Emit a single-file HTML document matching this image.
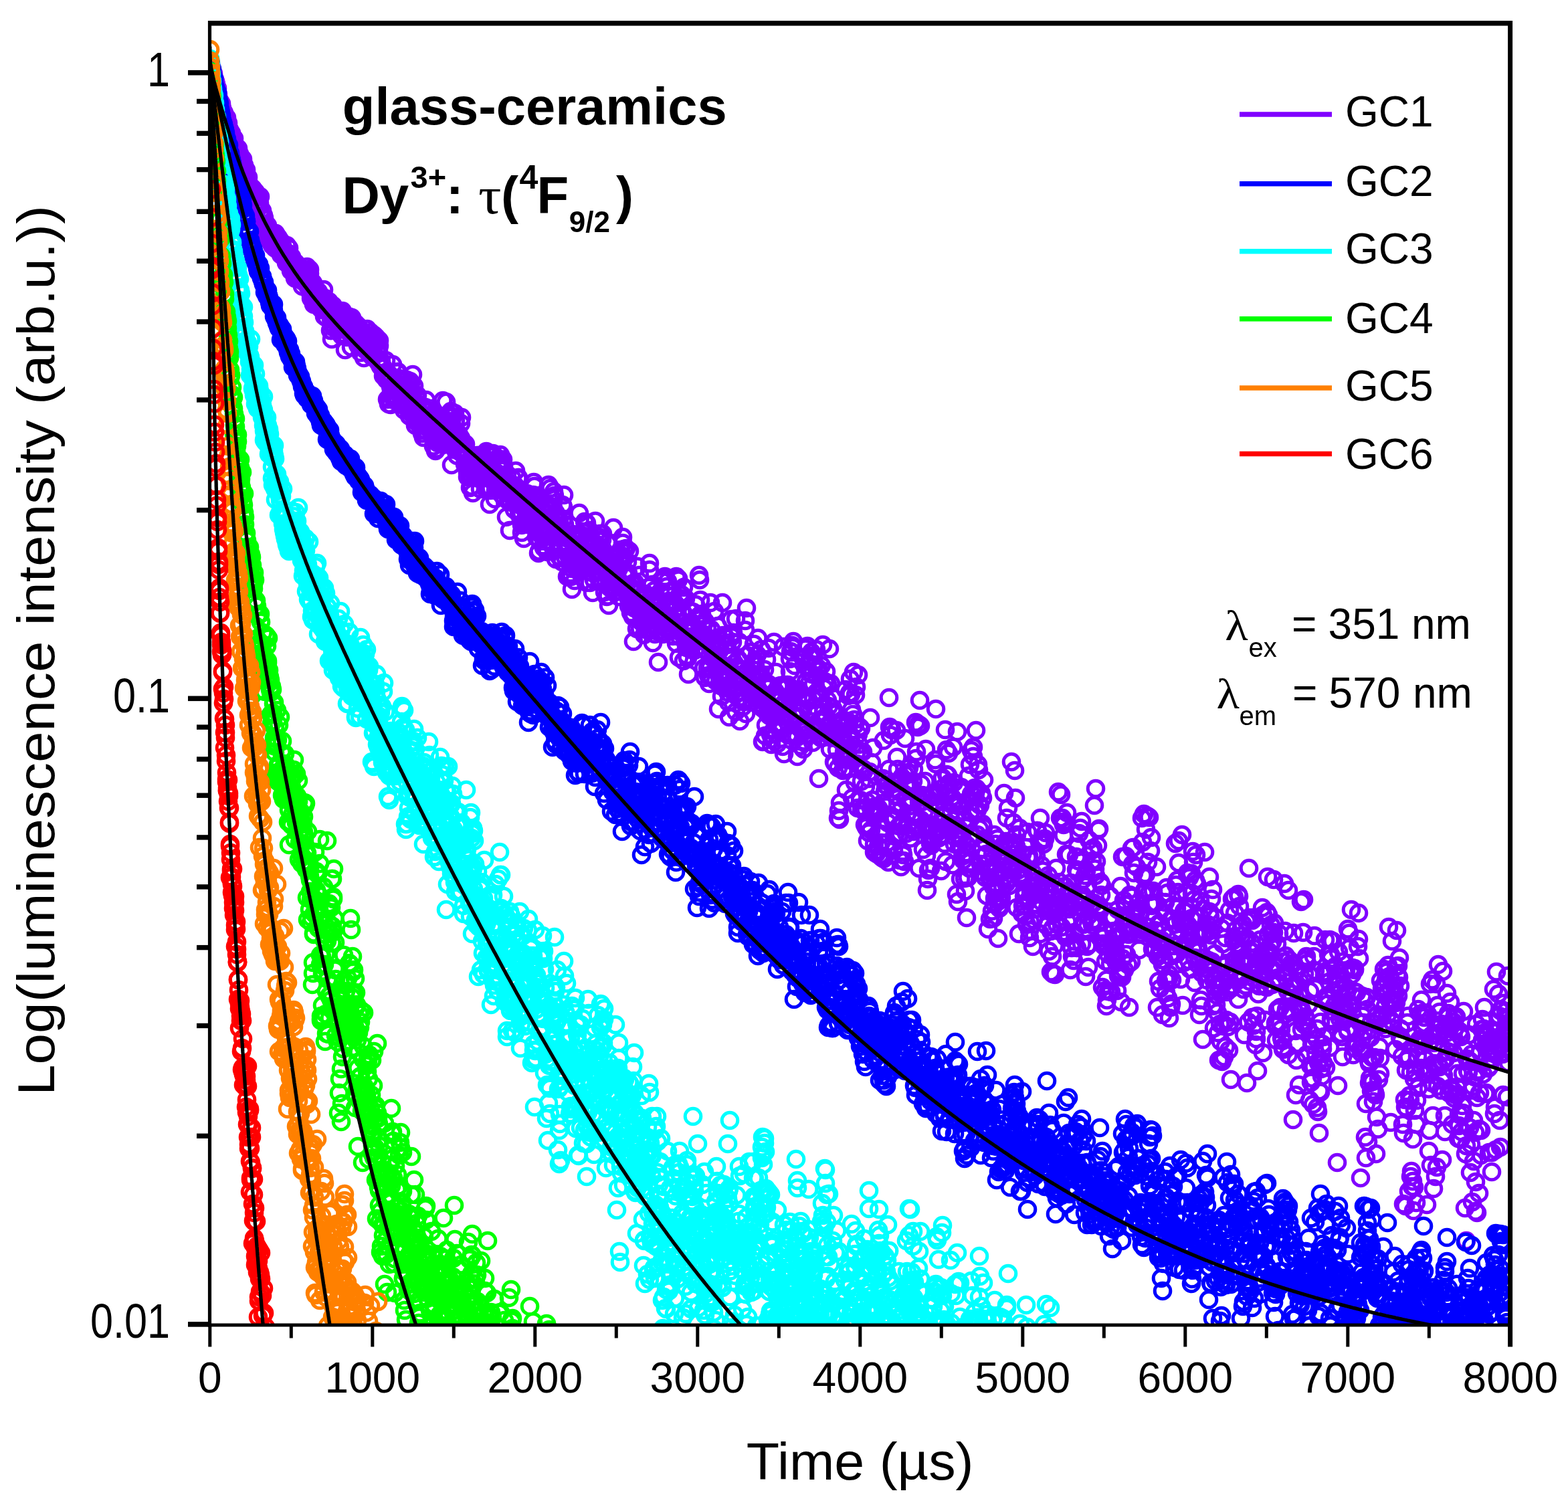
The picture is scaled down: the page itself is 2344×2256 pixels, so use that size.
<!DOCTYPE html>
<html><head><meta charset="utf-8"><title>Luminescence decay</title>
<style>html,body{margin:0;padding:0;background:#fff;width:2344px;height:2256px;overflow:hidden}svg{display:block}</style>
</head><body>
<svg xmlns="http://www.w3.org/2000/svg" width="2344" height="2256" viewBox="0 0 2344 2256">
<defs>
<marker id="mGC1" markerUnits="userSpaceOnUse" markerWidth="40" markerHeight="40" refX="20" refY="20" orient="0" overflow="visible"><circle cx="20" cy="20" r="11.8" fill="none" stroke="#8000ff" stroke-width="5.0"/></marker>
<marker id="mGC2" markerUnits="userSpaceOnUse" markerWidth="40" markerHeight="40" refX="20" refY="20" orient="0" overflow="visible"><circle cx="20" cy="20" r="11.8" fill="none" stroke="#0000ff" stroke-width="5.0"/></marker>
<marker id="mGC3" markerUnits="userSpaceOnUse" markerWidth="40" markerHeight="40" refX="20" refY="20" orient="0" overflow="visible"><circle cx="20" cy="20" r="11.8" fill="none" stroke="#00ffff" stroke-width="5.0"/></marker>
<marker id="mGC4" markerUnits="userSpaceOnUse" markerWidth="40" markerHeight="40" refX="20" refY="20" orient="0" overflow="visible"><circle cx="20" cy="20" r="11.8" fill="none" stroke="#00ff00" stroke-width="5.0"/></marker>
<marker id="mGC5" markerUnits="userSpaceOnUse" markerWidth="40" markerHeight="40" refX="20" refY="20" orient="0" overflow="visible"><circle cx="20" cy="20" r="11.8" fill="none" stroke="#ff8000" stroke-width="5.0"/></marker>
<marker id="mGC6" markerUnits="userSpaceOnUse" markerWidth="40" markerHeight="40" refX="20" refY="20" orient="0" overflow="visible"><circle cx="20" cy="20" r="11.8" fill="none" stroke="#ff0000" stroke-width="5.0"/></marker>
<clipPath id="pa"><rect x="313" y="35" width="1942" height="1945"/></clipPath>
</defs>
<rect width="2344" height="2256" fill="#fff"/>
<g clip-path="url(#pa)">
<path fill="none" stroke="none" marker-start="url(#mGC1)" marker-mid="url(#mGC1)" marker-end="url(#mGC1)" d="M314 95l1 2 0 4 1 4 1 2 0 4 1 0 1-1 1 7 0 3 1-1 1 3 1 4 0 5 1 1 1 0 0 9 1 0 1 8 1 1 0 4 1-2 1 6 1-3 0 3 1 4 1 9 0-4 1 0 1 2 1 8 0-2 1 4 1 2 1-5 0 9 1 0 1-1 1 8 0 1 1 1 1 3 0 8 1-3 1-3 1 14 0-8 1 6 1 5 1-9 0 6 1 10 1-3 0-1 1 5 1-2 1 4 0-2 1-2 1 11 1-3 0 5 1-1 1 7 0-1 1 0 1-3 1 1 0 13 1 0 1-4 1 15 0-5 1 1 1-4 0 5 1 8 1 3 1 2 0-7 1 13 1 1 1-1 0 4 1 2 1 7 0-5 1 4 1-8 1 4 0 4 1-3 1 6 1-6 0 6 1-2 1 11 1-8 0 14 1 3 1-8 0 6 1-5 1-10 1 21 0 2 1-3 1 1 1 7 0 4 1-4 1 4 0 13 1-4 1 2 1 9 0-7 1 10 1-12 1 7 0 2 1 6 1-2 0 10 1 0 1-10 1 14 0-16 1 19 1-17 1 13 0-12 1 6 1 14 0-22 1 0 1 12 1 3 0 0 1 7 1-16 1 15 0-3 1 7 1 0 1 7 0-20 1 14 1-8 0 9 1 7 1-2 1 3 0-4 1 3 1 0 1 10 0-5 1-21 1 20 0 4 1-12 1-8 1 26 0-10 1 6 1 12 1-21 0 9 1 1 1 10 0-10 1 11 1-2 1 11 0 2 1-23 1 18 1-7 0 4 1 5 1 1 0-10 1 10 1-1 1-1 0-11 1 6 1 3 1 10 0 8 1-23 1 0 0 10 1-7 1-2 1-1 0-1 1 14 1-19 1 29 0-20 1 5 1-2 1-8 0 6 1 29 1 8 0-26 1 21 1-10 1-8 0 27 1 5 1-26 1 2 0 4 1-3 1 10 0 9 1-14 1 11 1 10 0-22 1 8 1-3 1 17 0-2 1 6 1 0 0-11 1 12 1-13 1 1 0-18 1 40 1-27 1 12 0-1 1 18 1-11 0-13 1 10 1 0 1 5 0-15 1 15 1 28 1-17 0 17 1 13 1-29 1-21 0 16 1 17 1-3 0-24 1 12 1 1 1 2 0-1 1-9 1 4 1 4 0 17 1-19 1 15 0-21 1 31 1-14 1-1 0 18 1-37 1 3 1 24 0-14 1 5 1 40 0-38 1 5 1-1 1 15 0-10 1 0 1-17 1 11 0 5 1-19 1 26 0-1 1 20 1-44 1 8 0 1 1 4 1 8 1 0 0 7 1 0 1-2 0-17 1 13 1 9 1 8 0 2 1-28 1 15 1 6 0 6 1 12 1-14 1-12 0 17 1-2 1 0 0-5 1 24 1-20 1 8 0-23 1 22 1-18 1-12 0 25 1 5 1-10 0 3 1 14 1-18 1-14 0 24 1-1 1 12 1-19 0 21 1-2 1-31 0 27 1-25 1 0 1 10 0-4 1-4 1 16 1 7 0 13 1-17 1-15 0 8 1 29 1 2 1-1 0-7 1 10 1-2 1 2 0 12 1-2 1-1 1 6 0-8 1-18 1 19 0 10 1 29 1-33 1 40 0-8 1-36 1 3 1 15 0 27 1-21 1 6 0-22 1-23 1 30 1 17 0 6 1-20 1 1 1 16 0-23 1 21 1-37 0 1 1-1 1 25 1-15 0 11 1 6 1 0 1 18 0 4 1-36 1 16 0-6 1-11 1 45 1-16 0-16 1-4 1 13 1-22 0 13 1 25 1-4 1-28 0 7 1 41 1-52 0 13 1-10 1 29 1 0 0 17 1-59 1 44 1-27 0 38 1-14 1 35 0-23 1-22 1 40 1-40 0 13 1 27 1-8 1 1 0-6 1 11 1 7 0-8 1 15 1 5 1-22 0-17 1 45 1-29 1 12 0 6 1-34 1 25 0-36 1 40 1-22 1 11 0 10 1-25 1 14 1-13 0 11 1 21 1-18 0-2 1-14 1 36 1-15 0 35 1-44 1 35 1 16 0-33 1-20 1 50 1-9 0-7 1 6 1-30 0 21 1-3 1-25 1 23 0-23 1 25 1 4 1 12 0-66 1 37 1-9 0 5 1-3 1 3 1-31 0 51 1 11 1-10 1 7 0-37 1-1 1 32 0 9 1-19 1-29 1 80 0-64 1 29 1-37 1 38 0-15 1 24 1-11 0-41 1 10 1 22 1 9 0 22 1-28 1-5 1 2 0 2 1 21 1-19 1 1 0-22 1-9 1 36 0 15 1-12 1 13 1 5 0-11 1 24 1-30 1 17 0-3 1 13 1 15 0 7 1-12 1 9 1-16 0 6 1 29 1-31 1 29 0-17 1-9 1 36 0-49 1-4 1 5 1 4 0-3 1 12 1-15 1 6 0-12 1 29 1-29 0 3 1 8 1 8 1-18 0 49 1-45 1 5 1 0 0-1 1 23 1-9 0-19 1 4 1 4 1 38 0-45 1-11 1 2 1 15 0 39 1-52 1 21 1 54 0-62 1 41 1-3 0-13 1-36 1 35 1-13 0-25 1 4 1 35 1 5 0 24 1-13 1-26 0 0 1 5 1-19 1 34 0-18 1-18 1 1 1-12 0 11 1 12 1-13 0 25 1 16 1-44 1 14 0-4 1 46 1-27 1 9 0 11 1 37 1-42 0-22 1 13 1 27 1-11 0-15 1 70 1-44 1-14 0-1 1-20 1 12 1 18 0 0 1-12 1 30 0-13 1-23 1-22 1 43 0-4 1-6 1-22 1 28 0-29 1 55 1-17 0 3 1-19 1-3 1 63 0-11 1-29 1 27 1 22 0-62 1 13 1 0 0 22 1-36 1 28 1-32 0 46 1-3 1-27 1 22 0-32 1 8 1 30 0-24 1 12 1-28 1 37 0-3 1-36 1-19 1 6 0 43 1-2 1-27 1 39 0 23 1-26 1-7 0 35 1 22 1-3 1-53 0 38 1-15 1-8 1-9 0 24 1-21 1 36 0-14 1 17 1-54 1 27 0 17 1-11 1-5 1-24 0 56 1-16 1-20 0-64 1 31 1 21 1-18 0-29 1 47 1 3 1-34 0 16 1-3 1 26 0-50 1 6 1 26 1 0 0 69 1-65 1 20 1-13 0-5 1 23 1 36 0-53 1 25 1-12 1 5 0-7 1 50 1-85 1 21 0-18 1-18 1 44 1 49 0-20 1 12 1-14 0-10 1 61 1-57 1 55 0-43 1 16 1 10 1-3 0 17 1 5 1 19 0-31 1-48 1-3 1 16 0 16 1 37 1-60 1 38 0-3 1 3 1-14 0 10 1-13 1 25 1-22 0-65 1 53 1 4 1-20 0-4 1 47 1-25 0-27 1 16 1 3 1-34 0 54 1-19 1 15 1-48 0 89 1-34 1-2 1-28 0 3 1-17 1 78 0-60 1 28 1 10 1-31 0 38 1 30 1-49 1 30 0-26 1-28 1 0 0-34 1 43 1 34 1-22 0 4 1 7 1-42 1 27 0 37 1-69 1 22 0-11 1 9 1-11 1 19 0-28 1 25 1 4 1 3 0 55 1-33 1 5 0-11 1 46 1-80 1 41 0 38 1 14 1-39 1-5 0 18 1-22 1 21 0-33 1 35 1-19 1-28 0-44 1 97 1-16 1 9 0-47 1 52 1-22 1-15 0 23 1-4 1-16 0 42 1-21 1-31 1-18 0 8 1 44 1-37 1-34 0 9 1 21 1 26 0-38 1 40 1 22 1-4 0-59 1 42 1-22 1 53 0-36 1 49 1-9 0-73 1 53 1 39 1-10 0-9 1-24 1 49 1 37 0-41 1-9 1-2 0-36 1 29 1-15 1 55 0-57 1-36 1 40 1 16 0 4 1-47 1 80 1-22 0-15 1-7 1 35 0-21 1 17 1-12 1 7 0 27 1-33 1-28 1 53 0-22 1-27 1 50 0-36 1 36 1-64 1-36 0 10 1 71 1-27 1 19 0 2 1-43 1 87 0-69 1 35 1-44 1 39 0 26 1-27 1-13 1 21 0-14 1 29 1 46 0-91 1 5 1 15 1 0 0-34 1 44 1 5 1-18 0-47 1 79 1-82 0 59 1 13 1-76 1 46 0 38 1-27 1-42 1-8 0 56 1-26 1-8 1 46 0-30 1 15 1 18 0 2 1-14 1 4 1 19 0-1 1-48 1 32 1-22 0-10 1 20 1-60 0 100 1-54 1 35 1-78 0 2 1 116 1-31 1-57 0-7 1 1 1 27 0-19 1-7 1 26 1-38 0 110 1-91 1 61 1-63 0 48 1 25 1-34 0 46 1 4 1 24 1-42 0-14 1-18 1 37 1-41 0 32 1 1 1-26 1-22 0 46 1-5 1-5 0-10 1 31 1-68 1 52 0-32 1 44 1-43 1-2 0 29 1-92 1 60 0-53 1 30 1 61 1-10 0-30 1 15 1 2 1 14 0 50 1-50 1 64 0-84 1 42 1 2 1-17 0-17 1 60 1 11 1-19 0 31 1-30 1-91 0 97 1-57 1 70 1-52 0 25 1-6 1-21 1-43 0 64 1 5 1 35 1-46 0 29 1-34 1 32 0-63 1 124 1-50 1-38 0 40 1 13 1-17 1 33 0-47 1-93 1 49 0 77 1-8 1-15 1-52 0 66 1-3 1-54 1 3 0 47 1 24 1 15 0-25 1 47 1-96 1 47 0-38 1-59 1 26 1 81 0-73 1-14 1 70 0 5 1-29 1 47 1-114 0 139 1-39 1-26 1 1 0-13 1-1 1 24 0-50 1 118 1-62 1 26 0-23 1 0 1 38 1-8 0-48 1 16 1 32 1-107 0-14 1 139 1-61 0-97 1 71 1 22 1 16 0 11 1-12 1 11 1-53 0 48 1 2 1 25 0-41 1 31 1-25 1-52 0 30 1-5 1 7 1 14 0 8 1 8 1-46 0 73 1-98 1 57 1 31 0-9 1 8 1-32 1 37 0-75 1 83 1 55 0-50 1 49 1-65 1-42 0 23 1 76 1-16 1-98 0 66 1 14 1-37 1-60 0 54 1 47 1-7 0-9 1 44 1 15 1-42 0 34 1-35 1-8 1-102 0 131 1-30 1 0 0-27 1-29 1 65 1 11 0 31 1-27 1-59 1 22 0 40 1-24 1-17 0-22 1 46 1-14 1 59 0-26 1-123 1 160 1-74 0-28 1 24 1 16 0-36 1-5 1 1 1 74 0-75 1 32 1-15 1-37 0-19 1-11 1 66 0-65 1-10 1 3 1-9 0 75 1 4 1-43 1 102 0-64 1 40 1-2 1 60 0-29 1-31 1-39 0-1 1 52 1 6 1 26 0-55 1 27 1-44 1-60 0 79 1 58 1-32 0 20 1-15 1-123 1 49 0 79 1-103 1-29 1 79 0 17 1-14 1-27 0-15 1-24 1-1 1 2 0-8 1 33 1 102 1-65 0-22 1 33 1-62 0 62 1 29 1-114 1 40 0 24 1-32 1-4 1 37 0 128 1-75 1-10 1 24 0-58 1-50 1 80 0 28 1-139 1 101 1 37 0-73 1-10 1 57 1-72 0 67 1 25 1-49 0-24 1 75 1-42 1 26 0-112 1 150 1-98 1 75 0 6 1-39 1-5 0-16 1 50 1 46 1 2 0-42 1 3 1-35 1 54 0-24 1-16 1 67 0 75 1-11 1 13 1-132 0 107 1-92 1 27 1-58 0 31 1 44 1-1 1-18 0-9 1 24 1-28 0-89 1 150 1-96 1 51 0-58 1-38 1 41 1-45 0 113 1-134 1 85 0-62 1 23 1 132 1-79 0-46 1-63 1 71 1 8 0 86 1-131 1-12 0 98 1 17 1 66 1-110 0-89 1 104 1-26 1 39 0 70 1-107 1 121 0-42 1-19 1-25 1 26 0 4 1 54 1 25 1-57 0 34 1 27 1-3 0-35 1 58 1-24 1 12 0-81 1-10 1-81 1 168 0-33 1-68 1 56 1 11 0-89 1 102 1 42 0 12 1-66 1 6 1 62 0 0 1-64 1-2 1 55 0-57 1 2 1 69 0-31 1-32 1 44 1 22 0-35 1-46 1-37 1 120 0-177 1 173 1-97 0-16 1 7 1 32 1 54 0-85 1 55 1 59 1-246 0 107 1-63 1 132 0-120 1-9 1 1 1 81 0 53 1-46 1 92 1-21 0-79 1 52 1-34 1 2 0-99 1 40 1 73 0-55 1 100 1-15 1-51 0 102 1-40 1 50 1-64 0-70 1 111 1-45 0 50 1 9 1 1 1-130 0-54 1 93 1 49 1-72 0 43 1-62 1 21 0-5 1-23 1 57 1-10 0 58 1-59 1 45 1-59 0 39 1-51 1-18 0 93 1-28 1 6 1-87 0-54 1 44 1 64 1-101 0 152 1-156 1 116 0 99 1-251 1 38 1 141 0-54 1 27 1-10 1 81 0-30 1-48 1 20 1-44 0 63 1-111 1 159 0-40 1 92 1-17 1-120 0 107 1-69 1 24 1 42 0-37 1 3 1-8 0-67 1-2 1 54 1 10 0-64 1 15 1-66 1-76 0 82 1 49 1 9 0 37 1 7 1 9 1-22 0 8 1-53 1 65 1-3 0 54 1-137 1 65 0-67 1 55 1-41 1 84 0-52 1-118 1 197 1-130 0-37 1 64 1-26 1-33 0 105 1-60 1 70 0-7 1 1 1-21 1-11 0-11 1 101 1-176 1 53 0 31 1 61 1-10 0-28 1 10 1 103 1-118 0-125 1 254 1-143 1 35 0 23 1-81 1 132 0-65 1-72 1 91 1 12 0-24 1 30 1-105 1 132 0-88 1 107 1-95 0 38 1 97 1-108 1 48 0-36 1-116 1 138 1-9 0-146 1 70 1-91 0 65 1 64 1-53 1-81 0 14 1 52 1-5 1 8 0 27 1-121 1 87 1 69 0-37 1-68 1 8 0 51 1 37 1-35 1 99 0-11 1-106 1 83 1-37 0-39 1 44 1 42 0-113 1 92 1 54 1-52 0 17 1 62 1-48 1 10 0 88 1-90 1 5 0 8 1 62 1-62 1-13 0-3 1 66 1-85 1 96 0-47 1-78 1 104 0-9 1-81 1 72 1-6 0-28 1-46 1 149 1-56 0 8 1 3 1-13 1-2 0-59 1 58 1-53 0-17 1 54 1-47 1-93 0 76 1 48 1-31 1 42 0-63 1-35 1 93 0-30 1-78 1 92 1-38 0 62 1-11 1-17 1-157 0 150 1 6 1 2 0-20 1-47 1 30 1-108 0 112 1-71 1 72 1-17 0 109 1-63 1-2 0 9 1 95 1-158 1 72 0 4 1-8 1 1 1-30 0 89 1-12 1-56 1 12 0 30 1 14 1 15 0-36 1-66 1 115 1-138 0 38 1 64 1-67 1 112 0 11 1-24 1-45 0-6 1 9 1-32 1 111 0-137 1 97 1-41 1-16 0 33 1 8 1-22 0-57 1-38 1 0 1 89 0-9 1 10 1-73 1 137 0-173 1 105 1 20 0-54 1-37 1 45 1-40 0 55 1-63 1 0 1 78 0-87 1 77 1 7 0 55 1-26 1-49 1 113 0-92 1 23 1 10 1 90 0-61 1-35 1 73 1-43 0 69 1-104 1 62 0-84 1 127 1-133 1 39 0-65 1 84 1-23 1-175 0 173 1-12 1-26 0 35 1-131 1-35 1 146 0 52 1-163 1 6 1 20 0-16 1 123 1-31 0 68 1 8 1-124 1 101 0-163 1 140 1 44 1-67 0-54 1 81 1 91 0-78 1-52 1 97 1 13 0-94 1 41 1 59 1-42 0 13 1-60 1 3 1-69 0 19 1 117 1-113 0-38 1 21 1-41 1 92 0 17 1-117 1 117 1 56 0-183 1 110 1-23 0 65 1 2 1-2 1-35 0-36 1 151 1-158 1 113 0-1 1-90 1 45 0 77 1-190 1 155 1-59 0-1 1-79 1 106 1-91 0 96 1-115 1 107 0-25 1-146 1 95 1 10 0-130 1 109 1 72 1-96 0 115 1-138 1-2 0 115 1 8 1-43 1 19 0 63 1-77 1 152 1-74 0 9 1 3 1-21 1 88 0-89 1 45 1 28 0 39 1-9 1-81 1 68 0-55 1-55 1 0 1-32 0 101 1 42 1-111 0 39 1-41 1 61 1-60 0 21 1 10 1 15 1 8 0 12 1 2 1-39 0 81 1-121 1 99 1-60 0 55 1 4 1-133 1 127 0 46 1-37 1-28 0-152 1 112 1-47 1 104 0-76 1-22 1-72 1 147 0-74 1 18 1 71 1-56 0 11 1 109 1-167 0-1 1 55 1 45 1-170 0 73 1-49 1-25 1 119 0-81 1 67 1-9 0 4 1-3 1-68 1 64 0 19 1 8 1-38 1 71 0-23 1-29 1 27 0-31 1 26 1-167 1 36 0 50 1 27 1-119 1 90 0 24 1-25 1 1 0-67 1 90 1-110 1 166 0-97 1 104 1-171 1 129 0-18 1-61 1-20 0 146 1-44 1 65 1-87 0 20 1 22 1 28 1-11 0 28 1-69 1-54 1 210 0-98 1 22 1-49 0 86 1-42 1 53 1-97 0 37 1 17 1-29 1 36 0 75 1-124 1 17 0 25 1-70 1-16 1 135 0-18 1-139 1 8 1 130 0 27 1-29 1-6 0 65 1-92 1 76 1-5 0-127 1 91 1-41 1-50 0-20 1 60 1-32 0 43 1-164 1 62 1 103 0-68 1-42 1 18 1-77 0 33 1 123 1-23 1 74 0-89 1 6 1-133 0 130 1 125 1-88 1-53 0 77 1-26 1-34 1-45 0 30 1 43 1-102 0 81 1-3 1 53 1-36 0-88 1 137 1-94 1-49 0 67 1-37 1 83 0-146 1 16 1 56 1 124 0-37 1-116 1-38 1 93 0-50 1 120 1-18 0-6 1-20 1 120 1-147 0-23 1 148 1 9 1-106 0 57 1 99 1-195 1 37 0 36 1-158 1 119 0 54 1-52 1 70 1-16 0-67 1 58 1-4 1-125 0 52 1 7 1 21 0 7 1-54 1 94 1-108 0 174 1-39 1 72 1-61 0-50 1-54 1 130 0-39 1 25 1 26 1 30 0-73 1 114 1-109 1 9 0 46 1 26 1 27 0-196 1 199 1-176 1 59 0 61 1 49 1-136 1-42 0 163 1-40 1-85 0 43 1-103 1 155 1-73 0 108 1-209 1 167 1 86 0-136 1-5 1-129 1 129 0-26 1-41 1-65 0 94 1-70 1 26 1 45 0-25 1 0 1 55 1-129 0 157 1-154 1 15 0 65 1 44 1-28 1-37 0-12 1 32 1-37 1 97 0-46 1 114 1-143 0 36 1 33 1-96 1 26 0 216 1-182 1 91 1-156 0-74 1 169 1-34 0 21 1-32 1-13 1-33 0 145 1-149 1 161 1-70 0-45 1 33 1 111 1-9 0-11 1-23 1-74 0 156 1-115 1-12 1-1 0 1 1-69 1 54 1-30 0 9 1-81 1 217 0-206 1 82 1-8 1 33 0 50 1-99 1 12 1-74 0 112 1-165 1 57 0 29 1 26 1 4 1 21 0-34 1-31 1 13 1 76 0-64 1 42 1-56 0-79 1 65 1 63 1 91 0-5 1 26 1-144 1 98 0-47 1 49 1-41 0-74 1 132 1-22 1 33 0-107 1 120 1 4 1 13 0-4 1-127 1-117 1 196 0-125 1 37 1 80 0-54 1-2 1 29 1-151 0 246 1-142 1 11 1 67 0-38 1-34 1 53 0-8 1-10 1 198 1-234 0-45 1 78 1-2 1 166 0-96 1 44 1-23 0-111 1 109 1-57 1 119 0-134 1-21 1 45 1-4 0-160 1 191 1-11 0-15 1-119 1-49 1 111 0 76 1-12 1-85 1 142 0-147 1 10 1 96 1-34 0 0 1-45 1 188 0-163 1 111 1 25 1-72 0 16 1 50 1 39 1-56 0-165 1-31 1 79 0-27 1 124 1-22 1-15 0 118 1 6 1-73 1 42 0 63 1-110 1 49 0-105 1 70 1 11 1-48 0 7 1 21 1-39 1-92 0-5 1-48 1 191 0-104 1-2 1-35 1 39 0 7 1-74 1 41 1 98 0-161 1 22 1 96 0-90 1 94 1-120 1 75 0 30 1-30 1 21 1-58 0 2 1 11 1 40 1 240 0-268 1 153 1-151 0-49 1 56 1 44 1-12 0 0 1 34 1 5 1 30 0-142 1 73 1-58 0 73 1-22 1 12 1-40 0-25 1 32 1 56 1 4 0-154 1 113 1-2 0-105 1 22 1 32 1 55 0-144 1 97 1-10 1 42 0 88 1-10 1-117 0-2 1 35 1 57 1 21 0-77 1 78 1-147 1-11 0-39 1 68 1 96 1 38 0 194 1-187 1-21 0-64 1 30 1 10 1 42 0-30 1-45 1 204 1-50 0 81 1-240 1 18 0 33 1 165 1-121 1 33 0-29 1 22 1-61 1 80 0-103 1 53 1 49 0-13 1 30 1-108 1 94 0-52 1 56 1 88 1-207 0 152 1-153 1 8 0 163 1-74 1-49 1 17 0 23 1-139 1 52 1-40 0 43 1-46 1 57 1-45 0-38 1 28 1 27 0 34 1-74 1-11 1 34 0 30 1-74 1-57 1 109 0-35 1 0 1 218 0-201 1 49 1-119 1 93 0 29 1-33 1-22 1 41 0-29 1 83 1-70 0-54 1-54 1 67 1 31 0-45 1 17 1-29 1 42 0 77 1-13 1 15 0 3 1 23 1 102 1 119 0-106 1 107 1-157 1 11 0 148 1-203 1-15 0 72 1-128 1-10 1 262 0-201 1 58 1 7 1-42 0 156 1-8 1 23 1-8 0-63 1 107 1-35 0-162 1 47 1-57 1 195 0-117 1-36 1-66 1 47 0-117 1 54 1-8 0-1 1-38 1 81 1-102 0 39 1 19 1 10 1-25 0-24 1 7 1 34 0-25 1 54 1-69 1 91 0 195 1-285 1 84 1 121 0-93 1 62 1-219 0 86 1 185 1-194 1 71 0-154 1 203 1 109 1-218 0 31 1 5 1 164 1-221 0-67 1 274 1-242 0 121 1-182 1 107 1 46 0-82 1 31 1 86 1-99 0 84 1 119 1-282 0 135 1 21 1-69 1 153 0-24 1-85 1-2 1-37 0-59 1 87 1-52 0-5 1 119 1-96 1 89 0-129 1 35 1 26 1 122 0-124 1 73 1-102 0 46 1 68 1-120 1 14 0 101 1-117 1 105 1 11 0-31 1 97 1-19 0-17 1-124 1 6 1 155 0-153 1 142 1-39 1-48 0 59 1-152 1 154 1 140 0-237 1 156 1-12 0 142 1-272 1 18 1 2 0-18 1-38 1 139 1-99 0 166 1-42 1-135 0 54 1 167 1-173 1 51 0 61 1-126 1 83 1 118 0-44 1-236 1 282 0-172 1-38 1-3 1 184 0-96 1-54 1-61 1 117 0 37 1-188 1-15 0 31 1 51 1-68 1 10 0-42 1 129 1-92 1 17 0 74 1-85 1 16 1 32 0-38 1 164 1-129 0-22 1 10 1-41 1 182 0 29 1-170 1-13 1-90 0 76 1 110 1-124 0 114 1 64 1-266 1 110 0-20 1 8 1-65 1 81 0-48 1 156 1 40 0-204 1-2 1 51 1 14 0 2 1 61 1-137 1 43 0 5 1 3 1-39 0 26 1-15 1 117 1-107 0-74 1 130 1-19 1-50 0-1"/>
<path fill="none" stroke="none" marker-start="url(#mGC2)" marker-mid="url(#mGC2)" marker-end="url(#mGC2)" d="M314 89l1 6 0 3 1 4 1 1 0 5 1 7 1 0 1 3 0 7 1 3 1 3 1 4 0 1 1 1 1 1 0 6 1 4 1 3 1 4 0 8 1 0 1 5 1 5 0 4 1 3 1 3 0 6 1-3 1 5 1 3 0 2 1 3 1 7 1 2 0 8 1 6 1 3 1-8 0 15 1-4 1 1 0 10 1-3 1 3 1 6 0-1 1 9 1 7 1-1 0 6 1 5 1 2 0-9 1 12 1 0 1 4 0 0 1 4 1 3 1 5 0 4 1 0 1 0 0-3 1 7 1 0 1 8 0 6 1 8 1-2 1 11 0-3 1-4 1 8 0 0 1 9 1 6 1 0 0 3 1-3 1 0 1 13 0 2 1 2 1 4 0 6 1-3 1 2 1 3 0 8 1-2 1 8 1-7 0 10 1-1 1 3 1 3 0 4 1 5 1-11 0 8 1 2 1-4 1 11 0 0 1 4 1-3 1 5 0 3 1 4 1-1 0-2 1 15 1-6 1 3 0 1 1 8 1-9 1 8 0 0 1 3 1 7 0-3 1 8 1-1 1 0 0 1 1 2 1 3 1-7 0 9 1 9 1 0 0 2 1 0 1 4 1 4 0-8 1 9 1 4 1 1 0 2 1-5 1 6 1-1 0 17 1-11 1-2 0-3 1 10 1 9 1-9 0 7 1 6 1-3 1-6 0 1 1 5 1 10 0-12 1 17 1-3 1 9 0-10 1 6 1 0 1 6 0 3 1 0 1 11 0-11 1 1 1 7 1 0 0-1 1-4 1 6 1 4 0 4 1 6 1-2 0-1 1 4 1 1 1 0 0 4 1 3 1 0 1 5 0 3 1 0 1 10 0-10 1 13 1-8 1 5 0-3 1 6 1 5 1-8 0 5 1 1 1 0 1-3 0 1 1 4 1 9 0-5 1-1 1-7 1 8 0 3 1-4 1 7 1 2 0 0 1 10 1-10 0 4 1 5 1 5 1-5 0-5 1 11 1 4 1-6 0 10 1 5 1-8 0 3 1-1 1 3 1-3 0 5 1 3 1 1 1-4 0-1 1 2 1 2 0 19 1-8 1-2 1-1 0 11 1-14 1 8 1 6 0-2 1 4 1 4 1-4 0 6 1 7 1-3 0-1 1 6 1-10 1 13 0-13 1 5 1 10 1-4 0-4 1 8 1 6 0-5 1-9 1 19 1-10 0 4 1 1 1 2 1 0 0-6 1 3 1 8 0-12 1 16 1-10 1 4 0-4 1 5 1-3 1 7 0-4 1 4 1-9 0 15 1-9 1 4 1 2 0 5 1-5 1 11 1 0 0-9 1 13 1-14 0 10 1-1 1 3 1 0 0 5 1 3 1 0 1-4 0 1 1 1 1 6 1 4 0 9 1-11 1 0 0 8 1-5 1-2 1 8 0-4 1 5 1 13 1-7 0 1 1-5 1 9 0-2 1 4 1-4 1 0 0-4 1 2 1 5 1 1 0 3 1 2 1-8 0 23 1-9 1-2 1-4 0 15 1-9 1-3 1 9 0 10 1-11 1 5 0-12 1 10 1-18 1 11 0 7 1-1 1 5 1-10 0-7 1 13 1-7 1 15 0-8 1-13 1 29 0-18 1 1 1 25 1-2 0-2 1-14 1 12 1-1 0-6 1 5 1-1 0 5 1-11 1 16 1-19 0 16 1 5 1-11 1 3 0 21 1-16 1 14 0-3 1-12 1 16 1-9 0 7 1-18 1 18 1 10 0 1 1-1 1-8 0 2 1-7 1 8 1 2 0-1 1 6 1-3 1-3 0 1 1 13 1 12 1-8 0-9 1 26 1-18 0-8 1 10 1 6 1-26 0 5 1 17 1-14 1 2 0 25 1-35 1 37 0-5 1 10 1-10 1 16 0-12 1-9 1 10 1 6 0-18 1 25 1-18 0 13 1-5 1 2 1-1 0 2 1 8 1-2 1-11 0 6 1 11 1-5 0 0 1-6 1-2 1 2 0 9 1-6 1 17 1 15 0-26 1 19 1-6 0 4 1-19 1 22 1-16 0 10 1 9 1 5 1-23 0 2 1-4 1-11 1 19 0 1 1 6 1-2 0 7 1 7 1-33 1 46 0-24 1-2 1 4 1 13 0-9 1 3 1 7 0-12 1 4 1 2 1-14 0 22 1-18 1 14 1-12 0 6 1-1 1 17 0-1 1 3 1-11 1-5 0-2 1 21 1-5 1 23 0 9 1-16 1-1 0 12 1 4 1-29 1 18 0 12 1-52 1 28 1 7 0-12 1 19 1-29 1 42 0-2 1-13 1 10 0-27 1 42 1-9 1-10 0-3 1-3 1 11 1-24 0 38 1-8 1-9 0 16 1 0 1 1 1 2 0 5 1-10 1 12 1-29 0 26 1-53 1 4 0 7 1 18 1 5 1-25 0 16 1-4 1 20 1-23 0 30 1-10 1 29 0-12 1-14 1 17 1 2 0-16 1 15 1-18 1 51 0-40 1 1 1 31 0-4 1-33 1 29 1-7 0-18 1 14 1-12 1 22 0-17 1-11 1 13 1 40 0-43 1 11 1 16 0-35 1 49 1-55 1 39 0-34 1 25 1 20 1-22 0-4 1-4 1-9 0 30 1-23 1-5 1 15 0 10 1-1 1-28 1-2 0 25 1 8 1-41 0 46 1-27 1 17 1 17 0-29 1 8 1-24 1-3 0 35 1-18 1 2 0 29 1 7 1-39 1 34 0-4 1 6 1-1 1 9 0-22 1-7 1 29 1 18 0-23 1 28 1-14 0-31 1-18 1 34 1 25 0-32 1 52 1-27 1-39 0 14 1 37 1 5 0-43 1 17 1 12 1-16 0 20 1 26 1-46 1 28 0 9 1 9 1-27 0 21 1-23 1 17 1-22 0 28 1 6 1 25 1-15 0-33 1-43 1 78 0-4 1-26 1-4 1 20 0-14 1 30 1-25 1-22 0-14 1 33 1 2 1-13 0-13 1 11 1 23 0-22 1-14 1 30 1 10 0-37 1 0 1-13 1 15 0 14 1-4 1 12 0 0 1-5 1 2 1-26 0 50 1-18 1 16 1-36 0 29 1 18 1-19 0 19 1 15 1-36 1 19 0-17 1 14 1 10 1 14 0 26 1-35 1 13 0-12 1 13 1 12 1 5 0-36 1-14 1 30 1-17 0-21 1 44 1-11 0 15 1-46 1 19 1 16 0 26 1-29 1-22 1 29 0 6 1-20 1 41 1-24 0-10 1 30 1 2 0-21 1 8 1 4 1-9 0 1 1 25 1-4 1-22 0-12 1-3 1 50 0-39 1 10 1 19 1-8 0-5 1-19 1 63 1-35 0 16 1 1 1-30 0 6 1 37 1-17 1-14 0 34 1-52 1 20 1-6 0-4 1-34 1 41 0 10 1-47 1 52 1 1 0 19 1-55 1 18 1-6 0 6 1 6 1 14 1 0 0-29 1 8 1-35 0 57 1-6 1 14 1-55 0 62 1-47 1-15 1 37 0-21 1 66 1-42 0 28 1-46 1 2 1 17 0-44 1 13 1 21 1-1 0 25 1-30 1-39 0 57 1-24 1 28 1-29 0 13 1 21 1 40 1-27 0-40 1 37 1-21 0 28 1 33 1-56 1 2 0 23 1-5 1-17 1 23 0-23 1 16 1 54 0-51 1 13 1 9 1-28 0 25 1-23 1-12 1 28 0 44 1-17 1-39 1 32 0 15 1-16 1-13 0 7 1-9 1 37 1-14 0-2 1-7 1 51 1-48 0 26 1-73 1-6 0-5 1 23 1 35 1-39 0 32 1-21 1 42 1-6 0-25 1-34 1 52 0-60 1-12 1 111 1-30 0 24 1-21 1 9 1-13 0-31 1-2 1 16 0 4 1-5 1-2 1-14 0 16 1-13 1 52 1-55 0-24 1 49 1 47 1-72 0 51 1 57 1-54 0-20 1 6 1-25 1 16 0 12 1 53 1-26 1-39 0-19 1 46 1-14 0-34 1 67 1 1 1-48 0-13 1 23 1 51 1-64 0 40 1-58 1 23 0-11 1-13 1 35 1-42 0-14 1 26 1-29 1 61 0-47 1 22 1 40 0-26 1 16 1 3 1-19 0-29 1 44 1-14 1 48 0-46 1-33 1 11 0 11 1 33 1 14 1-25 0 39 1 0 1-64 1 62 0-81 1 103 1-51 1 52 0-35 1 38 1-28 0 7 1 9 1-27 1-33 0 63 1-47 1 24 1 0 0-75 1 130 1-45 0 30 1-47 1-5 1-71 0 48 1-47 1 13 1 56 0-30 1-35 1 45 0-1 1-9 1 64 1-21 0-37 1-6 1 48 1-18 0-6 1 2 1-26 0 21 1 0 1 52 1-8 0-42 1 62 1-55 1 32 0 7 1-44 1 45 1 7 0-2 1-21 1-69 0 138 1-57 1 11 1-34 0 45 1 63 1-107 1 76 0-25 1 39 1-6 0-15 1-38 1 0 1 41 0-33 1 23 1-16 1-5 0-18 1 35 1-16 0-12 1 3 1 27 1-79 0 72 1-38 1 20 1-30 0 103 1-125 1 75 0 30 1-36 1-66 1 58 0 51 1-20 1-56 1 81 0-35 1 1 1-84 1 75 0-56 1 59 1 0 0-62 1 9 1 72 1-75 0 0 1 42 1-24 1 1 0 29 1 7 1 7 0-9 1 35 1-36 1 45 0-46 1 6 1 28 1-60 0-36 1 18 1 84 0-84 1 34 1 10 1 19 0-17 1-43 1 30 1 35 0 12 1-4 1-28 0-37 1 94 1-25 1 15 0 13 1-29 1-1 1 56 0-9 1-63 1 28 0-8 1 27 1-5 1-27 0 26 1 14 1-33 1-30 0 58 1-63 1 13 1 50 0-22 1 5 1-19 0 2 1 58 1 3 1-67 0 30 1-9 1 2 1-38 0 82 1-66 1 57 0-43 1-17 1 81 1-46 0 22 1 2 1-7 1 30 0 0 1-43 1-5 0 40 1 24 1-109 1 40 0 24 1 37 1-11 1-20 0 32 1-72 1 45 0-6 1 36 1-4 1-4 0-29 1 13 1-2 1-20 0 0 1-43 1 52 1 21 0-31 1-48 1 64 0-20 1 14 1-24 1 6 0 35 1-16 1-36 1-2 0 7 1 5 1 40 0 3 1-40 1 63 1-28 0 48 1-37 1 10 1 13 0-49 1 39 1-8 0-2 1 13 1-65 1 60 0-21 1 41 1-22 1-5 0-2 1 7 1-24 0-47 1 53 1 0 1 9 0-78 1 16 1 37 1-1 0 47 1-11 1-7 0 7 1 30 1 1 1-31 0 10 1 62 1-54 1-35 0 53 1-23 1 40 1-65 0 52 1 0 1-26 0-87 1 91 1 15 1-52 0 9 1-44 1 92 1 11 0-29 1-18 1 5 0-20 1 75 1-15 1-15 0-28 1 12 1 25 1 15 0-53 1-1 1-56 0 92 1-54 1 82 1-15 0 5 1-3 1 11 1-7 0-12 1 9 1-31 0 20 1-4 1-51 1 33 0 2 1 2 1-5 1-19 0 43 1-63 1-14 1 14 0 54 1 31 1-30 0-17 1-19 1 35 1 7 0-56 1 72 1-50 1 10 0 66 1-36 1 26 0 14 1 26 1-3 1-45 0 22 1-14 1 33 1-18 0-2 1 28 1 0 0-54 1 4 1 22 1-24 0-30 1-42 1 82 1-51 0-42 1 56 1-46 0 118 1-115 1 50 1 56 0-71 1-3 1 2 1 7 0 45 1 21 1-3 1-7 0-8 1 23 1-11 0-22 1 15 1-63 1 3 0 91 1-16 1 14 1-6 0-51 1 41 1-2 0-25 1-37 1 34 1-1 0-40 1 15 1 2 1-13 0 65 1-33 1 32 0-48 1 12 1 58 1-63 0 74 1-58 1 33 1 29 0 8 1-17 1-5 0 17 1-29 1 46 1-32 0 0 1 43 1-51 1 36 0 23 1-37 1-9 0-28 1 36 1-53 1 3 0 12 1-7 1 29 1 21 0-30 1-11 1 21 1 11 0 31 1-57 1 11 0 40 1-32 1-18 1 25 0-24 1 3 1 58 1-26 0-16 1-10 1-12 0 89 1-41 1-15 1-9 0-11 1 69 1-11 1 18 0-45 1 51 1-60 0 4 1 9 1 50 1-27 0-38 1 51 1-32 1-6 0-33 1 17 1-2 0 18 1-13 1 3 1-30 0 29 1-41 1 80 1-86 0 46 1-44 1 36 1-26 0-22 1 68 1-21 0 8 1-14 1 53 1-42 0 1 1 17 1-20 1 39 0-95 1 33 1-49 0 95 1 9 1-46 1 61 0-57 1 34 1-12 1-19 0 8 1-62 1 43 0 62 1-73 1 77 1-42 0 43 1-9 1-69 1 68 0 5 1 1 1-4 0-57 1 85 1 3 1-52 0 63 1-33 1-50 1 39 0 13 1 6 1 5 0-9 1-22 1-39 1 11 0 52 1 6 1-43 1 77 0-35 1-1 1 23 1-1 0-36 1 57 1-19 0-6 1-19 1 41 1-74 0 45 1 0 1 3 1 9 0 9 1-66 1 33 0 9 1-36 1 54 1-40 0 20 1 26 1-49 1 68 0-62 1 48 1-35 0-33 1 32 1 36 1-14 0 11 1 24 1 0 1-32 0-14 1 65 1-50 0-17 1 10 1 30 1-65 0 70 1-58 1-35 1 116 0-66 1-1 1 3 1 29 0-14 1 31 1-47 0-17 1 37 1 6 1-16 0-19 1-5 1 3 1-8 0 46 1 41 1-109 0-28 1 101 1-19 1-32 0-19 1 18 1-16 1 56 0-8 1 8 1 32 0-44 1 25 1-6 1 44 0-40 1 63 1-43 1 54 0-15 1-54 1 33 0-21 1 52 1-103 1 33 0 18 1-14 1 2 1-39 0 41 1 51 1-38 0-54 1 25 1 30 1-37 0 16 1-22 1 69 1-23 0-56 1 31 1-23 1-62 0 86 1-20 1 31 0 4 1-15 1 46 1 23 0-114 1 57 1-43 1 39 0 0 1-20 1-2 0 64 1-85 1 76 1-38 0-90 1 96 1-60 1 77 0-33 1 24 1-13 0 44 1 3 1-40 1 62 0-23 1-49 1 44 1 10 0 8 1-38 1 19 0-14 1 14 1-72 1 84 0 50 1-66 1 4 1-6 0 56 1-94 1 41 1 0 0 49 1-66 1 19 0-50 1 66 1 29 1-42 0 37 1-41 1 50 1-29 0 4 1-6 1 15 0 8 1-26 1 15 1-27 0 10 1 61 1-76 1-62 0 37 1-17 1 1 0 32 1 27 1-84 1-11 0 19 1 6 1 3 1 19 0-8 1 14 1-8 0 52 1-7 1-42 1 39 0 72 1-83 1 83 1-149 0 49 1 4 1 50 1 18 0-28 1-6 1 29 0-28 1-16 1 7 1 57 0 40 1-70 1 23 1-35 0-45 1 0 1 51 0-30 1-23 1 59 1-9 0-23 1 31 1 14 1 7 0-26 1 20 1-52 0 41 1-70 1 10 1 89 0-85 1 56 1-67 1 35 0 22 1-26 1 46 0-30 1-1 1 20 1-19 0 48 1-56 1 61 1-67 0 4 1-11 1 46 0-130 1 117 1-16 1 32 0-85 1 76 1-58 1 75 0-45 1 28 1-50 1 51 0 23 1-45 1 62 0-4 1-59 1 97 1-89 0 45 1 20 1-38 1-12 0 43 1-14 1-36 0 0 1 27 1 23 1 3 0-15 1-51 1 0 1 7 0-49 1 65 1 0 0-2 1-95 1 153 1-86 0-4 1 19 1-88 1 53 0 22 1 69 1-47 0 36 1-12 1-5 1 24 0-43 1-44 1 20 1 29 0 73 1-119 1-5 1 46 0 7 1-51 1 56 0-69 1 74 1-9 1-40 0 59 1-59 1-21 1 78 0-90 1 66 1-41 0 21 1 34 1 11 1 49 0-29 1 10 1-88 1 32 0 93 1-75 1 25 0 24 1-29 1-11 1 50 0-10 1-15 1 41 1-41 0 10 1 22 1 5 0-42 1-22 1 19 1 41 0-62 1 20 1-20 1-27 0 77 1-30 1 14 0 8 1-117 1 43 1 104 0-83 1 39 1-68 1 45 0 13 1-12 1-8 1 17 0 12 1 0 1-23 0 64 1-38 1 7 1 16 0-44 1 78 1-32 1 19 0-50 1 38 1-18 0-12 1 74 1-74 1 45 0-16 1-4 1-33 1 5 0-42 1 64 1 23 0 0 1-46 1-45 1 48 0 28 1-40 1-8 1 0 0 24 1 59 1-85 0-75 1 28 1 93 1-96 0 74 1-121 1 31 1 60 0-83 1 72 1-52 1 29 0 58 1-71 1 90 0-108 1 58 1 49 1 29 0-142 1 5 1 111 1-126 0 60 1 14 1-8 0 8 1-71 1 58 1 87 0-151 1 52 1 91 1-20 0 30 1-29 1-6 0 14 1 37 1 12 1-60 0 38 1-97 1 123 1-64 0 25 1 25 1-93 0 45 1 33 1-31 1-65 0 87 1-117 1 25 1 38 0-73 1-11 1 43 0 19 1-61 1 8 1 108 0-27 1 5 1 15 1 50 0-92 1 45 1 9 1-46 0 92 1-9 1-4 0 36 1-5 1-28 1 34 0-50 1 80 1-39 1 58 0-56 1 15 1-91 0 18 1 2 1-66 1 11 0 27 1 56 1 27 1-59 0 13 1 11 1-15 0 54 1-134 1 114 1-18 0-53 1 92 1-105 1 1 0 57 1 31 1-22 0 55 1-135 1 59 1 33 0 7 1-62 1-40 1 119 0-26 1 48 1-98 1 25 0-91 1 106 1 14 0 10 1-66 1 101 1-100 0 20 1 30 1 13 1-86 0-37 1 102 1-43 0-52 1 106 1-11 1 43 0-38 1 2 1 18 1 16 0 37 1-7 1-13 0-65 1 46 1 13 1-63 0 2 1 52 1-7 1-56 0 11 1 47 1-45 0 10 1-52 1 83 1-76 0 18 1 59 1-90 1 3 0 93 1-146 1 134 1-11 0-27 1-50 1 8 0 30 1-63 1 45 1-41 0-36 1 99 1 119 1-79 0 31 1-41 1 6 0 58 1 2 1-33 1-1 0 85 1-133 1 39 1 0 0-14 1 52 1-40 0-47 1-2 1 29 1 32 0 24 1-87 1 38 1 41 0 72 1-51 1 43 0-132 1 44 1 35 1-23 0-131 1 57 1 103 1-54 0 40 1 15 1-84 0-100 1 31 1 68 1 18 0-26 1-37 1 111 1 18 0-164 1 74 1-60 1 62 0-57 1 94 1-50 0-49 1 24 1 68 1-61 0 72 1 33 1-83 1-38 0 28 1 95 1-90 0 12 1 54 1 87 1-146 0 9 1 22 1 97 1-7 0-103 1 13 1 18 0 33 1-24 1 41 1-9 0 23 1-47 1 27 1-61 0 7 1 61 1-121 0 126 1-72 1-35 1-14 0 146 1-144 1-15 1-14 0 159 1-67 1-28 1 16 0-81 1 94 1-84 0 34 1 92 1-16 1-19 0-23 1-39 1 55 1-50 0 109 1 61 1-115 0-38 1 37 1 26 1-64 0-70 1 93 1 28 1 5 0-128 1 92 1-28 0-26 1 9 1 93 1-79 0 10 1 23 1-17 1 76 0-14 1 25 1-49 0 63 1-42 1 63 1-41 0 8 1-13 1-13 1 9 0-2 1 73 1-140 0 72 1-20 1 21 1-85 0 80 1-66 1-34 1-25 0 17 1 23 1 79 1-114 0 3 1 15 1 2 0 34 1 28 1-70 1-6 0 108 1-84 1 35 1-24 0 33 1-32 1 10 0 12 1 104 1-88 1 40 0 55 1-71 1 92 1-90 0-31 1 97 1-56 0 21 1-7 2 2 0 19 1-26 1 29 1-47 0 33 1-19 1-32 0 48 1-36 1 29 1-15 0 41 1-58 1-24 1 54 0-41 1 13 1 62 1-63 0-45 1 78 1 53 0-84 1 35 1-112 1 86 0-3 1 24 1-40 1 33 0 11 1-38 1 29 0-96 1 107 1-48 1 26 0 28 1-134 1 162 1-154 0 124 1-66 1-87 0 178 1-33 1-119 1 49 0 32 1-22 1 42 1-46 0-58 1 87 1-19 0-44 1-32 1 117 1-37 0 40 1 5 1-9 1 10 0 45 1 11 1-51 0-36 1-48 1 77 1-16 0-37 1-5 1 37 1-4 0-88 1 97 1 5 1 45 0-89 1 31 1-97 0 100 1-49 1-4 1-29 0 131 1-121 1 72 1 8 0 12 1 7 1 1 1-31 1 23 1 45 0-32 1-100 1 89 1 36 0-86 1 109 1-24 0 18 1-12 1-40 1 5 0 51 1-27 1-12 1 17 0-17 1 25 1-1 0-32 1 43 1-61 1 25 0 29 1-14 1-7 1-14 0-14 1 12 1 25 1-101 0 22 1 34 1-39 0 27 1 24 1-16 1-107 0 63 1-5 1 60 1-47 0-70 1 69 1-33 0-12 1 24 1-44 1 57 0-13 1 50 1-96 1 58 0 11 1-52 1 85 0-17 1 38 1-32 1 21 0-37 1 32 1 23 1-10 0-5 1 20 1-59 0 15 1 26 1 58 1-67 0 76 1-56 1 7 1 28 0 12 1-3 1-114 1 101 0 0 1-46 1 26 0-24 3-93 0 145 1 10 1-19 1-36 1 24 1 9 0-33 1 17 1 25 1 11 1-79 2 61 0-85 1 91 1-38 0 37 1-34 1 30 1 25 0-74 1 68 2 6 0-33 2-9 0 1 1-58 2 60 1 38 1-25 1-16 0 14 1-2 1 16 0-10 1-34 1-13 1-5 0-15 1-8 2 77 0-12 1 22 1-68 1 15 0 37 1-8 1-49 0 66 1-4 1-54 1 14 0-45 1 41 1-21 1 50 0 12 1-42 1-23 1-25 1 38 1 13 0-55 1 52 1-40 1-48 0 69 1-2 1 26 0 18 1 7 1 16 1-34 2 35 3 17 0-18 1-26 1 35 1 4 1-16 1-39 1 38 2-17 1 10 0-3 1-16 1 22 1 2 1-34 1 54 0-5 2-47 2 63 1-12 1-66 1 17 1-30 0-6 1 96 1-59 1-46 0-36 2 76 1 36 1 30 1-51 0 53 2-16 1 2 0-12 1-5 4 9 1 10 1-62 2 34 1-15 2 24 1-26 1 37 1 14 2-48 1 18 1 8 1-109 1 112 0-35 1 41 1-64 1 80 0-65 1 14 1-44 1 87 0-14 1-13 1-94 1 87 1 43 1-34 0-11 1 25 1-2 1 2 1 21 3-1 1-41 0 13 1-4 1-28 1 27 1 17 1 3 1-29 1-26 1 4 0 46 1-32 1-13 1-41 0 23 1 43 1-1 1-7 0-7 1 26 1-59 0 58 1-1 1-53 1 35 0-18 2-50 1 31 0 3 1-28 1 8 0 35 1-82 1 65 1-63 0-1 1 63 1-32 1 38 0-69 1 51 1 36 0-87 1 11 1 83 1-80 0 49 1-62 1 15 1 105 0-3 1 31 1-34 0 10 1-24 1 31 2-51 1 12 1 54 0-1"/>
<path fill="none" stroke="none" marker-start="url(#mGC3)" marker-mid="url(#mGC3)" marker-end="url(#mGC3)" d="M314 88l0 6 1 4 0 10 1 2 0 9 1 2 0 1 1 10 0 3 1 5 0 3 1 0 0 8 1 3 0 14 1-2 0-2 1 12 0 2 1 6 0-9 0 13 1 6 0-5 1 1 0 7 1 1 0 9 1 6 0 6 1 5 0 4 1-2 0 8 1 3 0 0 1 9 0 14 1 0 0 7 1 10 0-11 1 14 0 5 1 3 0-12 1 14 0-7 1 12 0 7 1-5 0 3 1 8 0 13 1-1 0 10 1-4 0 1 0-8 1 5 0 10 1 2 0 10 1-19 0 16 1-7 0 25 1 3 0-2 1 11 0 2 1 16 0-15 1 11 0-4 1 13 0 18 1-20 0-4 1 27 0 0 1-5 0 3 1 18 0-33 1 11 0 21 1 17 0-19 1-13 0 16 1 1 0 27 0-9 1 23 0-36 1 19 0 33 1 0 0-24 1 6 0 8 1-8 0-14 1 23 0 29 1-16 0 17 1-2 0-11 1 10 0 14 1-10 0 13 1-14 0 11 1-5 0 10 1-10 0 13 1 0 0 10 1-7 0 27 1-54 0 45 1-7 0 10 0 3 1-9 0 15 1 2 0 15 1-3 0 6 1-38 0 45 1-2 0-15 1-15 0 45 1-1 0-22 1-2 0 26 1 6 0-12 1-23 0 12 1-11 0 14 1 0 0-7 1 13 0-3 1 20 0-2 1-12 0 13 1 11 0-18 1 5 0 11 1 14 0-23 0-20 1 51 0 14 1-10 0 5 1 7 0 1 1-30 0 1 1-8 0 14 1 22 0-24 1 30 0-2 1 15 0-37 1 7 0 27 1 0 0-2 1 0 0-7 1 16 0-2 1 34 0-17 1 27 0-59 1 8 0 12 1-5 0-15 1 20 0 45 0-23 1 39 0-24 1 9 0-19 1-4 0 25 1-9 0-7 1 10 0 2 1 40 0-31 1-19 0 12 1 34 0-18 1-6 0 26 1-26 0 32 1-4 0 0 1-39 0 52 1 8 0-20 1 25 0-10 1 15 0-12 1 7 0 10 1-34 0 31 0-1 1 11 0 1 1-4 0 7 1-26 0-7 1 29 0 11 1-16 0 13 1-24 0-1 1 12 0-11 1-19 0-14 1 44 0-25 1 19 0 16 1-46 0 18 1 6 0-4 1 11 0 19 1-56 0 18 1 14 0-13 1-6 0 31 1-15 0 19 1-19 0 19 0-55 1 58 0-17 1 2 0 18 1-25 0 23 1 8 0-6 1 18 0-38 1 15 0-5 1 51 0-32 1 24 0-16 1-23 0 23 1 10 0-27 1 3 0-18 1 79 0-46 1 16 0 10 1-20 0 28 1 24 0-28 1-13 0-45 1 58 0 11 0 20 1-33 0 0 1-6 0 38 1-12 0 36 1-51 0 42 1 14 0-69 1 16 0 6 1 1 0 32 1-47 0 47 1-66 0 37 1 45 0-62 1-25 0 50 1-30 0 30 1 10 0 46 1-84 0 40 1-16 0 37 1-3 0-44 1 36 0 2 0 21 1-32 0-12 1 29 0-5 1 24 0-59 1 48 0-10 1-41 0 47 1 33 0-13 1-11 0-48 1 39 0 13 1-23 0-9 1 51 0-50 1 16 0 12 1 52 0-42 1-26 0 41 1-59 0 55 1 28 0-37 1 8 0-11 1 27 0-36 1 47 0-15 0 34 1-9 0-24 1 22 0-5 1-7 0-12 1-13 0-2 1-7 0 18 1 17 0 25 1-31 0 11 1 25 0-85 1 89 0-53 1-2 0 22 1-67 0 67 1 22 0-61 1 66 0 18 1-10 0-9 1-17 0-8 1 47 0-47 1-49 0 75 0-14 1-21 0-12 1 48 0 9 1 2 0-54 1 6 0 80 1-1 0-22 1 6 0-49 1 5 0-46 1 30 0 17 1-27 0 54 1 13 0-37 1-22 0 68 1-65 0 3 1 37 0-16 1 14 0-7 1-18 0 45 1-47 0 7 1 1 0 78 0-2 1-67 0 35 1 3 0 2 1 15 0-30 1 10 0-3 1-32 0 42 1-64 0 89 1-118 0 91 1-55 0-11 1 23 0-22 1 22 0 44 1-59 0-22 1 47 0 33 1-28 0-23 1 3 0-18 1 18 0 6 1 73 0-104 1 54 0-20 1 37 0-3 0-3 1-39 0 5 1 29 0-35 1 71 0-21 1 32 0-45 1 40 0-23 1-17 0 106 1-115 0 54 1 18 0 45 1-47 0 52 1-68 0 5 1-60 0 59 1-42 0-5 1-27 0 66 1-28 0 67 1-10 0-21 1-3 0 39 1-19 0-28 0 38 1-5 0 24 1-63 0-11 1 46 0 9 1-53 0 34 1 32 0 18 1-24 0-82 1 81 0-94 1 78 0 8 1-43 0 49 1-14 0 46 1 10 0-10 1-25 0 31 1 40 0-68 1 21 0 5 1 11 0 36 1-103 0 63 1-32 0-28 1 7 0 28 0 5 1-9 0-19 1 10 0 33 1-28 0 3 1-9 0 16 1-37 0 38 1-21 0 27 1 20 0 12 1-25 0-22 1-24 0 43 1 13 0-2 1-60 0 36 1 17 0-43 1 64 0-50 1 2 0 0 1 31 0-73 1-23 0 97 1-48 0-17 0-29 1 69 0 22 1-26 0-62 1 72 0 1 1-44 0 141 1 8 0-98 1 11 0 79 1-62 0 20 1-5 0 36 1-13 0 13 1-35 0 6 1-71 0 32 1 72 0-75 1-41 0 35 1-34 0 35 1-29 0 55 1-63 0 77 1-95 0 101 0 24 1-92 0 29 1-7 0-7 1 21 0 35 1-36 0-1 1-2 0-52 1 103 0-27 1-15 0 39 1 31 0-21 1-59 0 52 1-31 0 51 1-43 0 43 1 6 0-35 1 2 0-54 1 117 0-81 1-41 0 9 1 66 0 12 1-7 0-31 1 3 0-8 0-11 1 61 0 0 1 1 0 3 1-50 0-17 1-62 0 53 1 20 0-53 1 86 0-39 1-22 0 10 1 18 0 32 1 39 0-41 1 20 0-48 1 35 0-26 1 88 0-102 1 73 0 29 1-8 0-31 1-73 0 14 1 73 0-54 1 3 0 55 0-28 1 38 0-51 1 69 0-80 1 4 0-7 1 0 0-73 1 56 0-22 1-19 0-2 1 13 0 55 1 27 0-9 1-9 0-16 1 7 0-46 1 55 0-76 1 36 0 68 1-52 0 162 1-177 0 45 1 3 0 91 1-176 0 118 1-4 0-54 0 56 1 28 0-66 1 72 0-76 1 26 0-43 1 103 0-105 1 44 0-70 1 117 0-105 1 54 0-1 1 70 0-54 1-4 0 67 1 14 0-18 1-100 0 55 1-36 0 26 1 6 0-6 1 27 0-73 1 48 0-1 1 74 0-73 1 46 0-5 1-68 0 98 0-40 1-38 0-25 1 73 0-40 1-2 0 61 1 44 0-12 1-118 0 22 1 66 0-32 1-10 0 0 1-13 0-88 1 129 0-40 1 46 0-2 1 15 0-26 1 19 0-37 1 10 0 56 1-129 0 148 1-70 0-85 1 135 0-97 1-7 0 49 0 101 1-158 0 61 1 30 0-87 1 97 0-82 1 81 0-46 1 83 0-25 1 32 0-3 1-37 0 23 1-13 0-49 1 71 0 86 1-74 0-17 1-45 0 0 1 5 0 58 1-41 0 104 1-131 0 44 1-2 0 46 1-19 0 37 1-61 0 93 0-114 1 19 0-76 1 99 0 0 1-16 0 6 1 7 0 50 1 2 0-24 1-10 0 49 1 3 0-39 1-48 0 50 1-42 0-14 1 11 0 60 1-1 0 73 1-60 0-58 1 80 0-123 1-3 0 94 1-64 0 121 1-16 0-33 1-18 0 11 1 34 0-145 0 84 1-2 0-23 1 22 0 16 1 11 0 51 1-167 0 120 1 35 0-48 1 40 0-187 1 86 0-52 1 0 0 50 1 4 0 71 1-30 0 30 1-31 0 40 1-102 0 27 1 47 0 83 1-122 0-8 1 54 0 67 1-84 0-26 1 163 0-124 0 133 1-94 0-82 1 93 0-15 1 47 0-13 1-123 0 56 1 89 0 3 1-23 0-119 1 103 0-52 1 76 0 45 1-143 0 73 1 36 0-7 1-2 0-4 1 50 0-149 1 43 0-33 1 70 0-40 1 8 0-56 1 18 0 24 1 55 0 30 1-21 0-8 0-4 1 40 0-158 1 77 0 127 1-50 0 14 1-87 0-45 1 114 0-88 1 51 0-77 1-11 0 60 1-21 0 41 1 22 0 44 1-84 0 22 1 15 0-19 1 4 0 45 1-30 0-96 1 75 0-92 1 142 0 12 1-81 0-34 1 84 0-68 0-11 1-2 0 73 1 4 0 96 1-89 0-10 1-61 0 155 1-23 0 9 1-109 0 194 1-84 0-181 1 79 0 113 1-73 0-51 1 18 0 46 1 35 0-91 1 50 0-46 1 24 0 49 1-112 0 110 1-56 0 59 1-26 0 0 1 23 0-52 0-61 1-29 0 27 1 97 0-90 1 64 0-75 1 182 0-155 1 126 0-98 1 99 0-76 1 74 0 98 1-50 0-39 1-12 0 134 1-56 0-26 1-30 0-26 1 60 0 38 1-111 0 33 1-78 0 77 1-76 0 84 1-75 0 4 1-27 0 77 1-52 0 40 0-42 1-46 0-72 1 114 0-33 1 44 0-50 1 52 0-22 1 54 0-110 1 74 0 195 1-111 0 20 1 112 0-50 1-24 0 14 1-56 0 111 1-160 0-9 1 17 0 33 1-28 0 20 1-106 0 32 1-97 0 137 1-115 0 120 1-26 0 53 0-93 1 40 0-37 1-46 0 102 1-19 0-23 1 66 0 37 1-48 0-3 1-11 0 0 1 94 0-66 1-47 0 102 1-53 0 57 1-52 0-102 1 90 0 62 1-87 0 1 1-61 0 146 1-32 0-54 1 88 0-165 1 195 0-71 1 43 0-46 0-84 1 18 0-14 1 26 0 168 1-137 0 138 1-77 0-2 1 14 0-60 1 83 0-154 1 72 0-34 1 27 0-8 1 58 0-124 1 186 0-94 1 28 0 14 1-34 0 66 1-100 0 6 1 43 0-39 1 111 0 49 1-75 0-21 1-169 0 169 1-79 0 11 0-80 1 122 0-35 1 51 0 40 1 7 0-15 1-139 0 70 1 27 0-12 1 35 0-34 1-1 0-44 1-18 0 157 1-117 0-72 1 150 0-47 1-24 0-56 1 34 0 53 1-43 0-33 1 40 0-93 1 87 0 88 1-21 0-46 1-2 0-58 0 11 1-76 0 35 1-34 0 123 1-25 0-72 1 36 0-32 1 27 0 60 1-111 0 16 1 180 0-48 1-28 0-30 1 58 0 90 1-130 0 70 1-86 0 57 1-46 0 7 1-8 0 82 1-103 0 46 1 87 0-57 1-5 0-50 1-12 0 117 0-112 1 54 0 68 1-116 0 104 1 29 0-122 1-10 0 98 1-110 0 1 1 94 0-161 1 130 0-19 1 166 0-190 1 81 0-64 1 140 0-179 1-15 0-23 1 312 0-221 1 20 0 217 1-143 0-39 1-95 0 144 1-68 0 15 1-30 0 46 1-85 0-7 0 147 1-160 0 120 1-30 0-88 1 67 0-29 1-13 0 13 1 72 0 25 1-107 0-8 1 23 0 31 1-70 0 55 1 84 0-106 1-14 0-16 1 109 0-5 1-66 0 55 1-18 0-58 1 42 0-85 1 106 0-85 1 48 0-90 1 167 0 10 0-87 1 119 0-2 1-45 0-7 1 115 0-106 1 38 0-17 1-12 0 24 1-81 0 38 1 43 0-18 1-63 0 16 1-30 0 93 1-15 0-116 1 139 0-105 1 62 0 89 1 69 0-127 1 89 0 1 1 64 0-194 1 64 0-3 1-33 0 1 0 0 1-35 0 43 1 143 0-220 1 16 0 23 1-104 0 194 1 99 0-280 1 76 0 142 1-70 0-54 1 132 0-101 1-89 0 59 1 101 0-16 1 86 0-69 1 27 0 38 1 16 0-221 1 111 0 62 1-47 0-132 1-15 0 140 1-56 0-46 1 80 0 55 0-11 1-60 0 56 1 40 0-62 1-68 0 25 1 69 0-129 1 184 0-36 1 94 0-130 1 66 0 106 1-47 0-165 1 73 0 43 1-47 0 147 1-34 0 33 1-32 0-29 1-61 0-32 1-1 0-113 1 202 0-34 1-39 0 80 1-40 0-49 0 80 1-92 0-53 1 147 0 71 1-158 0 69 1-84 0 36 1-53 0-59 1 17 0 72 1 49 0 81 1-23 0-92 1-61 0 47 1-7 0 62 1 2 0 4 1-153 0 169 1-172 0 104 1-91 0 22 1-30 0-24 1 133 0 17 1-29 0 28 0-88 1 56 0-2 1-22 0 62 1-99 0 193 1-134 0-17 1 82 0-7 1-106 0 76 1 100 0-41 1-156 0 119 1-145 0-6 1 101 0-49 1 89 0-28 1 20 0-83 1 122 0-75 1-12 0-32 1 169 0-25 1-63 0-46 1-27 0-7 1-120 0 87 0 6 1 72 0-77 1 13 0 10 1 61 0-36 1-47 0 161 1-87 1 10 0 65 1 13 0-210 1 203 0 42 1-57 0-73 1 64 0-23 1-51 0 42 1-39 0 9 1 67 0-72 1 82 0-133 1 124 0-41 1 105 0-86 1 55 0-176 0 106 1-40 0 148 1-32 0-68 1 79 0-161 1 103 0-33 1-7 0 34 1-54 0 99 1-60 0-47 1 71 0 13 1 36 0-19 1-35 0 63 1-23 1 18 0-43 1 22 0-106 1 171 0-25 1-115 0 98 1-98 0 12 1 115 0-178 1-52 0 68 0 98 1-144 0 114 1-61 0-35 1 76 0 60 1-99 0-5 1 54 0-3 1-95 0 55 1 27 0 10 1-47 0 8 1 19 0 81 1-63 0 19 1-42 0-68 1 15 0 20 1 33 0 27 1-44 0 49 1-11 0 29 1-54 0-1 1-124 0 82 0 60 1-71 0 84 1-88 0 23 1-125 0 264 1-53 0 14 1-15 0-16 1 116 0-9 1-60 0-40 2-19 0 13 1-24 0 120 1-59 0-37 1-23 0 26 1-12 0-74 1 86 0 2 1-10 0 3 1-42 0 21 1 14 0-117 0 71 1 42 0-99 1 116 0-31 1 9 0 35 1-7 0-24 1 101 0-59 1-33 0 6 1 5 0-121 1 111 0 55 1 2 0-5 1-27 0 44 1-115 0 160 1-113 0 4 1 98 0-115 1 0 0 71 1-188 0 96 1 61 0 5 1 11 0-68 1 6 0 84 0-31 1-29 0-27 1-10 0 12 1-86 0-24 1 52 0 141 1-126 0-42 1 44 0-17 1 17 0 105 1 71 0-190 1 77 0-54 1 48 0-7 1-95 0 158 1-76 0 64 1-77 0-31 1-19 0 24 1 86 0-110 1-49 0-16 1-15 0 26 0 92 1-36 0-41 1-40 0 114 1-113 0 7 1 98 0-85 1 93 0-38 1 28 0-21 1 100 0-92 1 181 0-95 1 23 0-119 1 76 0 73 1 34 0-51 1 46 0-174 1 138 1-61 1 114 0-150 1 133 0-101 1 55 0-60 0 73 1 48 1-102 1 26 0 33 1-28 0 15 1 47 0-157 1 106 0 27 1 27 1-39 0 12 1 19 0-26 1-6 1 51 1-11 0-102 1 21 0 22 1 74 0-49 1-75 0-29 1 107 1-31 0-11 1 25 0-36 1-46 1 98 0-28 1-41 0 15 1-1 0-29 1 85 0-59 1-52 0 142 1 18 1-147 0 16 1 105 0-31 1-9 0-31 1 105 1-20 0-38 1 11 0 18 1-45 1-188 0 132 1-11 0 90 1-73 0-106 0 11 1 106 0 81 1-88 0 29 1-71 0 134 1-67 0-27 1 47 0-94 1 137 0 7 1-55 0-74 1 71 0 18 1-86 0 39 1 49 0-37 1 27 0-49 1 33 0 62 1-17 0-3 1-49 0-2 1 73 0-43 1-35 0-54 1 50 0-110 0 118 1-46 0 66 1 43 0-67 1-21 0 13 1 16 0 34 1 35 0-28 1-43 0-25 1 33 1-24 0-6 1 60 0-12 1 56 1-35 1 23 1 6 1-16 1 6 0 32 1-14 1-18 1-37 0-74 0 102 1-26 0-103 1-27 0 133 1-101 0-14 1 36 0 89 1-7 0-99 1-89 0 132 1-110 0-20 1 199 0-36 1-126 0 41 1 35 0 46 1-29 0 91 1-185 1 179 1-74 1 103 1 3 2-141 0 115 1-21 0-132 1 176 1-77 1 9 0-52 1 105 1-138 1 153 0-54 1 40 1-108 1 95 2-12 1-16 1 49 3 4 1-77 0 27 1 0 1 16 1 27 0-5 1-76 1 23 0-31 1-2 1 8 1 18 1 44 0-41 1 40 0-132 2 164 1-17 0-30 1-17 1-55 0 18 1-53 0 58 0 77 1-112 0 69 1-72 0 131 2-25 0-24 1 47 0-76 2-1 0 58 1-3 0-83 1 20 1 57 1 15 0-24 1-72 1-28 0 93 1-29 0-39 1 100 0-81 1 36 1 43 0-107 1 59 0-57 1 92 1-155 0-27 1 141 0 41 1-82 1 96 1-39 0 16 1 40 2-110 0 97 1-104 1 79 0 20 1-16 0-70 1-11 1-5 0 35 1-13 0 10 1-66 0 33 1 52 0-65 0-51 1 39 0 27 1-4 0 52 1 8 1 5 0-63 1 97 1-63 0 53 1 8 0-16 1-11 0 49 1-111 1 104 1-14 0-67 1-17 1 85 0-138 1 79 0 46 1-86 0 0 1 104 0-31 1-28 2 59 5 9 0 1 1-29 1 16 3 16 1-86 1 68 3-3 0 25 1-50 0 46 1-50 1 44 2-38 1-15 1-73 1 46 0 55 1-38 1 19 0-9 1-81 0-40 1 109 0 42 1-150 0 136 1-1 0-8 1-21 0-12 1 83 0-25 1-119 0 22 1 77 0 16 0 35 1-74 1 60 1 0 1-3 1-7 0-15 1 28 0 6 1-36 0-54 1-25 0 59 1 33 0-9 1-113 0 71 1 80 4-20 7 17 3-24 0 22 2 5 2-39 1-9 1-13 1 49 0-56 1 9 0-13 1-71 0 126 1-121 1 123 0-3 1-91 0 97 1-54 1 54 0-43 1 22 1-34 1-82 0 138 1-149 0 105 1 17 1 19 1-20 5 29 4-98 1 50 0 44 2 11 4-69 0 70 1-53 2-64 1 119 1-76 2 2 0 51 5 15 2 4 8-16 2 3 0-60 1 59 1-37 0 58 3-33 3 18 1-5 0-5 1 0 1 3 1-34 0-61 1 30 0 79 2-34 3-35 1 54 4-7 7 22 0 3 1-3 1-13 1-4 2-26 8 25 4 2 2 20 3 4 1-44 0 5 2-52 18 75 9-28 1 33 26-4 3-30 4 36 2-31"/>
<path fill="none" stroke="none" marker-start="url(#mGC4)" marker-mid="url(#mGC4)" marker-end="url(#mGC4)" d="M314 91l0 0 1 16 0 12 1 7 0 12 1 6 0 17 1 3 0 6 1 8 0 13 1 0 0 24 1 1 0 10 1 6 0 10 1-1 0 16 1 13 0-14 0 23 1 8 0 0 1 16 0 4 1-1 0 22 1 1 0-3 1 1 0 22 1 8 0-1 1 27 0 2 1 9 0 19 1 15 0-13 1-4 0 9 1 2 0 41 1-16 0-7 1 25 0 10 1-9 0 8 1 0 0 12 1-6 0 11 1 10 0 13 1-4 0 20 0-9 1 5 0 9 1 30 0-12 1 8 0 0 1 34 0-5 1 0 0-11 1 29 0-12 1 15 0-17 1 25 0 30 1-12 0-2 1-9 0 12 1 18 0 18 1-14 0 7 1-17 0 10 1 39 0 18 1-24 0-6 1 24 0-2 1-22 0 12 0 45 1-28 0 9 1 11 0-7 1 5 0-28 1 43 0 22 1 0 0-16 1-17 0 28 1 7 0 11 1 18 0-3 1 30 0-32 1 11 0 10 1 24 0-8 1 9 0-15 1 14 0-10 1-9 0-5 1 49 0-11 1 18 0-45 1 47 0-43 0 42 1-30 0 35 1-4 0-6 1 3 0 7 1-15 0-9 1 11 0 33 1 36 0-39 1 73 0-72 1 8 0 49 1-34 0 35 1-37 0 53 1 7 0 0 1-18 0 33 1-76 0 63 1-51 0 49 1 1 0 10 1 2 0-29 1-17 0 29 1 27 0-25 0 27 1 50 0-69 1 49 0-28 1-17 0 12 1-4 0-47 1 16 0-14 1 36 0 3 1-37 0 68 1-20 0 11 1 2 0-3 1 19 0-14 1 51 0-33 1 47 0-56 1 5 0 35 1 12 0-12 1-14 0 63 1-12 0-53 1 38 0 37 0 34 1-49 0 46 1-53 0 12 1-53 0 100 1-56 0 62 1-2 0-23 1 23 0-82 1 59 0 25 1-96 0 99 1-14 0-5 1 19 0-46 1-17 0 81 1-27 0-3 1 36 0-2 1-32 0 20 1-39 0-15 1 22 0-1 1 43 0-8 0-30 1-3 0 25 1-16 0 31 1 39 0-49 1 31 0 52 1-89 0 18 1-8 0 45 1-67 0 32 1-17 0 57 1-16 0-55 1 41 0-3 1-50 0 10 1 30 0-55 1 119 0-51 1 18 0-65 1 0 0 73 1-17 0-23 1 18 0 12 1-22 0-31 0 67 1 51 0-39 1-1 0 15 1-39 0-1 1-6 0 17 1 8 0 52 1-30 0 20 1-49 0 17 1-5 0-23 1 34 0-55 1 4 0 87 1-90 0 75 1 24 0-11 1 53 0-67 1-32 0 132 1-86 0-1 1 1 0 6 1 15 0 50 0-60 1 33 0-17 1 29 0 34 1-7 0-29 1-20 0 149 1-33 0 16 1-60 0 2 1-50 0 18 1-91 0 93 1-3 0 0 1-33 0-28 1 32 0 24 1 26 0-78 1 47 0 34 1-28 0-21 1-84 0 36 1 151 0-14 1 91 0 7 0-3 1-153 0 60 1 73 0-47 1-12 0 8 1-126 0 198 1-82 0-36 1-9 0 160 1-131 0 90 1-34 0 63 1-138 0-150 1 131 0 76 1 82 0-166 1-29 0 138 1-135 0 168 1-34 0-92 1 99 0-138 1-43 0 96 1-25 0-71 1 79 0-49 0-3 1 169 0-211 1 74 0 75 1-39 0 41 1 14 0 84 1-27 0 6 1-79 0 52 1 15 0 43 1-73 0 179 1-30 0-107 1 86 0-61 1-57 0 47 1 135 0-79 1 52 0-103 1-39 0 72 1-50 0 38 1-140 0 111 1-11 0-26 0-36 1 19 0 42 1-10 0-35 1-10 0 58 1 8 0-26 1-49 0 56 1 37 0-50 1 8 0-74 1 70 0-9 1-128 0 69 1 86 0-138 1 101 0 30 1-91 0 136 1-80 0-33 1-3 0 91 1 9 0-16 1-71 0 193 1-150 0 40 0-62 1 156 0-138 1 125 0-72 1 42 0 117 1-141 0-29 1-28 0 95 1 35 0-110 1 73 0-81 1-17 0 111 1 2 0 37 1 77 0-111 1-43 0-20 1 66 0-116 1 143 0-32 1 29 0-8 1-13 0 23 1-19 0-44 1 9 0 70 1-93 0 82 0-75 1 27 0 120 1-44 0-112 1 103 0 8 1-5 0-26 1-20 0 59 1-111 0 139 1-1 0-10 1-16 0-74 1-51 0 159 1-10 0-47 1 42 0-60 1 108 0-111 1 169 0-151 1-7 0-104 1 200 0-88 1 8 0 95 1-62 0 67 0 22 1 24 0-65 1 50 0 61 1-123 0 114 1-126 0 31 1 63 0 47 1-31 0 29 1-47 0 4 1-154 0 241 1-65 0-60 1-25 0-19 1 124 0-100 1 157 0-112 1-66 0 1 1 109 0-38 1 64 0-81 1 29 0-96 1 56 0-79 1 40 0 14 0-116 1 37 0 143 1-145 0 40 1-26 0 55 1 128 0-71 1 115 0-51 1-33 0-106 1 71 0-8 1-28 0 89 1-111 0 48 1 61 0-23 1-20 0-49 1-46 0 94 1-4 0-109 1-15 0 23 1 94 0 36 1-49 0 27 1 66 0-109 0-58 1 188 0 1 1-11 0 43 1-107 0 122 1-108 0 18 1-16 0 120 1-83 0-5 1-32 0 27 1 48 0-94 1-16 0-3 1 105 0-72 1 70 0-44 1-54 0 111 1-202 0 57 1 104 0-12 1-26 0 4 1 57 0-55 1 76 0-46 0-124 1 100 0 20 1-98 0 69 1-11 0 67 1-82 0 79 1-57 0 17 1-50 0 43 1 58 0 59 1-34 0 25 1-111 0 105 1-39 1-22 0 87 1-87 1 13 0 13 1-32 0-13 1 49 0-83 1 62 0-35 1-69 0 121 1-49 0-76 0 21 1 105 0 1 1-55 0 66 1-35 0 78 1-101 1 30 0-27 1 73 1 35 1-153 1 82 1 16 0-49 1-13 0 46 1 28 0 27 1-19 0-57 1 19 0 0 1 73 1-4 0-7 1-66 0-22 1-43 0 117 1-26 0-15 1 0 0 38 1-88 1 60 1-58 0 104 1-10 0-58 1 55 0-65 1 35 0-120 1 165 0-20 1-71 0 24 1-15 0 39 1-61 0 34 1-47 1 63 0 29 1-29 1-17 0-4 1 16 1 3 1-15 1 27 0 8 2-41 0 51 1-79 0 59 1-138 0 131 1-80 0 75 1 16 0-21 1 70 0-3 1-116 0 98 1-28 1 30 1-50 0-3 1-23 0 37 1 31 0 8 1 15 0-98 1 31 1 24 2-17 1 4 1 30 1 31 1-37 1-39 0 56 2 10 0-127 1 110 1-84 0 43 1 15 0-59 1 70 0-17 1-59 0 28 1-27 0 71 0-103 2 74 0 47 1-21 0 15 1 15 1-14 0-48 1-25 1 18 1 40 1 47 2 0 2-12 0-96 1 105 3-27 1 32 0-32 1-52 0 19 2 59 0-12 1-44 0 47 1-125 1 112 2 26 1-14 1-17 0 8 2 0 3-28 2 40 5-19 2-1 6 12 4 22 3-56 1 51 2-63 1 47 0-2 1-2 0 15 1 2 25-35 5 23 19 20 1-17 4 9"/>
<path fill="none" stroke="none" marker-start="url(#mGC5)" marker-mid="url(#mGC5)" marker-end="url(#mGC5)" d="M314 74l0 17 1 10 0 8 1 12 0 13 0 11 1 13 0 11 1 1 0 27 1-11 0 14 0 16 1-2 0 9 1 14 0 31 1 7 0-8 1 21 0-1 0 15 1 4 0 14 1 7 0 22 1-2 0 16 0-5 1 23 0 1 1 8 0 16 1 15 0 2 1 12 0 1 0 24 1 11 0-8 1 13 0-1 1 7 0 39 0-13 1 9 0 8 1-1 0-3 1 30 0 7 1-1 0 7 0 18 1-3 0 2 1 32 0-13 1 35 0-17 0 39 1 10 0 17 1-4 0 6 1 12 0 13 1 8 0 13 0 7 1 1 0 19 1-5 0 28 1 9 0-27 0 33 1-10 0 26 1 14 0 4 1-3 0-34 1 42 0-12 0 17 1-5 0 31 1-40 0 22 1 19 0-20 0 55 1-11 0-15 1-20 0 51 1-44 0 20 1 51 0-26 0-9 1 52 0-52 1 74 0-64 1 9 0-9 0 23 1 17 0 49 1-79 0 30 1-2 0 37 1 44 0-67 0 37 1-20 0-13 1 51 0-42 1 37 0 0 0-31 1 67 0-18 1-3 0-30 1 36 0-18 1 54 0 15 0-38 1-51 0 32 1 29 0 7 1-58 0 23 0 68 1 22 0-98 1 44 0 12 1-2 0 23 1 12 0 7 0 74 1-48 0 13 1-46 0 8 1 51 0-5 0-5 1-66 0 33 1 64 0-75 1 88 0-73 1 41 0 50 0-22 1-5 0-43 1-4 0 121 1-43 0-55 0 27 1 3 0-1 1 0 0-17 1 72 0 78 1-102 0 51 0 49 1-61 0 42 1-18 0 89 1-94 0 32 0-3 1 44 0 7 1-69 0 15 1 36 0 38 1-70 0 40 0-57 1 65 0-34 1-5 0 41 1-40 0 85 0-107 1 81 0 8 1-4 0 13 1 19 0-34 1 35 0-13 0-20 1 14 0 23 1-72 0-57 1 114 0-68 0 72 1-17 0 38 1-16 0 13 1-21 0 18 1-109 0 150 0-56 1-1 0 119 1 5 0-104 1 92 0-33 0 78 1-40 0-34 1-61 0-45 1 127 0-94 1 72 0 13 0 3 1 4 0 59 1-58 0 49 1-60 0-119 0 195 1-137 0 133 1-33 0-65 1 29 0-36 1-7 0 85 0 14 1-51 0 12 1-58 0 189 1-137 0 37 0 42 1 30 0 5 1 6 0-110 1 81 0 15 1-14 0-23 0-11 1 32 0 5 1 22 0-37 1 1 0 18 0-17 1-93 0 25 1 30 0-51 1 65 0-54 1 74 0-77 0 59 1 57 0 46 1-57 0 5 1 64 0-34 0 22 1-38 0 78 1-52 0-102 1 60 0 60 1-78 0 106 0-53 1 32 0 36 1-41 0-108 1 166 0-3 0-141 1 119 0-34 1 10 0 6 1-79 0 76 1-6 0-52 0-50 1-31 0 58 1-53 0 2 1 28 0-16 0 67 1 88 0-126 1 119 0-86 1 89 0 28 1-48 0 68 0-61 1 24 0 10 1-90 0 49 1 67 0-50 0 33 1 44 0 54 1-21 0-131 1 109 0-18 1-57 0 127 0-82 1 143 0-38 1 41 0-84 1 1 0 36 0-2 1-184 0 138 1-5 0 66 1-4 0-45 1 24 0-6 0 6 1 67 0-96 1 8 0-13 1-4 0-58 0 116 1-25 0-54 1 86 0-72 1 77 0-3 1 26 0-48 0-122 1 7 0 90 1-28 0-41 1 112 0-32 0-10 1 80 0-48 1-4 0-8 1 0 0 102 1-121 0 51 0-39 1-1 0 41 1-99 0 177 1-76 0-5 0-70 1 80 0-29 1 19 0-98 1 127 0 30 1-16 0-39 0-51 2 5 0 92 1 12 0-15 0 17 1 5 0-57 1 39 0-131 1 68 1 64 0-121 0 141 1-67 0-60 1 63 0 58 1-21 0-19 0-72 1 68 0-32 1 79 0-65 1-77 0 76 1 0 0-16 0-96 1 27 0-1 1 58 0 54 1-154 0 79 0-69 1 24 0 68 1 36 0-104 1 173 1-176 0 144 0-43 1-37 0-46 1 143 1-49 0 54 1-43 1-1 0 52 1-3 1-56 0 45 1-45 0 34 2-19 1-11 2 9 1 2 0 13 1-17 0 32 11-26 1-12 1 58 1-32 3 13 3 21 0-44 2 42 6-4 3-44"/>
<path fill="none" stroke="none" marker-start="url(#mGC6)" marker-mid="url(#mGC6)" marker-end="url(#mGC6)" d="M316 283l0 42 1 39 0 34 0 5 1 35 0 19 1 34 0 30 0 19 1 6 0 36 0 8 1 13 0 43 0-11 1 26 0 15 1 17 0 6 0 27 1 0 0 21 0 9 1 24 0-6 0 18 1 27 0 5 1 16 0 4 0 8 1 41 0-14 0 4 1 17 0 17 0-1 1 30 0 4 1 10 0 14 0-10 1 8 0 6 0 1 1 24 0 2 0 25 1 6 0 15 1-24 0 18 0 29 1 1 0 20 0 23 1-34 0 19 0-8 1 34 0 9 1 17 0 10 0 4 1 13 0 0 0-4 1 20 0-32 1 42 0-18 0-4 1 45 0-23 0 21 1 36 0-3 0 50 1-27 0-10 1 27 0-3 0 12 1 10 0 1 0 12 1 5 0-14 0-26 1 59 0-9 1 11 0 8 0-15 1 8 0-21 0 9 1 41 0 25 0-32 1-5 0 11 1 19 0 11 0 8 1 12 0-1 0 0 1 27 0 29 0-30 1 30 0-14 1 21 0 36 0-29 1 1 0-13 0 10 1 13 0 7 0-14 1 60 0-56 1 10 0 41 0 32 1-46 0 49 0-6 1 10 0-3 0 19 1-21 0 8 1 14 0-28 0 6 1 24 0-4 0-26 1 60 0-46 0 6 1 48 0-19 1-50 0 30 0 57 1-12 0 13 0 18 1 11 0-11 0 17 1-57 0-2 1 59 0 19 0 46 1-21 0 3 0-26 1-52 0 79 0-65 1 47 0-1 1 17 0 96 0-59 1-14 0-23 0 62 1-12 0 38 1-24 0 28 0-49 1 72 0 13 0-25 1-40 0 50 0 9 1-22 0 28 1-24 0 4 0 31 1 67 0-73 0-11 1-17 0 71 0 6 1-43 0 10 1-6 0 25 0-19 1 0 0-39 1 61 0 54 0 2 1-53 1 30 0 22 1-63 0 64 1-27 2 21 1 11"/>
<path fill="none" stroke="#000" stroke-width="5.3" stroke-linejoin="round" d="M313.8 97.7L314.4 100.2 315.1 102.6 315.7 105.1 316.3 107.5 317.0 110.0 317.6 112.4 318.2 114.9 318.9 117.4 319.6 119.9 320.2 122.4 320.9 124.8 321.5 127.2 322.2 129.7 322.8 132.1 323.5 134.6 324.2 137.1 324.9 139.5 325.6 142.0 326.3 144.6 327.1 147.3 327.8 150.0 328.6 152.7 329.3 155.3 330.1 158.0 330.9 160.6 331.6 163.2 332.4 165.8 333.2 168.4 333.9 170.9 334.7 173.5 335.4 176.0 336.2 178.5 337.0 181.0 337.7 183.5 338.5 185.9 339.2 188.4 340.0 190.8 340.8 193.2 341.5 195.6 342.4 198.3 343.3 201.0 344.1 203.7 345.0 206.4 345.9 209.0 346.7 211.6 347.6 214.2 348.5 216.8 349.4 219.4 350.2 221.9 351.1 224.4 352.0 226.9 352.8 229.4 353.7 231.9 354.6 234.3 355.4 236.8 356.3 239.2 357.2 241.6 358.1 243.9 358.9 246.3 359.9 248.9 360.9 251.5 361.9 254.1 362.8 256.7 363.8 259.2 364.8 261.7 365.8 264.2 366.8 266.7 367.7 269.2 368.7 271.6 369.7 274.0 370.7 276.4 371.6 278.8 372.6 281.1 373.6 283.5 374.6 285.8 375.7 288.3 376.8 290.9 377.8 293.4 378.9 295.9 380.0 298.3 381.1 300.7 382.2 303.2 383.3 305.6 384.4 307.9 385.5 310.3 386.5 312.6 387.6 314.9 388.7 317.2 389.8 319.4 391.0 321.9 392.2 324.4 393.4 326.8 394.6 329.2 395.8 331.6 397.0 333.9 398.2 336.2 399.4 338.5 400.6 340.8 401.8 343.1 403.0 345.3 404.2 347.6 405.4 349.8 406.7 352.1 408.0 354.5 409.3 356.8 410.6 359.1 411.9 361.4 413.2 363.7 414.5 365.9 415.8 368.2 417.1 370.4 418.4 372.6 419.7 374.7 421.0 376.9 422.4 379.2 423.8 381.5 425.3 383.7 426.7 385.9 428.1 388.2 429.5 390.4 430.9 392.5 432.3 394.7 433.7 396.8 435.2 398.9 436.6 401.0 438.0 403.1 439.4 405.2 440.9 407.4 442.4 409.6 444.0 411.7 445.5 413.9 447.0 416.0 448.5 418.1 450.1 420.2 451.6 422.3 453.1 424.3 454.6 426.4 456.1 428.4 457.7 430.4 459.2 432.4 460.8 434.5 462.5 436.6 464.1 438.7 465.7 440.8 467.3 442.8 469.0 444.9 470.6 446.9 472.2 448.9 473.9 450.9 475.5 452.9 477.1 454.9 478.8 456.8 480.4 458.8 482.0 460.7 483.7 462.6 485.3 464.6 486.9 466.4 488.7 468.5 490.4 470.5 492.1 472.5 493.9 474.4 495.6 476.4 497.4 478.3 499.1 480.3 500.8 482.2 502.6 484.2 504.3 486.1 506.1 488.0 507.8 489.9 509.5 491.7 511.3 493.6 513.0 495.5 514.8 497.4 516.5 499.2 518.2 501.0 520.0 502.9 521.7 504.7 523.5 506.5 525.2 508.3 526.9 510.2 528.7 512.0 530.5 513.9 532.4 515.8 534.2 517.7 536.1 519.5 537.9 521.4 539.8 523.3 541.6 525.2 543.5 527.0 545.3 528.9 547.2 530.7 549.0 532.6 550.9 534.4 552.7 536.2 554.6 538.1 556.4 539.9 558.3 541.7 560.1 543.5 562.0 545.3 563.8 547.1 565.7 548.9 567.5 550.7 569.3 552.5 571.2 554.3 573.0 556.1 574.9 557.9 576.7 559.6 578.6 561.4 580.4 563.2 582.3 564.9 584.1 566.7 586.0 568.5 587.8 570.2 589.7 572.0 591.5 573.7 593.4 575.5 595.2 577.2 597.1 578.9 598.9 580.7 600.8 582.4 602.6 584.1 604.5 585.9 606.3 587.6 608.2 589.3 610.0 591.0 611.9 592.8 613.7 594.5 615.6 596.2 617.4 597.9 619.3 599.6 621.1 601.3 623.0 603.0 624.8 604.7 626.7 606.4 628.5 608.1 630.4 609.8 632.2 611.5 634.1 613.2 635.9 614.9 637.8 616.6 639.6 618.3 641.4 620.0 643.3 621.7 645.1 623.4 647.1 625.2 649.1 626.9 651.0 628.7 653.0 630.5 654.9 632.3 656.9 634.0 658.8 635.8 660.8 637.6 662.8 639.3 664.7 641.1 666.7 642.9 668.6 644.6 670.6 646.4 672.6 648.2 674.5 649.9 676.5 651.7 678.4 653.4 680.4 655.2 682.3 656.9 684.3 658.7 686.3 660.4 688.2 662.2 690.2 663.9 692.1 665.7 694.1 667.4 696.0 669.2 698.0 670.9 700.0 672.7 701.9 674.4 703.9 676.1 705.8 677.9 707.8 679.6 709.7 681.3 711.7 683.1 713.7 684.8 715.6 686.5 717.6 688.3 719.5 690.0 721.5 691.7 723.4 693.5 725.4 695.2 727.4 696.9 729.3 698.6 731.3 700.3 733.2 702.1 735.2 703.8 737.1 705.5 739.1 707.2 741.1 708.9 743.0 710.6 745.0 712.4 746.9 714.1 748.9 715.8 750.8 717.5 752.8 719.2 754.8 720.9 756.7 722.6 758.7 724.3 760.6 726.0 762.6 727.7 764.5 729.4 766.5 731.1 768.5 732.8 770.4 734.5 772.4 736.2 774.3 737.9 776.3 739.6 778.3 741.3 780.2 743.0 782.2 744.7 784.1 746.4 786.1 748.1 788.0 749.8 790.0 751.4 792.0 753.1 793.9 754.8 795.9 756.5 797.8 758.2 799.8 759.9 801.7 761.5 803.7 763.2 805.7 764.9 807.6 766.6 809.6 768.3 811.5 769.9 813.5 771.6 815.4 773.3 817.4 774.9 819.4 776.6 821.3 778.3 823.3 780.0 825.2 781.6 827.2 783.3 829.1 785.0 831.1 786.6 833.1 788.3 835.0 789.9 837.0 791.6 838.9 793.3 840.9 794.9 842.8 796.6 844.8 798.2 846.8 799.9 848.7 801.5 850.7 803.2 852.6 804.8 854.6 806.5 856.5 808.1 858.5 809.8 860.5 811.4 862.4 813.1 864.4 814.7 866.3 816.4 868.3 818.0 870.3 819.6 872.2 821.3 874.2 822.9 876.1 824.6 878.1 826.2 880.0 827.8 882.0 829.5 884.0 831.1 885.9 832.7 887.9 834.4 889.8 836.0 891.8 837.6 893.7 839.2 895.7 840.9 897.7 842.5 899.6 844.1 901.6 845.7 903.5 847.4 905.5 849.0 907.4 850.6 909.4 852.2 911.4 853.8 913.3 855.4 915.3 857.1 917.2 858.7 919.2 860.3 921.1 861.9 923.1 863.5 925.1 865.1 927.0 866.7 929.0 868.3 930.9 869.9 932.9 871.5 934.8 873.1 936.8 874.7 938.8 876.3 940.7 877.9 942.7 879.5 944.6 881.1 946.6 882.7 948.5 884.3 950.5 885.9 952.5 887.5 954.4 889.1 956.4 890.6 958.3 892.2 960.3 893.8 962.3 895.4 964.2 897.0 966.2 898.6 968.1 900.1 970.1 901.7 972.0 903.3 974.0 904.9 976.0 906.4 977.9 908.0 979.9 909.6 981.8 911.2 983.8 912.7 985.7 914.3 987.7 915.9 989.7 917.4 991.6 919.0 993.6 920.5 995.5 922.1 997.5 923.7 999.4 925.2 1001.4 926.8 1003.4 928.3 1005.4 930.0 1007.5 931.6 1009.6 933.3 1011.6 934.9 1013.7 936.5 1015.8 938.2 1017.8 939.8 1019.9 941.4 1022.0 943.0 1024.0 944.7 1026.1 946.3 1028.2 947.9 1030.2 949.5 1032.3 951.2 1034.4 952.8 1036.4 954.4 1038.5 956.0 1040.5 957.6 1042.6 959.2 1044.7 960.9 1046.7 962.5 1048.8 964.1 1050.9 965.7 1052.9 967.3 1055.0 968.9 1057.1 970.5 1059.1 972.1 1061.2 973.7 1063.3 975.3 1065.3 976.9 1067.4 978.5 1069.5 980.1 1071.5 981.7 1073.6 983.3 1075.7 984.8 1077.7 986.4 1079.8 988.0 1081.9 989.6 1083.9 991.2 1086.0 992.8 1088.1 994.3 1090.1 995.9 1092.2 997.5 1094.3 999.1 1096.3 1000.6 1098.4 1002.2 1100.5 1003.8 1102.5 1005.3 1104.6 1006.9 1106.7 1008.5 1108.7 1010.0 1110.8 1011.6 1112.9 1013.2 1114.9 1014.7 1117.0 1016.3 1119.1 1017.8 1121.1 1019.4 1123.2 1020.9 1125.3 1022.5 1127.3 1024.0 1129.4 1025.6 1131.5 1027.1 1133.5 1028.7 1135.6 1030.2 1137.7 1031.7 1139.7 1033.3 1141.8 1034.8 1143.9 1036.3 1145.9 1037.9 1148.0 1039.4 1150.1 1040.9 1152.1 1042.5 1154.2 1044.0 1156.3 1045.5 1158.3 1047.0 1160.4 1048.6 1162.5 1050.1 1164.5 1051.6 1166.6 1053.1 1168.7 1054.6 1170.7 1056.1 1172.8 1057.6 1174.9 1059.2 1176.9 1060.7 1179.0 1062.2 1181.0 1063.7 1183.1 1065.2 1185.2 1066.7 1187.2 1068.2 1189.3 1069.7 1191.4 1071.2 1193.4 1072.7 1195.5 1074.1 1197.6 1075.6 1199.6 1077.1 1201.7 1078.6 1203.8 1080.1 1205.8 1081.6 1207.9 1083.1 1210.0 1084.5 1212.0 1086.0 1214.1 1087.5 1216.2 1089.0 1218.2 1090.4 1220.3 1091.9 1222.4 1093.4 1224.4 1094.8 1226.5 1096.3 1228.6 1097.8 1230.6 1099.2 1232.7 1100.7 1234.8 1102.2 1236.8 1103.6 1238.9 1105.1 1241.0 1106.5 1243.0 1108.0 1245.1 1109.4 1247.2 1110.9 1249.2 1112.3 1251.3 1113.8 1253.4 1115.2 1255.4 1116.6 1257.5 1118.1 1259.6 1119.5 1261.6 1120.9 1263.7 1122.4 1265.8 1123.8 1267.8 1125.2 1269.9 1126.7 1272.0 1128.1 1274.0 1129.5 1276.1 1130.9 1278.2 1132.4 1280.2 1133.8 1282.3 1135.2 1284.4 1136.6 1286.4 1138.0 1288.5 1139.4 1290.6 1140.8 1292.7 1142.3 1294.9 1143.8 1297.1 1145.3 1299.3 1146.8 1301.4 1148.2 1303.6 1149.7 1305.8 1151.2 1308.0 1152.6 1310.1 1154.1 1312.3 1155.6 1314.5 1157.0 1316.7 1158.5 1318.8 1159.9 1321.0 1161.4 1323.2 1162.8 1325.4 1164.3 1327.5 1165.7 1329.7 1167.2 1331.9 1168.6 1334.1 1170.1 1336.2 1171.5 1338.4 1173.0 1340.6 1174.4 1342.8 1175.8 1344.9 1177.3 1347.1 1178.7 1349.3 1180.1 1351.5 1181.5 1353.6 1183.0 1355.8 1184.4 1358.0 1185.8 1360.2 1187.2 1362.3 1188.6 1364.5 1190.1 1366.7 1191.5 1368.9 1192.9 1371.0 1194.3 1373.2 1195.7 1375.4 1197.1 1377.6 1198.5 1379.7 1199.9 1381.9 1201.3 1384.1 1202.7 1386.3 1204.1 1388.4 1205.5 1390.6 1206.9 1392.8 1208.2 1395.0 1209.6 1397.1 1211.0 1399.3 1212.4 1401.5 1213.8 1403.7 1215.1 1405.8 1216.5 1408.0 1217.9 1410.2 1219.3 1412.4 1220.6 1414.5 1222.0 1416.7 1223.4 1418.9 1224.7 1421.1 1226.1 1423.2 1227.4 1425.4 1228.8 1427.6 1230.1 1429.8 1231.5 1431.9 1232.8 1434.1 1234.2 1436.3 1235.5 1438.5 1236.9 1440.6 1238.2 1442.8 1239.5 1445.0 1240.9 1447.2 1242.2 1449.3 1243.5 1451.5 1244.9 1453.7 1246.2 1455.9 1247.5 1458.0 1248.8 1460.2 1250.2 1462.4 1251.5 1464.6 1252.8 1466.7 1254.1 1468.9 1255.4 1471.1 1256.7 1473.3 1258.1 1475.4 1259.4 1477.6 1260.7 1479.8 1262.0 1482.0 1263.3 1484.1 1264.6 1486.3 1265.9 1488.5 1267.1 1490.7 1268.4 1492.8 1269.7 1495.0 1271.0 1497.2 1272.3 1499.4 1273.6 1501.5 1274.9 1503.7 1276.1 1505.9 1277.4 1508.1 1278.7 1510.2 1280.0 1512.4 1281.2 1514.6 1282.5 1516.8 1283.8 1518.9 1285.0 1521.1 1286.3 1523.3 1287.6 1525.5 1288.8 1527.6 1290.1 1529.8 1291.3 1532.0 1292.6 1534.2 1293.8 1536.3 1295.1 1538.5 1296.3 1540.7 1297.6 1542.9 1298.8 1545.0 1300.0 1547.2 1301.3 1549.4 1302.5 1551.7 1303.8 1553.9 1305.1 1556.2 1306.4 1558.5 1307.7 1560.8 1308.9 1563.1 1310.2 1565.4 1311.5 1567.6 1312.8 1569.9 1314.1 1572.2 1315.3 1574.5 1316.6 1576.8 1317.9 1579.1 1319.1 1581.3 1320.4 1583.6 1321.7 1585.9 1322.9 1588.2 1324.2 1590.5 1325.4 1592.8 1326.7 1595.0 1327.9 1597.3 1329.2 1599.6 1330.4 1601.9 1331.7 1604.2 1332.9 1606.5 1334.1 1608.8 1335.4 1611.0 1336.6 1613.3 1337.8 1615.6 1339.1 1617.9 1340.3 1620.2 1341.5 1622.5 1342.7 1624.7 1344.0 1627.0 1345.2 1629.3 1346.4 1631.6 1347.6 1633.9 1348.8 1636.2 1350.0 1638.4 1351.2 1640.7 1352.4 1643.0 1353.6 1645.3 1354.8 1647.6 1356.0 1649.9 1357.2 1652.1 1358.4 1654.4 1359.6 1656.7 1360.8 1659.0 1362.0 1661.3 1363.2 1663.6 1364.3 1665.8 1365.5 1668.1 1366.7 1670.4 1367.9 1672.7 1369.0 1675.0 1370.2 1677.3 1371.4 1679.5 1372.5 1681.8 1373.7 1684.1 1374.9 1686.4 1376.0 1688.7 1377.2 1691.0 1378.3 1693.2 1379.5 1695.5 1380.6 1697.8 1381.8 1700.1 1382.9 1702.4 1384.1 1704.7 1385.2 1706.9 1386.3 1709.2 1387.5 1711.5 1388.6 1713.8 1389.7 1716.1 1390.9 1718.4 1392.0 1720.7 1393.1 1722.9 1394.2 1725.2 1395.4 1727.5 1396.5 1729.8 1397.6 1732.1 1398.7 1734.4 1399.8 1736.6 1400.9 1738.9 1402.0 1741.2 1403.1 1743.5 1404.2 1745.8 1405.3 1748.1 1406.4 1750.3 1407.5 1752.6 1408.6 1754.9 1409.7 1757.2 1410.8 1759.5 1411.9 1761.8 1413.0 1764.0 1414.1 1766.3 1415.2 1768.6 1416.2 1770.9 1417.3 1773.2 1418.4 1775.5 1419.5 1777.7 1420.5 1780.0 1421.6 1782.3 1422.7 1784.6 1423.7 1786.9 1424.8 1789.2 1425.8 1791.4 1426.9 1793.7 1428.0 1796.0 1429.0 1798.3 1430.1 1800.6 1431.1 1802.9 1432.2 1805.1 1433.2 1807.4 1434.2 1809.7 1435.3 1812.0 1436.3 1814.3 1437.4 1816.6 1438.4 1818.8 1439.4 1821.1 1440.5 1823.4 1441.5 1825.7 1442.5 1828.0 1443.5 1830.3 1444.6 1832.6 1445.6 1834.8 1446.6 1837.2 1447.7 1839.6 1448.7 1842.0 1449.8 1844.4 1450.8 1846.8 1451.9 1849.2 1452.9 1851.6 1454.0 1854.0 1455.0 1856.4 1456.1 1858.8 1457.1 1861.2 1458.2 1863.5 1459.2 1865.9 1460.2 1868.3 1461.3 1870.7 1462.3 1873.1 1463.3 1875.5 1464.4 1877.9 1465.4 1880.3 1466.4 1882.7 1467.4 1885.1 1468.5 1887.5 1469.5 1889.9 1470.5 1892.3 1471.5 1894.6 1472.5 1897.0 1473.5 1899.4 1474.5 1901.8 1475.5 1904.2 1476.5 1906.6 1477.5 1909.0 1478.5 1911.4 1479.5 1913.8 1480.5 1916.2 1481.5 1918.6 1482.5 1921.0 1483.5 1923.4 1484.5 1925.7 1485.5 1928.1 1486.4 1930.5 1487.4 1932.9 1488.4 1935.3 1489.4 1937.7 1490.4 1940.1 1491.3 1942.5 1492.3 1944.9 1493.3 1947.3 1494.2 1949.7 1495.2 1952.1 1496.1 1954.5 1497.1 1956.8 1498.1 1959.2 1499.0 1961.6 1500.0 1964.0 1500.9 1966.4 1501.9 1968.8 1502.8 1971.2 1503.8 1973.6 1504.7 1976.0 1505.6 1978.4 1506.6 1980.8 1507.5 1983.2 1508.4 1985.6 1509.4 1988.0 1510.3 1990.3 1511.2 1992.7 1512.2 1995.1 1513.1 1997.5 1514.0 1999.9 1514.9 2002.3 1515.8 2004.7 1516.8 2007.1 1517.7 2009.5 1518.6 2011.9 1519.5 2014.3 1520.4 2016.7 1521.3 2019.1 1522.2 2021.4 1523.1 2023.8 1524.0 2026.2 1524.9 2028.6 1525.8 2031.0 1526.7 2033.4 1527.6 2035.8 1528.5 2038.2 1529.4 2040.6 1530.3 2043.0 1531.2 2045.4 1532.0 2047.8 1532.9 2050.2 1533.8 2052.5 1534.7 2054.9 1535.6 2057.3 1536.4 2059.7 1537.3 2062.1 1538.2 2064.5 1539.1 2066.9 1539.9 2069.3 1540.8 2071.7 1541.6 2074.1 1542.5 2076.5 1543.4 2078.9 1544.2 2081.3 1545.1 2083.6 1545.9 2086.0 1546.8 2088.4 1547.6 2090.8 1548.5 2093.2 1549.3 2095.6 1550.2 2098.0 1551.0 2100.4 1551.9 2102.8 1552.7 2105.2 1553.6 2107.6 1554.4 2110.0 1555.2 2112.4 1556.1 2114.7 1556.9 2117.1 1557.7 2119.5 1558.5 2121.9 1559.4 2124.3 1560.2 2126.7 1561.0 2129.1 1561.8 2131.5 1562.7 2133.9 1563.5 2136.3 1564.3 2138.7 1565.1 2141.1 1565.9 2143.5 1566.7 2145.9 1567.6 2148.2 1568.4 2150.6 1569.2 2153.0 1570.0 2155.4 1570.8 2157.8 1571.6 2160.2 1572.4 2162.6 1573.2 2165.0 1574.0 2167.4 1574.8 2169.8 1575.6 2172.2 1576.4 2174.6 1577.1 2177.0 1577.9 2179.3 1578.7 2181.7 1579.5 2184.1 1580.3 2186.5 1581.1 2188.9 1581.9 2191.3 1582.6 2193.7 1583.4 2196.1 1584.2 2198.5 1585.0 2200.9 1585.7 2203.3 1586.5 2205.7 1587.3 2208.1 1588.0 2210.4 1588.8 2212.8 1589.6 2215.2 1590.3 2217.6 1591.1 2220.0 1591.9 2222.4 1592.6 2224.8 1593.4 2227.2 1594.1 2229.6 1594.9 2232.0 1595.6 2234.4 1596.4 2236.8 1597.1 2239.2 1597.9 2241.5 1598.6 2243.9 1599.4 2246.3 1600.1 2248.7 1600.9 2251.1 1601.6 2253.5 1602.4 2255.9 1603.1 2258.3 1603.8 2260.7 1604.6 2263.1 1605.3"/>
<path fill="none" stroke="#000" stroke-width="5.3" stroke-linejoin="round" d="M313.8 91.2L314.3 93.7 314.8 96.3 315.3 98.9 315.7 101.4 316.2 104.0 316.7 106.5 317.2 109.1 317.7 111.6 318.2 114.1 318.7 116.7 319.1 119.2 319.6 121.7 320.1 124.2 320.6 126.7 321.1 129.2 321.6 131.6 322.1 134.1 322.5 136.6 323.0 139.0 323.5 141.6 324.1 144.2 324.6 146.7 325.1 149.3 325.6 151.8 326.1 154.3 326.6 157.0 327.2 159.7 327.7 162.4 328.3 165.0 328.8 167.7 329.3 170.3 329.9 173.0 330.4 175.6 331.0 178.2 331.5 180.9 332.1 183.5 332.6 186.1 333.2 188.7 333.7 191.3 334.2 193.8 334.8 196.4 335.3 198.9 335.9 201.5 336.4 204.0 337.0 206.6 337.5 209.1 338.0 211.6 338.6 214.1 339.1 216.6 339.7 219.1 340.2 221.6 340.8 224.0 341.3 226.5 341.9 229.0 342.4 231.4 343.0 234.3 343.7 237.2 344.4 240.1 345.0 243.0 345.7 245.9 346.3 248.8 347.0 251.6 347.6 254.5 348.3 257.3 348.9 260.1 349.6 262.9 350.2 265.7 350.9 268.5 351.5 271.2 352.2 274.0 352.8 276.7 353.5 279.4 354.1 282.1 354.8 284.8 355.4 287.5 356.1 290.2 356.7 292.9 357.4 295.5 358.1 298.2 358.7 300.8 359.4 303.4 360.0 306.0 360.7 308.6 361.3 311.2 362.0 313.8 362.6 316.3 363.3 318.9 363.9 321.4 364.6 324.0 365.2 326.5 365.9 329.0 366.5 331.5 367.2 333.9 367.8 336.4 368.5 338.9 369.1 341.3 369.8 343.7 370.5 346.1 371.2 349.0 372.0 351.7 372.7 354.5 373.5 357.3 374.3 360.0 375.0 362.8 375.8 365.5 376.5 368.2 377.3 370.9 378.1 373.5 378.8 376.2 379.6 378.8 380.3 381.5 381.1 384.1 381.9 386.7 382.6 389.3 383.4 391.8 384.2 394.4 384.9 396.9 385.7 399.5 386.4 402.0 387.2 404.5 388.0 407.0 388.7 409.4 389.5 411.9 390.2 414.3 391.0 416.7 391.8 419.2 392.5 421.6 393.3 424.0 394.2 426.7 395.0 429.4 395.9 432.0 396.8 434.7 397.6 437.3 398.5 440.0 399.4 442.6 400.2 445.2 401.1 447.7 402.0 450.3 402.9 452.8 403.7 455.4 404.6 457.9 405.5 460.4 406.3 462.9 407.2 465.3 408.1 467.8 408.9 470.2 409.8 472.6 410.7 475.0 411.6 477.4 412.4 479.8 413.3 482.1 414.3 484.8 415.3 487.4 416.2 490.0 417.2 492.6 418.2 495.1 419.2 497.7 420.1 500.2 421.1 502.7 422.1 505.2 423.1 507.7 424.1 510.1 425.0 512.5 426.0 515.0 427.0 517.4 428.0 519.8 429.0 522.1 429.9 524.5 430.9 526.8 431.9 529.2 432.9 531.5 434.0 534.0 435.0 536.6 436.1 539.1 437.2 541.6 438.3 544.1 439.4 546.5 440.5 549.0 441.6 551.4 442.7 553.8 443.7 556.2 444.8 558.6 445.9 560.9 447.0 563.3 448.1 565.6 449.2 567.9 450.3 570.2 451.4 572.5 452.4 574.7 453.5 577.0 454.7 579.5 455.9 581.9 457.1 584.3 458.3 586.7 459.5 589.1 460.7 591.5 461.9 593.9 463.1 596.2 464.3 598.5 465.5 600.8 466.7 603.1 467.9 605.4 469.1 607.7 470.3 609.9 471.5 612.2 472.7 614.4 473.9 616.6 475.1 618.8 476.4 621.2 477.7 623.6 479.0 625.9 480.3 628.2 481.6 630.6 482.9 632.9 484.2 635.2 485.5 637.4 486.8 639.7 488.1 642.0 489.4 644.2 490.7 646.4 492.0 648.6 493.3 650.8 494.6 653.0 495.9 655.2 497.3 657.4 498.6 659.5 499.9 661.7 501.3 664.0 502.7 666.3 504.1 668.5 505.5 670.8 506.9 673.1 508.3 675.3 509.8 677.6 511.2 679.8 512.6 682.0 514.0 684.2 515.4 686.4 516.8 688.6 518.2 690.7 519.7 692.9 521.1 695.0 522.5 697.2 523.9 699.3 525.3 701.4 526.7 703.5 528.1 705.7 529.5 707.7 531.0 709.8 532.4 711.9 533.8 714.0 535.2 716.0 536.7 718.3 538.2 720.5 539.8 722.7 541.3 724.9 542.8 727.0 544.3 729.2 545.9 731.4 547.4 733.5 548.9 735.7 550.4 737.8 551.9 739.9 553.5 742.1 555.0 744.2 556.5 746.3 558.0 748.4 559.6 750.5 561.1 752.6 562.6 754.7 564.1 756.8 565.7 758.9 567.2 760.9 568.7 763.0 570.2 765.1 571.7 767.1 573.3 769.2 574.8 771.2 576.3 773.2 577.8 775.3 579.4 777.3 580.9 779.3 582.4 781.3 583.9 783.4 585.4 785.4 587.0 787.4 588.5 789.4 590.0 791.4 591.5 793.4 593.1 795.4 594.6 797.4 596.1 799.3 597.7 801.5 599.4 803.6 601.0 805.7 602.6 807.8 604.3 809.9 605.9 812.0 607.5 814.1 609.2 816.2 610.8 818.3 612.4 820.4 614.0 822.5 615.7 824.6 617.3 826.6 618.9 828.7 620.6 830.8 622.2 832.8 623.8 834.9 625.5 837.0 627.1 839.0 628.7 841.1 630.4 843.1 632.0 845.2 633.6 847.2 635.2 849.3 636.9 851.3 638.5 853.4 640.1 855.4 641.8 857.5 643.4 859.5 645.0 861.5 646.7 863.6 648.3 865.6 649.9 867.6 651.6 869.6 653.2 871.7 654.8 873.7 656.5 875.7 658.1 877.7 659.7 879.7 661.3 881.7 663.0 883.7 664.6 885.8 666.2 887.8 667.9 889.8 669.5 891.8 671.1 893.8 672.8 895.8 674.4 897.8 676.0 899.8 677.7 901.8 679.3 903.7 680.9 905.7 682.6 907.7 684.2 909.7 685.8 911.7 687.4 913.7 689.1 915.7 690.7 917.7 692.3 919.6 694.0 921.6 695.6 923.6 697.2 925.6 698.9 927.5 700.5 929.5 702.1 931.5 703.8 933.5 705.4 935.4 707.0 937.4 708.7 939.4 710.3 941.3 711.9 943.3 713.5 945.3 715.2 947.2 716.8 949.2 718.4 951.1 720.1 953.1 721.7 955.1 723.3 957.0 725.0 959.0 726.6 960.9 728.2 962.9 729.9 964.8 731.5 966.8 733.1 968.7 734.8 970.7 736.4 972.6 738.0 974.6 739.6 976.5 741.3 978.5 742.9 980.4 744.5 982.3 746.2 984.3 747.8 986.2 749.4 988.2 751.1 990.1 752.7 992.0 754.3 994.0 756.0 995.9 757.6 997.8 759.2 999.8 760.9 1001.7 762.5 1003.6 764.1 1005.6 765.7 1007.5 767.4 1009.4 769.0 1011.3 770.6 1013.3 772.3 1015.2 773.9 1017.1 775.5 1019.0 777.2 1021.0 778.8 1022.9 780.4 1024.8 782.1 1026.7 783.7 1028.6 785.3 1030.5 787.0 1032.5 788.6 1034.4 790.2 1036.3 791.8 1038.2 793.5 1040.1 795.1 1042.0 796.7 1043.9 798.4 1045.8 800.0 1047.7 801.6 1049.6 803.3 1051.5 804.9 1053.4 806.5 1055.3 808.2 1057.2 809.8 1059.1 811.4 1061.0 813.1 1062.9 814.7 1064.8 816.3 1066.7 817.9 1068.6 819.7 1070.6 821.4 1072.7 823.2 1074.7 824.9 1076.7 826.6 1078.7 828.4 1080.7 830.1 1082.7 831.9 1084.8 833.6 1086.8 835.3 1088.8 837.1 1090.8 838.8 1092.8 840.6 1094.8 842.3 1096.8 844.0 1098.8 845.8 1100.8 847.5 1102.8 849.3 1104.8 851.0 1106.8 852.7 1108.8 854.5 1110.8 856.2 1112.8 858.0 1114.8 859.7 1116.8 861.4 1118.8 863.2 1120.7 864.9 1122.7 866.7 1124.7 868.4 1126.7 870.1 1128.7 871.9 1130.7 873.6 1132.7 875.4 1134.6 877.1 1136.6 878.8 1138.6 880.6 1140.6 882.3 1142.5 884.1 1144.5 885.8 1146.5 887.5 1148.5 889.3 1150.4 891.0 1152.4 892.8 1154.4 894.5 1156.3 896.2 1158.3 898.0 1160.3 899.7 1162.2 901.5 1164.2 903.2 1166.2 904.9 1168.1 906.7 1170.1 908.4 1172.0 910.2 1174.0 911.9 1175.9 913.6 1177.9 915.4 1179.8 917.1 1181.8 918.9 1183.7 920.6 1185.7 922.3 1187.6 924.1 1189.6 925.8 1191.5 927.6 1193.4 929.3 1195.4 931.0 1197.3 932.8 1199.3 934.5 1201.2 936.3 1203.1 938.0 1205.0 939.7 1207.0 941.5 1208.9 943.2 1210.8 945.0 1212.8 946.7 1214.7 948.4 1216.6 950.2 1218.5 951.9 1220.4 953.7 1222.4 955.4 1224.3 957.1 1226.2 958.9 1228.1 960.6 1230.0 962.4 1231.9 964.1 1233.8 965.8 1235.8 967.6 1237.7 969.3 1239.6 971.1 1241.5 972.8 1243.4 974.5 1245.3 976.3 1247.2 978.0 1249.1 979.8 1251.0 981.5 1252.9 983.2 1254.7 985.0 1256.6 986.7 1258.5 988.5 1260.4 990.2 1262.3 991.9 1264.2 993.7 1266.1 995.4 1267.9 997.2 1269.8 998.9 1271.7 1000.6 1273.6 1002.4 1275.5 1004.1 1277.3 1005.9 1279.2 1007.6 1281.1 1009.3 1282.9 1011.1 1284.8 1012.8 1286.7 1014.6 1288.5 1016.3 1290.4 1018.0 1292.2 1019.8 1294.1 1021.5 1296.0 1023.3 1297.8 1025.0 1299.7 1026.7 1301.5 1028.5 1303.4 1030.2 1305.2 1032.0 1307.1 1033.7 1308.9 1035.4 1310.7 1037.2 1312.6 1038.9 1314.4 1040.7 1316.3 1042.4 1318.1 1044.1 1319.9 1045.9 1321.8 1047.6 1323.6 1049.4 1325.4 1051.1 1327.2 1052.8 1329.1 1054.6 1330.9 1056.3 1332.7 1058.1 1334.5 1059.8 1336.3 1061.5 1338.2 1063.3 1340.0 1065.0 1341.8 1066.8 1343.6 1068.5 1345.4 1070.2 1347.2 1072.0 1349.0 1073.7 1350.8 1075.5 1352.6 1077.2 1354.4 1078.9 1356.2 1080.8 1358.1 1082.6 1360.0 1084.5 1361.9 1086.3 1363.8 1088.2 1365.7 1090.0 1367.6 1091.9 1369.5 1093.7 1371.4 1095.6 1373.3 1097.4 1375.2 1099.3 1377.1 1101.1 1378.9 1103.0 1380.8 1104.8 1382.7 1106.7 1384.6 1108.5 1386.4 1110.4 1388.3 1112.2 1390.2 1114.1 1392.1 1115.9 1393.9 1117.8 1395.8 1119.6 1397.6 1121.5 1399.5 1123.3 1401.4 1125.2 1403.2 1127.0 1405.1 1128.9 1406.9 1130.7 1408.7 1132.5 1410.6 1134.4 1412.4 1136.2 1414.3 1138.1 1416.1 1139.9 1417.9 1141.8 1419.8 1143.6 1421.6 1145.5 1423.4 1147.3 1425.3 1149.2 1427.1 1151.0 1428.9 1152.9 1430.7 1154.7 1432.5 1156.6 1434.3 1158.4 1436.1 1160.3 1438.0 1162.1 1439.8 1164.0 1441.6 1165.8 1443.4 1167.7 1445.2 1169.5 1446.9 1171.4 1448.7 1173.2 1450.5 1175.1 1452.3 1176.9 1454.1 1178.8 1455.9 1180.6 1457.7 1182.5 1459.4 1184.3 1461.2 1186.2 1463.0 1188.0 1464.8 1189.9 1466.5 1191.7 1468.3 1193.6 1470.0 1195.4 1471.8 1197.3 1473.6 1199.1 1475.3 1201.0 1477.1 1202.8 1478.8 1204.6 1480.6 1206.5 1482.3 1208.3 1484.0 1210.2 1485.8 1212.0 1487.5 1213.9 1489.2 1215.7 1491.0 1217.6 1492.7 1219.4 1494.4 1221.3 1496.1 1223.1 1497.9 1225.0 1499.6 1226.8 1501.3 1228.7 1503.0 1230.5 1504.7 1232.4 1506.4 1234.2 1508.1 1236.1 1509.8 1237.9 1511.5 1239.8 1513.2 1241.6 1514.9 1243.5 1516.6 1245.3 1518.3 1247.2 1520.0 1249.1 1521.7 1251.1 1523.5 1253.0 1525.3 1255.0 1527.1 1257.0 1528.8 1258.9 1530.6 1260.9 1532.3 1262.8 1534.1 1264.8 1535.9 1266.7 1537.6 1268.7 1539.4 1270.7 1541.1 1272.6 1542.8 1274.6 1544.6 1276.5 1546.3 1278.5 1548.0 1280.4 1549.8 1282.4 1551.5 1284.4 1553.2 1286.3 1554.9 1288.3 1556.7 1290.2 1558.4 1292.2 1560.1 1294.1 1561.8 1296.1 1563.5 1298.1 1565.2 1300.0 1566.9 1302.0 1568.6 1303.9 1570.3 1305.9 1571.9 1307.8 1573.6 1309.8 1575.3 1311.8 1577.0 1313.7 1578.6 1315.7 1580.3 1317.6 1582.0 1319.6 1583.6 1321.6 1585.3 1323.5 1587.0 1325.5 1588.6 1327.4 1590.3 1329.4 1591.9 1331.3 1593.5 1333.3 1595.2 1335.3 1596.8 1337.2 1598.4 1339.2 1600.1 1341.1 1601.7 1343.1 1603.3 1345.0 1604.9 1347.0 1606.6 1349.0 1608.2 1350.9 1609.8 1352.9 1611.4 1354.8 1613.0 1356.8 1614.6 1358.7 1616.2 1360.7 1617.8 1362.7 1619.3 1364.6 1620.9 1366.6 1622.5 1368.5 1624.1 1370.5 1625.6 1372.4 1627.2 1374.4 1628.8 1376.4 1630.3 1378.3 1631.9 1380.4 1633.5 1382.4 1635.2 1384.5 1636.8 1386.6 1638.4 1388.6 1640.1 1390.7 1641.7 1392.8 1643.3 1394.8 1644.9 1396.9 1646.5 1399.0 1648.1 1401.0 1649.7 1403.1 1651.3 1405.2 1652.9 1407.2 1654.5 1409.3 1656.1 1411.4 1657.7 1413.4 1659.3 1415.5 1660.8 1417.6 1662.4 1419.6 1664.0 1421.7 1665.5 1423.8 1667.1 1425.8 1668.6 1427.9 1670.2 1430.0 1671.7 1432.0 1673.3 1434.1 1674.8 1436.2 1676.3 1438.2 1677.9 1440.3 1679.4 1442.4 1680.9 1444.4 1682.4 1446.5 1683.9 1448.6 1685.4 1450.6 1686.9 1452.7 1688.4 1454.8 1689.9 1456.8 1691.4 1458.9 1692.9 1461.0 1694.4 1463.0 1695.9 1465.1 1697.4 1467.2 1698.8 1469.2 1700.3 1471.3 1701.8 1473.4 1703.2 1475.4 1704.7 1477.5 1706.1 1479.6 1707.6 1481.6 1709.0 1483.7 1710.4 1485.8 1711.9 1487.8 1713.3 1489.9 1714.7 1492.0 1716.2 1494.0 1717.6 1496.1 1719.0 1498.2 1720.4 1500.3 1721.9 1502.5 1723.3 1504.7 1724.8 1506.9 1726.3 1509.0 1727.7 1511.2 1729.2 1513.4 1730.7 1515.6 1732.1 1517.7 1733.5 1519.9 1735.0 1522.1 1736.4 1524.3 1737.8 1526.4 1739.3 1528.6 1740.7 1530.8 1742.1 1533.0 1743.5 1535.1 1744.9 1537.3 1746.3 1539.5 1747.7 1541.7 1749.1 1543.8 1750.5 1546.0 1751.9 1548.2 1753.3 1550.4 1754.6 1552.5 1756.0 1554.7 1757.4 1556.9 1758.7 1559.1 1760.1 1561.2 1761.4 1563.4 1762.8 1565.6 1764.1 1567.8 1765.5 1569.9 1766.8 1572.1 1768.1 1574.3 1769.4 1576.5 1770.8 1578.6 1772.1 1580.8 1773.4 1583.0 1774.7 1585.2 1776.0 1587.3 1777.3 1589.5 1778.6 1591.7 1779.9 1593.9 1781.1 1596.0 1782.4 1598.2 1783.7 1600.4 1785.0 1602.6 1786.2 1604.7 1787.5 1606.9 1788.7 1609.1 1790.0 1611.3 1791.2 1613.4 1792.5 1615.6 1793.7 1617.8 1795.0 1620.1 1796.2 1622.3 1797.5 1624.6 1798.8 1626.9 1800.1 1629.2 1801.4 1631.5 1802.6 1633.8 1803.9 1636.0 1805.1 1638.3 1806.4 1640.6 1807.6 1642.9 1808.9 1645.2 1810.1 1647.5 1811.3 1649.7 1812.6 1652.0 1813.8 1654.3 1815.0 1656.6 1816.2 1658.9 1817.4 1661.2 1818.6 1663.5 1819.8 1665.7 1821.0 1668.0 1822.2 1670.3 1823.4 1672.6 1824.6 1674.9 1825.7 1677.2 1826.9 1679.4 1828.1 1681.7 1829.2 1684.0 1830.4 1686.3 1831.5 1688.6 1832.7 1690.9 1833.8 1693.1 1835.0 1695.4 1836.1 1697.7 1837.2 1700.0 1838.3 1702.3 1839.5 1704.6 1840.6 1706.8 1841.7 1709.1 1842.8 1711.4 1843.9 1713.7 1845.0 1716.0 1846.1 1718.3 1847.1 1720.5 1848.2 1722.8 1849.3 1725.1 1850.4 1727.4 1851.4 1729.7 1852.5 1732.0 1853.6 1734.2 1854.6 1736.5 1855.7 1738.8 1856.7 1741.1 1857.7 1743.4 1858.8 1745.7 1859.8 1747.9 1860.8 1750.2 1861.9 1752.6 1862.9 1755.0 1864.0 1757.4 1865.0 1759.8 1866.1 1762.2 1867.1 1764.6 1868.2 1767.0 1869.2 1769.4 1870.2 1771.8 1871.3 1774.2 1872.3 1776.5 1873.3 1778.9 1874.3 1781.3 1875.3 1783.7 1876.3 1786.1 1877.3 1788.5 1878.3 1790.9 1879.3 1793.3 1880.3 1795.7 1881.3 1798.1 1882.2 1800.5 1883.2 1802.9 1884.2 1805.3 1885.1 1807.6 1886.1 1810.0 1887.0 1812.4 1888.0 1814.8 1888.9 1817.2 1889.9 1819.6 1890.8 1822.0 1891.7 1824.4 1892.7 1826.8 1893.6 1829.2 1894.5 1831.6 1895.4 1834.0 1896.3 1836.4 1897.2 1838.7 1898.1 1841.1 1899.0 1843.5 1899.9 1845.9 1900.8 1848.3 1901.7 1850.7 1902.5 1853.1 1903.4 1855.5 1904.3 1857.9 1905.1 1860.3 1906.0 1862.7 1906.9 1865.1 1907.7 1867.5 1908.5 1869.9 1909.4 1872.2 1910.2 1874.6 1911.1 1877.0 1911.9 1879.4 1912.7 1881.8 1913.5 1884.2 1914.4 1886.6 1915.2 1889.0 1916.0 1891.4 1916.8 1893.8 1917.6 1896.2 1918.4 1898.6 1919.2 1901.0 1920.0 1903.3 1920.7 1905.7 1921.5 1908.1 1922.3 1910.5 1923.1 1912.9 1923.8 1915.3 1924.6 1917.7 1925.4 1920.1 1926.1 1922.5 1926.9 1924.9 1927.6 1927.3 1928.4 1929.7 1929.1 1932.1 1929.9 1934.4 1930.6 1936.8 1931.3 1939.2 1932.1 1941.7 1932.8 1944.2 1933.6 1946.7 1934.3 1949.2 1935.1 1951.7 1935.8 1954.2 1936.5 1956.7 1937.3 1959.2 1938.0 1961.7 1938.7 1964.2 1939.4 1966.7 1940.2 1969.2 1940.9 1971.7 1941.6 1974.2 1942.3 1976.7 1943.0 1979.3 1943.7 1981.8 1944.4 1984.3 1945.1 1986.8 1945.7 1989.3 1946.4 1991.8 1947.1 1994.3 1947.8 1996.8 1948.4 1999.3 1949.1 2001.8 1949.8 2004.3 1950.4 2006.8 1951.1 2009.3 1951.7 2011.8 1952.4 2014.3 1953.0 2016.8 1953.7 2019.3 1954.3 2021.8 1955.0 2024.3 1955.6 2026.8 1956.2 2029.3 1956.8 2031.8 1957.5 2034.3 1958.1 2036.8 1958.7 2039.3 1959.3 2041.8 1959.9 2044.3 1960.5 2046.8 1961.1 2049.3 1961.7 2051.8 1962.3 2054.3 1962.9 2056.8 1963.5 2059.3 1964.1 2061.8 1964.7 2064.3 1965.2 2066.8 1965.8 2069.3 1966.4 2071.8 1967.0 2074.3 1967.5 2076.8 1968.1 2079.3 1968.6 2081.8 1969.2 2084.3 1969.7 2086.8 1970.3 2089.3 1970.8 2091.8 1971.4 2094.3 1971.9 2096.8 1972.5 2099.3 1973.0 2101.8 1973.5 2104.3 1974.1 2106.8 1974.6 2109.3 1975.1 2111.8 1975.6 2114.3 1976.1 2116.8 1976.7 2119.3 1977.2 2121.8 1977.7 2124.3 1978.2 2126.8 1978.7 2129.3 1979.2 2131.8 1979.7 2134.3 1980.2 2136.8 1980.7 2139.3 1981.2 2141.8 1981.7 2144.3 1982.1 2146.8 1982.6 2149.3 1983.1 2151.8 1983.6 2154.3 1984.0 2156.8 1984.5 2159.3 1985.0 2161.8 1985.5 2164.3 1985.9 2166.8 1986.4 2169.3 1986.8 2171.8 1987.3 2174.3 1987.7 2176.8 1988.2 2179.3 1988.6 2181.8 1989.1 2184.3 1989.5 2186.8 1990.0 2189.3 1990.4 2191.9 1990.8 2194.4 1991.3 2196.9 1991.7 2199.4 1992.1 2201.9 1992.6 2204.4 1993.0 2206.9 1993.4 2209.4 1993.8 2211.9 1994.2 2214.4 1994.7 2216.9 1995.1 2219.4 1995.5 2221.9 1995.9 2224.4 1996.3 2226.9 1996.7 2229.4 1997.1 2231.9 1997.5 2234.4 1997.9 2236.9 1998.3 2239.4 1998.7 2241.9 1999.1 2244.4 1999.5 2246.9 1999.8 2249.4 2000.2 2251.9 2000.6 2254.4 2001.0 2256.9 2001.4 2259.4 2001.7 2261.9 2002.1 2264.4 2002.5"/>
<path fill="none" stroke="#000" stroke-width="5.3" stroke-linejoin="round" d="M313.8 89.3L314.1 91.8 314.3 94.4 314.6 96.9 314.9 99.4 315.1 101.9 315.4 104.5 315.7 107.0 315.9 109.5 316.2 112.0 316.5 114.5 316.7 117.0 317.0 119.5 317.3 122.0 317.6 124.7 317.9 127.4 318.1 130.1 318.4 132.8 318.7 135.4 319.0 138.1 319.3 140.8 319.6 143.5 319.9 146.1 320.2 148.8 320.5 151.4 320.8 154.1 321.1 156.7 321.4 159.3 321.6 162.0 321.9 164.6 322.2 167.2 322.5 169.8 322.8 172.4 323.1 175.0 323.4 177.6 323.7 180.2 324.0 182.8 324.3 185.4 324.6 187.9 324.9 190.5 325.1 193.1 325.4 195.6 325.7 198.2 326.1 201.2 326.4 204.1 326.7 206.9 327.1 209.7 327.4 212.5 327.7 215.3 328.0 218.1 328.4 220.9 328.7 223.7 329.0 226.5 329.3 229.2 329.7 232.0 330.0 234.7 330.3 237.5 330.7 240.2 331.0 243.0 331.3 245.7 331.6 248.4 332.0 251.1 332.3 253.8 332.6 256.5 332.9 259.2 333.3 261.9 333.6 264.5 333.9 267.2 334.2 269.8 334.6 272.5 334.9 275.1 335.2 277.8 335.5 280.4 335.9 283.0 336.2 285.6 336.5 288.2 336.8 290.8 337.2 293.4 337.5 296.0 337.8 298.5 338.2 301.1 338.5 303.7 338.8 306.2 339.1 308.7 339.5 311.3 339.8 313.8 340.1 316.3 340.4 318.8 340.8 321.3 341.1 323.8 341.4 326.3 341.9 329.6 342.3 332.9 342.7 336.2 343.2 339.4 343.6 342.7 344.0 345.9 344.5 349.1 344.9 352.3 345.3 355.5 345.8 358.7 346.2 361.9 346.6 365.0 347.1 368.2 347.5 371.3 347.9 374.4 348.4 377.5 348.8 380.6 349.2 383.7 349.7 386.7 350.1 389.8 350.6 392.8 351.0 395.8 351.4 398.8 351.9 401.8 352.3 404.8 352.7 407.7 353.2 410.7 353.6 413.6 354.0 416.6 354.5 419.5 354.9 422.4 355.3 425.2 355.8 428.1 356.2 431.0 356.6 433.8 357.1 436.6 357.5 439.5 357.9 442.3 358.4 445.1 358.8 447.8 359.3 450.6 359.7 453.3 360.1 456.1 360.6 458.8 361.0 461.5 361.4 464.2 361.9 466.9 362.3 469.6 362.7 472.2 363.2 474.9 363.6 477.5 364.0 480.1 364.5 482.8 364.9 485.4 365.3 487.9 365.8 490.5 366.2 493.1 366.6 495.6 367.1 498.2 367.5 500.7 368.0 503.2 368.4 505.7 368.8 508.2 369.3 510.7 369.7 513.1 370.2 516.2 370.8 519.2 371.3 522.2 371.9 525.3 372.4 528.2 373.0 531.2 373.5 534.2 374.0 537.1 374.6 540.0 375.1 542.9 375.7 545.8 376.2 548.6 376.8 551.5 377.3 554.3 377.8 557.1 378.4 559.9 378.9 562.7 379.5 565.5 380.0 568.2 380.6 570.9 381.1 573.6 381.7 576.3 382.2 579.0 382.7 581.7 383.3 584.3 383.8 586.9 384.4 589.5 384.9 592.1 385.5 594.7 386.0 597.3 386.5 599.8 387.1 602.4 387.6 604.9 388.2 607.4 388.7 609.9 389.3 612.3 389.8 614.8 390.4 617.2 391.0 620.1 391.7 623.0 392.3 625.9 393.0 628.8 393.6 631.6 394.3 634.4 394.9 637.2 395.6 640.0 396.2 642.7 396.9 645.4 397.5 648.2 398.2 650.8 398.8 653.5 399.5 656.2 400.1 658.8 400.8 661.4 401.4 664.0 402.1 666.6 402.7 669.2 403.4 671.8 404.1 674.3 404.7 676.8 405.4 679.3 406.0 681.8 406.7 684.3 407.3 686.7 408.0 689.2 408.6 691.6 409.4 694.4 410.1 697.2 410.9 699.9 411.7 702.7 412.4 705.4 413.2 708.1 414.0 710.8 414.7 713.5 415.5 716.1 416.2 718.7 417.0 721.4 417.8 724.0 418.5 726.5 419.3 729.1 420.0 731.6 420.8 734.2 421.6 736.7 422.3 739.2 423.1 741.6 423.8 744.1 424.6 746.6 425.4 749.0 426.1 751.4 426.9 753.8 427.7 756.2 428.5 758.9 429.4 761.6 430.3 764.3 431.1 766.9 432.0 769.6 432.9 772.2 433.7 774.8 434.6 777.4 435.5 779.9 436.4 782.5 437.2 785.0 438.1 787.6 439.0 790.1 439.8 792.6 440.7 795.1 441.6 797.5 442.4 800.0 443.3 802.4 444.2 804.9 445.1 807.3 445.9 809.7 446.8 812.1 447.7 814.4 448.5 816.8 449.4 819.2 450.4 821.8 451.4 824.4 452.3 827.0 453.3 829.6 454.3 832.2 455.3 834.8 456.3 837.3 457.2 839.9 458.2 842.4 459.2 844.9 460.2 847.4 461.1 849.9 462.1 852.4 463.1 854.9 464.1 857.3 465.1 859.8 466.0 862.2 467.0 864.6 468.0 867.1 469.0 869.5 470.0 871.9 470.9 874.3 471.9 876.6 472.9 879.0 473.9 881.4 474.8 883.7 475.8 886.1 476.8 888.4 477.8 890.8 478.8 893.1 479.7 895.4 480.7 897.7 481.7 900.0 482.8 902.6 483.9 905.1 485.0 907.7 486.0 910.2 487.1 912.7 488.2 915.2 489.3 917.8 490.4 920.3 491.5 922.8 492.6 925.2 493.7 927.7 494.7 930.2 495.8 932.7 496.9 935.1 498.0 937.6 499.1 940.0 500.2 942.5 501.3 944.9 502.4 947.3 503.4 949.8 504.5 952.2 505.6 954.6 506.7 957.0 507.8 959.4 508.9 961.8 510.0 964.2 511.1 966.6 512.1 969.0 513.2 971.4 514.3 973.8 515.4 976.1 516.5 978.5 517.6 980.9 518.7 983.2 519.8 985.6 520.8 988.0 521.9 990.3 523.0 992.7 524.1 995.0 525.2 997.4 526.3 999.7 527.4 1002.0 528.5 1004.4 529.5 1006.7 530.6 1009.0 531.7 1011.3 532.8 1013.7 533.9 1016.0 535.0 1018.3 536.1 1020.6 537.2 1022.9 538.2 1025.2 539.3 1027.5 540.4 1029.8 541.5 1032.1 542.6 1034.4 543.7 1036.7 544.8 1039.0 545.9 1041.3 546.9 1043.6 548.0 1045.9 549.1 1048.2 550.2 1050.4 551.3 1052.7 552.4 1055.0 553.5 1057.3 554.6 1059.5 555.6 1061.8 556.7 1064.1 557.8 1066.4 558.9 1068.6 560.0 1070.9 561.1 1073.1 562.2 1075.4 563.3 1077.7 564.3 1079.9 565.4 1082.2 566.5 1084.4 567.7 1086.9 568.9 1089.4 570.1 1091.8 571.3 1094.3 572.5 1096.8 573.7 1099.2 574.9 1101.7 576.1 1104.2 577.3 1106.6 578.5 1109.1 579.7 1111.5 580.9 1114.0 582.1 1116.4 583.3 1118.9 584.5 1121.3 585.7 1123.8 586.9 1126.2 588.1 1128.6 589.3 1131.1 590.4 1133.5 591.6 1136.0 592.8 1138.4 594.0 1140.8 595.2 1143.3 596.4 1145.7 597.6 1148.1 598.8 1150.5 600.0 1153.0 601.2 1155.4 602.4 1157.8 603.6 1160.2 604.8 1162.6 606.0 1165.1 607.2 1167.5 608.4 1169.9 609.6 1172.3 610.8 1174.7 612.0 1177.1 613.2 1179.5 614.4 1181.9 615.6 1184.3 616.8 1186.7 618.0 1189.1 619.2 1191.5 620.4 1193.9 621.5 1196.3 622.7 1198.7 623.9 1201.1 625.1 1203.5 626.3 1205.9 627.5 1208.3 628.7 1210.7 629.9 1213.0 631.1 1215.4 632.3 1217.8 633.5 1220.2 634.7 1222.6 635.9 1224.9 637.1 1227.3 638.3 1229.7 639.5 1232.0 640.7 1234.4 641.9 1236.8 643.1 1239.2 644.3 1241.5 645.5 1243.9 646.7 1246.2 647.9 1248.6 649.1 1251.0 650.3 1253.3 651.5 1255.7 652.6 1258.0 653.8 1260.4 655.0 1262.7 656.2 1265.1 657.4 1267.4 658.6 1269.8 659.8 1272.1 661.0 1274.4 662.2 1276.8 663.4 1279.1 664.6 1281.5 665.8 1283.8 667.0 1286.1 668.2 1288.5 669.4 1290.8 670.6 1293.1 671.8 1295.4 673.0 1297.8 674.2 1300.1 675.4 1302.4 676.6 1304.7 677.8 1307.1 679.0 1309.4 680.2 1311.7 681.4 1314.0 682.6 1316.3 683.8 1318.6 684.9 1320.9 686.1 1323.2 687.3 1325.5 688.5 1327.8 689.7 1330.1 690.9 1332.4 692.1 1334.7 693.3 1337.0 694.5 1339.3 695.7 1341.6 696.9 1343.9 698.1 1346.2 699.3 1348.5 700.5 1350.8 701.7 1353.0 702.9 1355.3 704.1 1357.6 705.3 1359.9 706.5 1362.2 707.7 1364.4 708.9 1366.7 710.1 1369.0 711.3 1371.2 712.5 1373.5 713.7 1375.8 714.9 1378.0 716.0 1380.3 717.2 1382.6 718.4 1384.8 719.6 1387.1 720.8 1389.3 722.0 1391.6 723.2 1393.8 724.4 1396.1 725.6 1398.3 726.8 1400.6 728.0 1402.8 729.2 1405.0 730.4 1407.3 731.6 1409.5 732.8 1411.7 734.0 1414.0 735.2 1416.2 736.4 1418.4 737.6 1420.7 738.8 1422.9 740.0 1425.1 741.2 1427.3 742.4 1429.5 743.6 1431.8 744.8 1434.0 746.0 1436.2 747.2 1438.4 748.3 1440.6 749.5 1442.8 750.7 1445.0 751.9 1447.2 753.1 1449.4 754.3 1451.6 755.6 1454.0 756.9 1456.4 758.2 1458.8 759.5 1461.2 760.9 1463.5 762.2 1465.9 763.5 1468.3 764.8 1470.7 766.1 1473.1 767.4 1475.4 768.7 1477.8 770.0 1480.2 771.3 1482.5 772.6 1484.9 773.9 1487.2 775.2 1489.6 776.5 1491.9 777.8 1494.3 779.1 1496.6 780.4 1499.0 781.7 1501.3 783.0 1503.7 784.3 1506.0 785.6 1508.3 787.0 1510.7 788.3 1513.0 789.6 1515.3 790.9 1517.6 792.2 1520.0 793.5 1522.3 794.8 1524.6 796.1 1526.9 797.4 1529.2 798.7 1531.5 800.0 1533.8 801.3 1536.1 802.6 1538.4 803.9 1540.7 805.2 1543.0 806.5 1545.3 807.8 1547.6 809.1 1549.9 810.4 1552.1 811.7 1554.4 813.1 1556.7 814.4 1559.0 815.7 1561.2 817.0 1563.5 818.3 1565.8 819.6 1568.0 820.9 1570.3 822.2 1572.5 823.5 1574.8 824.8 1577.0 826.1 1579.3 827.4 1581.5 828.7 1583.8 830.0 1586.0 831.3 1588.2 832.6 1590.5 833.9 1592.7 835.2 1594.9 836.5 1597.1 837.8 1599.3 839.2 1601.6 840.5 1603.8 841.8 1606.0 843.1 1608.2 844.4 1610.4 845.7 1612.6 847.0 1614.8 848.3 1617.0 849.6 1619.2 850.9 1621.3 852.2 1623.5 853.5 1625.7 854.8 1627.9 856.1 1630.0 857.4 1632.2 858.7 1634.4 860.0 1636.5 861.3 1638.7 862.6 1640.9 863.9 1643.0 865.2 1645.2 866.6 1647.3 867.9 1649.5 869.2 1651.6 870.5 1653.7 871.8 1655.9 873.2 1658.2 874.6 1660.5 876.0 1662.8 877.4 1665.1 878.8 1667.4 880.3 1669.7 881.7 1671.9 883.1 1674.2 884.5 1676.5 885.9 1678.8 887.3 1681.0 888.7 1683.3 890.2 1685.6 891.6 1687.8 893.0 1690.1 894.4 1692.3 895.8 1694.6 897.2 1696.8 898.6 1699.0 900.0 1701.3 901.5 1703.5 902.9 1705.7 904.3 1708.0 905.7 1710.2 907.1 1712.4 908.5 1714.6 909.9 1716.8 911.4 1719.0 912.8 1721.2 914.2 1723.4 915.6 1725.6 917.0 1727.7 918.4 1729.9 919.8 1732.1 921.3 1734.3 922.7 1736.4 924.1 1738.6 925.5 1740.8 926.9 1742.9 928.3 1745.1 929.7 1747.2 931.1 1749.3 932.6 1751.5 934.0 1753.6 935.4 1755.7 936.8 1757.9 938.2 1760.0 939.6 1762.1 941.0 1764.2 942.5 1766.3 943.9 1768.4 945.3 1770.5 946.7 1772.6 948.1 1774.7 949.5 1776.8 950.9 1778.9 952.4 1780.9 953.8 1783.0 955.2 1785.1 956.6 1787.1 958.1 1789.4 959.6 1791.6 961.2 1793.8 962.7 1796.0 964.2 1798.2 965.7 1800.4 967.3 1802.6 968.8 1804.7 970.3 1806.9 971.8 1809.1 973.3 1811.2 974.9 1813.4 976.4 1815.6 977.9 1817.7 979.4 1819.9 981.0 1822.0 982.5 1824.1 984.0 1826.3 985.5 1828.4 987.0 1830.5 988.6 1832.6 990.1 1834.7 991.6 1836.8 993.1 1838.9 994.7 1841.0 996.2 1843.1 997.7 1845.2 999.2 1847.3 1000.7 1849.3 1002.3 1851.4 1003.8 1853.5 1005.3 1855.5 1006.8 1857.6 1008.4 1859.6 1009.9 1861.7 1011.4 1863.7 1012.9 1865.7 1014.4 1867.7 1016.0 1869.8 1017.5 1871.8 1019.0 1873.8 1020.5 1875.8 1022.1 1877.8 1023.6 1879.8 1025.1 1881.8 1026.7 1883.9 1028.4 1886.0 1030.0 1888.1 1031.6 1890.2 1033.3 1892.3 1034.9 1894.4 1036.5 1896.5 1038.2 1898.6 1039.8 1900.7 1041.4 1902.7 1043.1 1904.8 1044.7 1906.8 1046.3 1908.9 1047.9 1910.9 1049.6 1913.0 1051.2 1915.0 1052.8 1917.0 1054.5 1919.1 1056.1 1921.1 1057.7 1923.1 1059.4 1925.1 1061.0 1927.1 1062.6 1929.1 1064.3 1931.0 1065.9 1933.0 1067.5 1935.0 1069.1 1937.0 1070.8 1938.9 1072.4 1940.9 1074.0 1942.8 1075.7 1944.8 1077.3 1946.7 1078.9 1948.6 1080.6 1950.5 1082.2 1952.5 1083.8 1954.4 1085.5 1956.3 1087.1 1958.2 1088.8 1960.2 1090.6 1962.2 1092.3 1964.2 1094.1 1966.2 1095.8 1968.2 1097.5 1970.2 1099.3 1972.2 1101.0 1974.1 1102.8 1976.1 1104.5 1978.0 1106.2 1980.0 1108.0 1981.9 1109.7 1983.9 1111.5 1985.8 1113.2 1987.7 1114.9 1989.6 1116.7 1991.5 1118.4 1993.5 1120.2 1995.3 1121.9 1997.2 1123.6 1999.1 1125.4 2001.0 1127.1 2002.9 1128.9 2004.7 1130.6 2006.6 1132.3 2008.4 1134.1 2010.3"/>
<path fill="none" stroke="#000" stroke-width="5.3" stroke-linejoin="round" d="M313.8 87.3L313.9 90.1 314.1 92.8 314.2 95.5 314.4 98.3 314.5 101.0 314.7 103.7 314.8 106.4 315.0 109.1 315.1 111.8 315.3 114.5 315.4 117.2 315.5 119.9 315.7 122.6 315.8 125.2 316.0 127.9 316.1 130.6 316.3 133.3 316.4 135.9 316.6 138.6 316.7 141.2 316.9 143.9 317.0 146.5 317.2 149.2 317.3 151.8 317.4 154.4 317.6 157.1 317.7 159.7 317.9 162.3 318.0 164.9 318.2 167.6 318.3 170.2 318.5 172.8 318.6 175.4 318.8 178.0 318.9 180.6 319.0 183.1 319.2 185.7 319.3 188.3 319.5 190.9 319.6 193.5 319.8 196.0 319.9 198.6 320.1 201.1 320.2 203.7 320.4 206.2 320.5 208.8 320.7 211.3 320.8 213.9 320.9 216.4 321.1 218.9 321.2 221.4 321.4 224.0 321.5 226.5 321.7 229.0 321.8 231.5 322.0 234.0 322.1 236.9 322.3 239.8 322.5 242.7 322.6 245.6 322.8 248.5 323.0 251.4 323.2 254.2 323.3 257.1 323.5 260.0 323.7 262.8 323.8 265.7 324.0 268.5 324.2 271.3 324.3 274.2 324.5 277.0 324.7 279.8 324.9 282.6 325.0 285.4 325.2 288.2 325.4 291.0 325.5 293.8 325.7 296.6 325.9 299.4 326.1 302.7 326.3 306.2 326.5 309.8 326.7 313.3 327.0 316.8 327.2 320.2 327.4 323.7 327.6 327.2 327.8 330.6 328.0 334.1 328.3 337.5 328.5 340.9 328.7 344.4 328.9 347.8 329.1 351.1 329.3 354.5 329.6 357.9 329.8 361.3 330.0 364.6 330.2 367.9 330.4 371.3 330.7 374.6 330.9 377.9 331.1 381.2 331.3 384.5 331.5 387.7 331.7 391.0 332.0 394.3 332.2 397.5 332.4 400.7 332.6 404.0 332.8 407.2 333.0 410.4 333.3 413.6 333.5 416.7 333.7 419.9 333.9 423.1 334.1 426.2 334.3 429.3 334.6 432.5 334.8 435.6 335.0 438.7 335.2 441.8 335.4 444.9 335.7 447.9 335.9 451.0 336.1 454.0 336.3 457.1 336.5 460.1 336.7 463.1 337.0 466.1 337.2 469.1 337.4 472.1 337.6 475.1 337.8 478.1 338.0 481.0 338.3 484.0 338.5 486.9 338.7 489.8 338.9 492.7 339.1 495.6 339.4 498.5 339.6 501.4 339.8 504.3 340.0 507.1 340.2 510.0 340.4 512.8 340.7 515.7 340.9 518.5 341.1 521.3 341.3 524.1 341.5 526.9 341.7 529.6 342.0 532.4 342.2 535.2 342.4 537.9 342.6 540.7 342.8 543.4 343.0 546.1 343.3 548.8 343.5 551.5 343.7 554.2 343.9 556.9 344.1 559.5 344.4 562.2 344.6 564.8 344.8 567.5 345.0 570.1 345.2 572.7 345.4 575.3 345.7 577.9 345.9 580.5 346.1 583.1 346.3 585.7 346.5 588.2 346.7 590.8 347.0 593.3 347.2 595.8 347.4 598.3 347.6 600.9 347.8 603.4 348.0 605.8 348.4 609.6 348.7 613.3 349.0 616.9 349.4 620.6 349.7 624.2 350.0 627.8 350.3 631.4 350.7 635.0 351.0 638.6 351.3 642.1 351.6 645.6 352.0 649.1 352.3 652.6 352.6 656.0 352.9 659.5 353.3 662.9 353.6 666.3 353.9 669.6 354.2 673.0 354.6 676.3 354.9 679.7 355.2 683.0 355.6 686.2 355.9 689.5 356.2 692.7 356.5 696.0 356.9 699.2 357.2 702.4 357.5 705.5 357.8 708.7 358.2 711.8 358.5 715.0 358.8 718.1 359.1 721.1 359.5 724.2 359.8 727.3 360.1 730.3 360.4 733.3 360.8 736.3 361.1 739.3 361.4 742.3 361.8 745.2 362.1 748.2 362.4 751.1 362.7 754.0 363.1 756.9 363.4 759.8 363.7 762.6 364.0 765.5 364.4 768.3 364.7 771.1 365.0 773.9 365.3 776.7 365.7 779.5 366.0 782.3 366.3 785.0 366.6 787.7 367.0 790.5 367.3 793.2 367.6 795.9 368.0 798.5 368.3 801.2 368.6 803.9 368.9 806.5 369.3 809.1 369.6 811.7 369.9 814.3 370.2 816.9 370.6 819.5 370.9 822.1 371.2 824.6 371.5 827.2 371.9 829.7 372.2 832.2 372.5 834.7 372.8 837.2 373.2 839.7 373.6 843.0 374.0 846.3 374.5 849.5 374.9 852.8 375.3 856.0 375.8 859.2 376.2 862.4 376.7 865.5 377.1 868.7 377.5 871.8 378.0 874.9 378.4 878.0 378.8 881.1 379.3 884.2 379.7 887.2 380.1 890.3 380.6 893.3 381.0 896.3 381.4 899.3 381.9 902.2 382.3 905.2 382.7 908.1 383.2 911.1 383.6 914.0 384.0 916.9 384.5 919.8 384.9 922.6 385.4 925.5 385.8 928.4 386.2 931.2 386.7 934.0 387.1 936.8 387.5 939.6 388.0 942.4 388.4 945.2 388.8 948.0 389.3 950.7 389.7 953.5 390.1 956.2 390.6 958.9 391.0 961.6 391.4 964.3 391.9 967.0 392.3 969.7 392.7 972.4 393.2 975.0 393.6 977.7 394.0 980.3 394.5 983.0 394.9 985.6 395.4 988.2 395.8 990.8 396.2 993.4 396.7 996.0 397.1 998.6 397.5 1001.2 398.0 1003.8 398.4 1006.3 398.8 1008.9 399.3 1011.4 399.7 1013.9 400.1 1016.5 400.6 1019.0 401.0 1021.5 401.4 1024.0 401.9 1026.5 402.3 1029.0 402.7 1031.5 403.2 1034.0 403.6 1036.5 404.1 1038.9 404.5 1041.4 405.0 1044.5 405.6 1047.5 406.1 1050.6 406.7 1053.6 407.2 1056.7 407.8 1059.7 408.3 1062.7 408.8 1065.7 409.4 1068.7 409.9 1071.7 410.5 1074.7 411.0 1077.7 411.6 1080.7 412.1 1083.6 412.6 1086.6 413.2 1089.6 413.7 1092.5 414.3 1095.4 414.8 1098.4 415.4 1101.3 415.9 1104.2 416.5 1107.1 417.0 1110.0 417.5 1112.9 418.1 1115.8 418.6 1118.7 419.2 1121.6 419.7 1124.5 420.3 1127.4 420.8 1130.2 421.3 1133.1 421.9 1135.9 422.4 1138.8 423.0 1141.6 423.5 1144.5 424.1 1147.3 424.6 1150.2 425.2 1153.0 425.7 1155.8 426.2 1158.6 426.8 1161.4 427.3 1164.3 427.9 1167.1 428.4 1169.9 429.0 1172.7 429.5 1175.5 430.0 1178.3 430.6 1181.0 431.1 1183.8 431.7 1186.6 432.2 1189.4 432.8 1192.2 433.3 1194.9 433.9 1197.7 434.4 1200.5 434.9 1203.2 435.5 1206.0 436.0 1208.7 436.6 1211.5 437.1 1214.2 437.7 1217.0 438.2 1219.7 438.7 1222.4 439.3 1225.2 439.8 1227.9 440.4 1230.6 440.9 1233.3 441.5 1236.1 442.0 1238.8 442.6 1241.5 443.1 1244.2 443.6 1246.9 444.2 1249.6 444.7 1252.3 445.3 1255.0 445.8 1257.7 446.4 1260.4 446.9 1263.1 447.4 1265.8 448.0 1268.5 448.5 1271.2 449.1 1273.9 449.6 1276.5 450.2 1279.2 450.7 1281.9 451.3 1284.6 451.8 1287.2 452.3 1289.9 452.9 1292.6 453.4 1295.2 454.0 1297.9 454.5 1300.6 455.1 1303.2 455.6 1305.9 456.1 1308.5 456.7 1311.2 457.2 1313.8 457.8 1316.5 458.3 1319.1 458.9 1321.7 459.4 1324.4 460.0 1327.0 460.5 1329.6 461.0 1332.3 461.6 1334.9 462.1 1337.5 462.7 1340.1 463.2 1342.8 463.8 1345.4 464.3 1348.0 464.8 1350.6 465.4 1353.2 465.9 1355.8 466.5 1358.4 467.0 1361.1 467.6 1363.7 468.1 1366.3 468.6 1368.9 469.2 1371.5 469.7 1374.0 470.3 1376.6 470.8 1379.2 471.4 1381.8 471.9 1384.4 472.5 1387.0 473.0 1389.6 473.5 1392.1 474.1 1394.7 474.6 1397.3 475.2 1399.9 475.7 1402.4 476.3 1405.0 476.8 1407.6 477.3 1410.1 477.9 1412.7 478.4 1415.2 479.0 1417.8 479.5 1420.4 480.1 1422.9 480.6 1425.5 481.2 1428.0 481.7 1430.6 482.2 1433.1 482.8 1435.6 483.3 1438.2 483.9 1440.7 484.4 1443.2 485.0 1445.8 485.5 1448.3 486.0 1450.8 486.6 1453.4 487.1 1455.9 487.7 1458.4 488.2 1460.9 488.8 1463.4 489.3 1465.9 489.9 1468.4 490.4 1471.0 490.9 1473.5 491.5 1476.0 492.0 1478.5 492.6 1481.0 493.1 1483.5 493.7 1486.0 494.2 1488.4 494.7 1490.9 495.3 1493.4 495.8 1495.9 496.4 1498.4 496.9 1500.9 497.5 1503.3 498.0 1505.8 498.6 1508.3 499.1 1510.7 499.6 1513.2 500.2 1515.7 500.7 1518.1 501.3 1520.6 501.8 1523.1 502.4 1525.5 502.9 1528.0 503.4 1530.4 504.0 1532.9 504.5 1535.3 505.1 1537.7 505.7 1540.7 506.4 1543.6 507.0 1546.5 507.7 1549.4 508.3 1552.3 509.0 1555.2 509.6 1558.1 510.3 1561.0 511.0 1563.9 511.6 1566.8 512.3 1569.7 512.9 1572.6 513.6 1575.5 514.2 1578.3 514.9 1581.2 515.5 1584.1 516.2 1586.9 516.8 1589.8 517.5 1592.6 518.1 1595.5 518.8 1598.3 519.4 1601.2 520.1 1604.0 520.7 1606.8 521.4 1609.7 522.0 1612.5 522.7 1615.3 523.3 1618.1 524.0 1620.9 524.7 1623.8 525.3 1626.6 526.0 1629.4 526.6 1632.1 527.3 1634.9 527.9 1637.7 528.6 1640.5 529.2 1643.3 529.9 1646.0 530.5 1648.8 531.2 1651.6 531.8 1654.3 532.5 1657.1 533.1 1659.8 533.8 1662.6 534.4 1665.3 535.1 1668.0 535.7 1670.8 536.4 1673.5 537.1 1676.2 537.7 1678.9 538.4 1681.6 539.0 1684.3 539.7 1687.0 540.3 1689.7 541.0 1692.4 541.6 1695.1 542.3 1697.8 542.9 1700.5 543.6 1703.1 544.2 1705.8 544.9 1708.5 545.5 1711.1 546.2 1713.8 546.8 1716.4 547.5 1719.1 548.1 1721.7 548.8 1724.3 549.4 1726.9 550.1 1729.6 550.8 1732.2 551.4 1734.8 552.1 1737.4 552.7 1740.0 553.4 1742.6 554.0 1745.2 554.7 1747.7 555.3 1750.3 556.0 1752.9 556.6 1755.5 557.3 1758.0 557.9 1760.6 558.6 1763.1 559.2 1765.7 559.9 1768.2 560.5 1770.7 561.2 1773.3 561.8 1775.8 562.5 1778.3 563.2 1780.8 563.8 1783.3 564.5 1785.8 565.1 1788.3 565.8 1790.8 566.4 1793.3 567.1 1795.7 567.7 1798.2 568.4 1800.7 569.0 1803.1 569.7 1805.6 570.3 1808.0 571.0 1810.5 571.6 1812.9 572.3 1815.3 572.9 1817.7 573.6 1820.2 574.4 1823.0 575.1 1825.8 575.9 1828.6 576.6 1831.3 577.4 1834.1 578.2 1836.9 578.9 1839.6 579.7 1842.4 580.4 1845.1 581.2 1847.9 582.0 1850.6 582.7 1853.3 583.5 1856.0 584.2 1858.7 585.0 1861.4 585.8 1864.1 586.5 1866.8 587.3 1869.4 588.1 1872.1 588.8 1874.7 589.6 1877.4 590.3 1880.0 591.1 1882.6 591.9 1885.2 592.6 1887.8 593.4 1890.4 594.1 1893.0 594.9 1895.6 595.7 1898.2 596.4 1900.7 597.2 1903.3 597.9 1905.8 598.7 1908.3 599.5 1910.8 600.2 1913.4 601.0 1915.9 601.8 1918.4 602.5 1920.8 603.3 1923.3 604.0 1925.8 604.8 1928.2 605.6 1930.7 606.3 1933.1 607.1 1935.5 607.8 1938.0 608.6 1940.4 609.4 1942.8 610.1 1945.2 611.0 1947.9 611.9 1950.6 612.7 1953.3 613.6 1956.0 614.5 1958.6 615.3 1961.3 616.2 1963.9 617.1 1966.6 618.0 1969.2 618.8 1971.8 619.7 1974.4 620.6 1977.0 621.4 1979.5 622.3 1982.1 623.2 1984.6 624.0 1987.2 624.9 1989.7 625.8 1992.2 626.7 1994.7 627.5 1997.2 628.4 1999.6 629.3 2002.1 630.1 2004.5 631.0 2007.0 631.9 2009.4 632.7 2011.8"/>
<path fill="none" stroke="#000" stroke-width="5.3" stroke-linejoin="round" d="M313.8 81.3L313.9 84.2 314.0 87.2 314.2 90.1 314.3 93.1 314.4 96.0 314.5 99.0 314.7 101.9 314.8 104.8 314.9 107.8 315.0 110.7 315.1 113.6 315.3 116.5 315.4 119.5 315.5 122.4 315.6 125.3 315.7 128.2 315.9 131.1 316.0 134.0 316.1 136.9 316.2 139.8 316.4 142.7 316.5 145.6 316.6 148.5 316.7 151.4 316.8 154.3 317.0 157.1 317.1 160.0 317.2 162.9 317.3 165.8 317.4 168.6 317.6 171.5 317.7 174.3 317.8 177.2 317.9 180.1 318.1 182.9 318.2 185.7 318.3 188.6 318.4 191.4 318.5 194.3 318.7 197.1 318.8 199.9 318.9 202.8 319.0 205.6 319.1 208.4 319.3 211.2 319.4 214.0 319.5 216.8 319.6 219.6 319.8 222.4 319.9 225.2 320.0 228.0 320.1 230.8 320.2 233.6 320.4 236.4 320.5 239.2 320.6 241.9 320.7 244.7 320.8 247.5 321.0 250.2 321.1 253.0 321.2 255.8 321.3 258.5 321.5 261.3 321.6 264.0 321.7 266.8 321.8 269.5 321.9 272.2 322.1 275.0 322.2 277.7 322.3 280.4 322.4 283.1 322.5 285.9 322.7 288.6 322.8 291.3 322.9 294.0 323.0 296.7 323.2 299.4 323.3 302.1 323.4 304.8 323.5 307.5 323.6 310.2 323.8 312.8 323.9 315.5 324.0 318.2 324.1 320.9 324.2 323.5 324.4 326.2 324.5 328.8 324.6 331.5 324.7 334.1 324.9 336.8 325.0 339.4 325.1 342.1 325.2 344.7 325.3 347.3 325.5 350.0 325.6 352.6 325.7 355.2 325.8 357.8 325.9 360.4 326.1 363.3 326.3 367.9 326.5 372.6 326.7 377.2 327.0 381.8 327.2 386.4 327.4 391.0 327.6 395.6 327.8 400.2 328.0 404.7 328.3 409.3 328.5 413.8 328.7 418.3 328.9 422.8 329.1 427.3 329.3 431.8 329.6 436.2 329.8 440.7 330.0 445.1 330.2 449.5 330.4 453.9 330.7 458.3 330.9 462.7 331.1 467.1 331.3 471.4 331.5 475.8 331.7 480.1 332.0 484.4 332.2 488.7 332.4 493.0 332.6 497.2 332.8 501.5 333.0 505.8 333.3 510.0 333.5 514.2 333.7 518.4 333.9 522.6 334.1 526.8 334.3 530.9 334.6 535.1 334.8 539.2 335.0 543.3 335.2 547.4 335.4 551.5 335.7 555.6 335.9 559.7 336.1 563.7 336.3 567.8 336.5 571.8 336.7 575.8 337.0 579.8 337.2 583.8 337.4 587.8 337.6 591.7 337.8 595.7 338.0 599.6 338.3 603.5 338.5 607.4 338.7 611.3 338.9 615.2 339.1 619.0 339.4 622.9 339.6 626.7 339.8 630.5 340.0 634.3 340.2 638.1 340.4 641.9 340.7 645.7 340.9 649.4 341.1 653.2 341.3 656.9 341.5 660.6 341.7 664.3 342.0 668.0 342.2 671.6 342.4 675.3 342.6 678.9 342.8 682.6 343.0 686.2 343.3 689.8 343.5 693.4 343.7 696.9 343.9 700.5 344.1 704.0 344.4 707.6 344.6 711.1 344.8 714.6 345.0 718.1 345.2 721.6 345.4 725.1 345.7 728.5 345.9 731.9 346.1 735.4 346.3 738.8 346.5 742.2 346.7 745.6 347.0 749.0 347.2 752.3 347.4 755.7 347.6 759.0 347.8 762.3 348.0 765.7 348.3 769.0 348.5 772.2 348.7 775.5 348.9 778.8 349.1 782.0 349.4 785.3 349.6 788.5 349.8 791.7 350.0 794.9 350.2 798.1 350.4 801.3 350.7 804.4 350.9 807.6 351.1 810.7 351.3 813.9 351.5 817.0 351.7 820.1 352.0 823.2 352.2 826.3 352.4 829.3 352.6 832.4 352.8 835.4 353.1 838.5 353.3 841.5 353.5 844.5 353.7 847.5 353.9 850.5 354.1 853.5 354.4 856.4 354.6 859.4 354.8 862.3 355.0 865.3 355.2 868.2 355.4 871.1 355.7 874.0 355.9 876.9 356.1 879.8 356.3 882.6 356.5 885.5 356.7 888.3 357.0 891.2 357.2 894.0 357.4 896.8 357.6 899.6 357.8 902.4 358.1 905.2 358.3 908.0 358.5 910.7 358.7 913.5 358.9 916.2 359.1 919.0 359.4 921.7 359.6 924.4 359.8 927.1 360.0 929.8 360.2 932.5 360.4 935.1 360.7 937.8 360.9 940.5 361.1 943.1 361.3 945.7 361.5 948.4 361.8 951.0 362.0 953.6 362.2 956.2 362.4 958.8 362.6 961.4 362.8 963.9 363.1 966.5 363.3 969.1 363.5 971.6 363.7 974.1 363.9 976.7 364.1 979.2 364.4 981.7 364.6 984.2 364.8 986.7 365.1 990.4 365.4 994.1 365.8 997.8 366.1 1001.5 366.4 1005.1 366.8 1008.8 367.1 1012.4 367.4 1016.0 367.7 1019.6 368.1 1023.2 368.4 1026.7 368.7 1030.2 369.0 1033.8 369.4 1037.3 369.7 1040.7 370.0 1044.2 370.3 1047.7 370.7 1051.1 371.0 1054.5 371.3 1057.9 371.6 1061.3 372.0 1064.7 372.3 1068.1 372.6 1071.4 373.0 1074.8 373.3 1078.1 373.6 1081.4 373.9 1084.7 374.3 1088.0 374.6 1091.2 374.9 1094.5 375.2 1097.7 375.6 1100.9 375.9 1104.2 376.2 1107.4 376.5 1110.6 376.9 1113.7 377.2 1116.9 377.5 1120.1 377.8 1123.2 378.2 1126.3 378.5 1129.5 378.8 1132.6 379.2 1135.7 379.5 1138.8 379.8 1141.8 380.1 1144.9 380.5 1147.9 380.8 1151.0 381.1 1154.0 381.4 1157.1 381.8 1160.1 382.1 1163.1 382.4 1166.1 382.7 1169.1 383.1 1172.0 383.4 1175.0 383.7 1178.0 384.0 1180.9 384.4 1183.9 384.7 1186.8 385.0 1189.7 385.4 1192.6 385.7 1195.5 386.0 1198.4 386.3 1201.3 386.7 1204.2 387.0 1207.1 387.3 1210.0 387.6 1212.8 388.0 1215.7 388.3 1218.5 388.6 1221.3 388.9 1224.2 389.3 1227.0 389.6 1229.8 389.9 1232.6 390.2 1235.4 390.6 1238.2 390.9 1241.0 391.2 1243.8 391.5 1246.6 391.9 1249.3 392.2 1252.1 392.5 1254.9 392.9 1257.6 393.2 1260.3 393.5 1263.1 393.8 1265.8 394.2 1268.5 394.5 1271.3 394.8 1274.0 395.1 1276.7 395.5 1279.4 395.8 1282.1 396.1 1284.8 396.4 1287.5 396.8 1290.2 397.1 1292.8 397.4 1295.5 397.7 1298.2 398.1 1300.9 398.4 1303.5 398.7 1306.2 399.1 1308.8 399.4 1311.5 399.7 1314.1 400.0 1316.7 400.4 1319.4 400.7 1322.0 401.0 1324.6 401.3 1327.2 401.7 1329.9 402.0 1332.5 402.3 1335.1 402.6 1337.7 403.0 1340.3 403.3 1342.9 403.6 1345.5 403.9 1348.0 404.3 1350.6 404.6 1353.2 404.9 1355.8 405.3 1358.4 405.6 1360.9 405.9 1363.5 406.2 1366.1 406.6 1368.6 406.9 1371.2 407.2 1373.7 407.5 1376.3 407.9 1378.8 408.2 1381.4 408.5 1383.9 408.8 1386.4 409.2 1389.0 409.5 1391.5 409.8 1394.0 410.1 1396.5 410.5 1399.1 410.8 1401.6 411.1 1404.1 411.4 1406.6 411.8 1409.1 412.1 1411.6 412.4 1414.1 412.8 1416.6 413.1 1419.1 413.4 1421.6 413.7 1424.1 414.1 1426.6 414.4 1429.1 414.7 1431.6 415.0 1434.1 415.4 1436.6 415.7 1439.0 416.1 1442.3 416.6 1445.6 417.0 1448.9 417.4 1452.2 417.9 1455.5 418.3 1458.8 418.7 1462.1 419.2 1465.3 419.6 1468.6 420.0 1471.9 420.5 1475.1 420.9 1478.4 421.3 1481.7 421.8 1484.9 422.2 1488.2 422.7 1491.4 423.1 1494.7 423.5 1497.9 424.0 1501.1 424.4 1504.4 424.8 1507.6 425.3 1510.8 425.7 1514.0 426.1 1517.3 426.6 1520.5 427.0 1523.7 427.4 1526.9 427.9 1530.1 428.3 1533.3 428.7 1536.5 429.2 1539.7 429.6 1542.9 430.0 1546.1 430.5 1549.3 430.9 1552.5 431.3 1555.7 431.8 1558.8 432.2 1562.0 432.7 1565.2 433.1 1568.4 433.5 1571.5 434.0 1574.7 434.4 1577.9 434.8 1581.0 435.3 1584.2 435.7 1587.3 436.1 1590.5 436.6 1593.7 437.0 1596.8 437.4 1599.9 437.9 1603.1 438.3 1606.2 438.7 1609.4 439.2 1612.5 439.6 1615.6 440.0 1618.8 440.5 1621.9 440.9 1625.0 441.4 1628.2 441.8 1631.3 442.2 1634.4 442.7 1637.5 443.1 1640.6 443.5 1643.7 444.0 1646.8 444.4 1650.0 444.8 1653.1 445.3 1656.2 445.7 1659.3 446.1 1662.4 446.6 1665.4 447.0 1668.5 447.4 1671.6 447.9 1674.7 448.3 1677.8 448.7 1680.9 449.2 1684.0 449.6 1687.0 450.1 1690.1 450.5 1693.2 450.9 1696.3 451.4 1699.3 451.8 1702.4 452.2 1705.5 452.7 1708.5 453.1 1711.6 453.5 1714.6 454.0 1717.7 454.4 1720.7 454.8 1723.8 455.3 1726.8 455.7 1729.9 456.1 1732.9 456.6 1736.0 457.0 1739.0 457.4 1742.0 457.9 1745.1 458.3 1748.1 458.8 1751.1 459.2 1754.1 459.6 1757.2 460.1 1760.2 460.5 1763.2 460.9 1766.2 461.4 1769.2 461.8 1772.2 462.2 1775.2 462.7 1778.2 463.1 1781.2 463.5 1784.2 464.0 1787.2 464.4 1790.2 464.8 1793.2 465.3 1796.2 465.7 1799.2 466.1 1802.2 466.6 1805.2 467.0 1808.1 467.5 1811.1 467.9 1814.1 468.3 1817.0 468.8 1820.0 469.2 1823.0 469.6 1825.9 470.1 1828.9 470.5 1831.8 470.9 1834.8 471.4 1837.8 471.8 1840.7 472.2 1843.6 472.7 1846.6 473.1 1849.5 473.5 1852.5 474.0 1855.4 474.4 1858.3 474.8 1861.2 475.3 1864.2 475.7 1867.1 476.2 1870.0 476.6 1872.9 477.0 1875.8 477.5 1878.7 477.9 1881.7 478.3 1884.6 478.8 1887.5 479.2 1890.4 479.6 1893.2 480.1 1896.1 480.5 1899.0 480.9 1901.9 481.4 1904.8 481.8 1907.7 482.2 1910.5 482.7 1913.4 483.1 1916.3 483.5 1919.2 484.0 1922.0 484.4 1924.9 484.9 1927.7 485.3 1930.6 485.7 1933.4 486.2 1936.3 486.6 1939.1 487.0 1942.0 487.5 1944.8 487.9 1947.6 488.3 1950.5 488.8 1953.3 489.2 1956.1 489.6 1958.9 490.1 1961.7 490.5 1964.6 490.9 1967.4 491.4 1970.2 491.8 1973.0 492.2 1975.8 492.7 1978.6 493.1 1981.4 493.6 1984.1 494.0 1986.9 494.4 1989.7 494.9 1992.5 495.3 1995.3 495.7 1998.0 496.2 2000.8 496.6 2003.6 497.0 2006.3 497.5 2009.1 497.9 2011.8"/>
<path fill="none" stroke="#000" stroke-width="5.3" stroke-linejoin="round" d="M313.8 69.6L313.8 72.3 313.8 75.0 313.9 77.6 313.9 80.3 313.9 82.9 313.9 85.6 314.0 88.2 314.0 90.9 314.0 93.5 314.0 96.1 314.1 98.7 314.1 101.3 314.1 103.9 314.1 106.5 314.2 109.1 314.2 111.7 314.2 114.3 314.2 116.9 314.3 119.5 314.3 122.0 314.3 124.6 314.3 127.2 314.4 129.7 314.4 132.3 314.4 134.8 314.4 137.4 314.5 139.9 314.5 142.4 314.5 144.9 314.5 147.4 314.6 150.0 314.6 152.5 314.6 155.0 314.7 160.0 314.7 164.9 314.7 169.9 314.8 174.8 314.8 179.7 314.9 184.5 314.9 189.4 315.0 194.2 315.0 199.0 315.1 203.8 315.1 208.6 315.2 213.3 315.2 218.1 315.3 222.8 315.3 227.4 315.4 232.1 315.4 236.7 315.5 241.3 315.5 245.9 315.6 250.5 315.6 255.0 315.7 259.5 315.7 264.0 315.8 268.5 315.8 272.9 315.9 277.4 315.9 281.8 316.0 286.2 316.0 290.5 316.1 294.9 316.1 299.2 316.2 303.5 316.2 307.7 316.3 312.0 316.3 316.2 316.4 320.4 316.4 324.6 316.4 328.8 316.5 332.9 316.5 337.0 316.6 341.1 316.6 345.2 316.7 349.2 316.7 353.2 316.8 357.2 316.8 361.2 316.9 365.2 316.9 369.1 317.0 373.0 317.0 376.9 317.1 380.8 317.1 384.6 317.2 388.5 317.2 392.3 317.3 396.1 317.3 399.8 317.4 403.6 317.4 407.3 317.5 411.0 317.5 414.6 317.6 418.3 317.6 421.9 317.7 425.5 317.7 429.1 317.8 432.7 317.8 436.3 317.9 439.8 317.9 443.3 318.0 446.8 318.0 450.2 318.1 453.7 318.1 457.1 318.1 460.5 318.2 463.9 318.2 467.3 318.3 470.6 318.3 473.9 318.4 477.2 318.4 480.5 318.5 483.8 318.5 487.0 318.6 490.3 318.6 493.5 318.7 496.7 318.7 499.8 318.8 503.0 318.8 506.1 318.9 509.2 318.9 512.3 319.0 515.4 319.0 518.5 319.1 521.5 319.1 524.5 319.2 527.5 319.2 530.5 319.3 533.5 319.3 536.4 319.4 539.3 319.4 542.3 319.5 545.2 319.5 548.0 319.6 550.9 319.6 553.7 319.7 556.6 319.7 559.4 319.8 562.2 319.8 565.0 319.9 567.7 319.9 570.5 319.9 573.2 320.0 575.9 320.0 578.6 320.1 581.3 320.1 584.0 320.2 586.6 320.2 589.2 320.3 591.9 320.3 594.5 320.4 597.1 320.4 599.6 320.5 602.2 320.5 604.7 320.6 607.3 320.6 609.8 320.7 612.3 320.7 616.0 320.8 619.7 320.9 623.4 321.0 627.0 321.0 630.6 321.1 634.2 321.2 637.7 321.3 641.2 321.3 644.7 321.4 648.2 321.5 651.6 321.6 655.0 321.6 658.4 321.7 661.7 321.8 665.0 321.8 668.3 321.9 671.6 322.0 674.9 322.1 678.1 322.1 681.3 322.2 684.4 322.3 687.6 322.4 690.7 322.4 693.8 322.5 696.9 322.6 699.9 322.6 703.0 322.7 706.0 322.8 709.0 322.9 711.9 322.9 714.9 323.0 717.8 323.1 720.7 323.2 723.6 323.2 726.5 323.3 729.3 323.4 732.2 323.4 735.0 323.5 737.8 323.6 740.6 323.7 743.3 323.7 746.1 323.8 748.8 323.9 751.5 324.0 754.2 324.0 756.8 324.1 759.5 324.2 762.1 324.2 764.8 324.3 767.4 324.4 770.0 324.5 772.6 324.5 775.1 324.6 777.7 324.7 780.2 324.8 782.7 324.8 785.3 324.9 788.6 325.0 791.9 325.1 795.2 325.2 798.4 325.3 801.7 325.4 804.9 325.5 808.1 325.6 811.3 325.7 814.4 325.8 817.5 325.9 820.7 326.1 826.4 326.2 829.9 326.3 833.3 326.4 836.6 326.5 840.0 326.6 843.3 326.7 846.7 326.8 850.0 327.0 853.2 327.1 856.5 327.2 859.8 327.3 863.0 327.4 866.2 327.5 869.4 327.6 872.6 327.7 875.7 327.8 878.9 327.9 882.0 328.0 885.1 328.1 888.2 328.3 891.3 328.4 894.3 328.5 897.4 328.6 900.4 328.7 903.5 328.8 906.5 328.9 909.5 329.0 912.5 329.1 915.4 329.2 918.4 329.3 921.3 329.5 924.3 329.6 927.2 329.7 930.1 329.8 933.0 329.9 935.9 330.0 938.8 330.1 941.7 330.2 944.5 330.3 947.4 330.4 950.2 330.5 953.1 330.7 955.9 330.8 958.7 330.9 961.5 331.0 964.3 331.1 967.1 331.2 969.8 331.3 972.6 331.4 975.4 331.5 978.1 331.6 980.8 331.7 983.6 331.8 986.3 332.0 989.0 332.1 991.7 332.2 994.4 332.3 997.1 332.4 999.8 332.5 1002.5 332.6 1005.1 332.7 1007.8 332.8 1010.5 332.9 1013.1 333.0 1015.7 333.2 1018.4 333.3 1021.0 333.4 1023.6 333.5 1026.2 333.6 1028.8 333.7 1031.4 333.8 1034.0 333.9 1036.6 334.0 1039.2 334.1 1041.8 334.2 1044.3 334.3 1046.9 334.5 1049.4 334.6 1052.0 334.7 1054.5 334.8 1057.1 334.9 1059.6 335.0 1062.1 335.1 1064.6 335.2 1067.1 335.3 1069.6 335.5 1074.6 335.8 1079.6 336.0 1084.5 336.2 1089.4 336.4 1094.3 336.6 1099.2 336.8 1104.1 337.1 1108.9 337.3 1113.7 337.5 1118.5 337.7 1123.3 337.9 1128.0 338.2 1132.8 338.4 1137.5 338.6 1142.2 338.8 1146.8 339.0 1151.5 339.2 1156.1 339.5 1160.7 339.7 1165.3 339.9 1169.9 340.1 1174.4 340.3 1179.0 340.5 1183.5 340.8 1188.0 341.0 1192.5 341.2 1196.9 341.4 1201.4 341.6 1205.8 341.9 1210.2 342.1 1214.6 342.3 1219.0 342.5 1223.3 342.7 1227.7 342.9 1232.0 343.2 1236.3 343.4 1240.6 343.6 1244.9 343.8 1249.1 344.0 1253.4 344.2 1257.6 344.5 1261.8 344.7 1266.0 344.9 1270.2 345.1 1274.4 345.3 1278.5 345.5 1282.6 345.8 1286.7 346.0 1290.8 346.2 1294.9 346.4 1299.0 346.6 1303.1 346.9 1307.1 347.1 1311.1 347.3 1315.1 347.5 1319.1 347.7 1323.1 347.9 1327.1 348.2 1331.0 348.4 1335.0 348.6 1338.9 348.8 1342.8 349.0 1346.7 349.2 1350.6 349.5 1354.5 349.7 1358.3 349.9 1362.2 350.1 1366.0 350.3 1369.8 350.6 1373.6 350.8 1377.4 351.0 1381.2 351.2 1385.0 351.4 1388.7 351.6 1392.5 351.9 1396.2 352.1 1399.9 352.3 1403.6 352.5 1407.3 352.7 1411.0 352.9 1414.7 353.2 1418.4 353.4 1422.0 353.6 1425.6 353.8 1429.3 354.0 1432.9 354.2 1436.5 354.5 1440.1 354.7 1443.7 354.9 1447.2 355.1 1450.8 355.3 1454.4 355.6 1457.9 355.8 1461.4 356.0 1465.0 356.2 1468.5 356.4 1472.0 356.6 1475.5 356.9 1478.9 357.1 1482.4 357.3 1485.9 357.5 1489.3 357.7 1492.8 357.9 1496.2 358.2 1499.6 358.4 1503.1 358.6 1506.5 358.8 1509.9 359.0 1513.3 359.3 1516.6 359.5 1520.0 359.7 1523.4 359.9 1526.7 360.1 1530.1 360.3 1533.4 360.6 1536.7 360.8 1540.1 361.0 1543.4 361.2 1546.7 361.4 1550.0 361.6 1553.3 361.9 1556.6 362.1 1559.8 362.3 1563.1 362.5 1566.4 362.7 1569.6 362.9 1572.9 363.2 1576.1 363.4 1579.3 363.6 1582.6 363.8 1585.8 364.0 1589.0 364.3 1592.2 364.5 1595.4 364.7 1598.6 364.9 1601.8 365.1 1604.9 365.3 1608.1 365.6 1611.3 365.8 1614.4 366.0 1617.6 366.2 1620.7 366.4 1623.9 366.6 1627.0 366.9 1630.2 367.1 1633.3 367.3 1636.4 367.5 1639.5 367.7 1642.6 368.0 1645.7 368.2 1648.8 368.4 1651.9 368.6 1655.0 368.8 1658.1 369.0 1661.1 369.3 1664.2 369.5 1667.3 369.7 1670.3 369.9 1673.4 370.1 1676.4 370.3 1679.5 370.6 1682.5 370.8 1685.6 371.0 1688.6 371.2 1691.6 371.4 1694.6 371.6 1697.7 371.9 1700.7 372.1 1703.7 372.3 1706.7 372.5 1709.7 372.7 1712.7 373.0 1715.7 373.2 1718.7 373.4 1721.6 373.6 1724.6 373.8 1727.6 374.0 1730.6 374.3 1733.5 374.5 1736.5 374.7 1739.5 374.9 1742.4 375.1 1745.4 375.3 1748.3 375.6 1751.3 375.8 1754.2 376.0 1757.1 376.2 1760.1 376.4 1763.0 376.7 1765.9 376.9 1768.9 377.1 1771.8 377.3 1774.7 377.5 1777.6 377.7 1780.5 378.0 1783.4 378.2 1786.3 378.4 1789.3 378.6 1792.2 378.8 1795.0 379.0 1797.9 379.3 1800.8 379.5 1803.7 379.7 1806.6 379.9 1809.5 380.1 1812.4 380.3 1815.2 380.6 1818.1 380.8 1821.0 381.0 1823.9 381.2 1826.7 381.4 1829.6 381.7 1832.5 381.9 1835.3 382.1 1838.2 382.3 1841.0 382.5 1843.9 382.7 1846.7 383.0 1849.6 383.2 1852.4 383.4 1855.3 383.6 1858.1 383.8 1860.9 384.0 1863.8 384.3 1866.6 384.5 1869.4 384.7 1872.3 384.9 1875.1 385.1 1877.9 385.4 1880.8 385.6 1883.6 385.8 1886.4 386.0 1889.2 386.2 1892.0 386.4 1894.9 386.7 1897.7 386.9 1900.5 387.1 1903.3 387.3 1906.1 387.5 1908.9 387.7 1911.7 388.0 1914.5 388.2 1917.3 388.4 1920.1 388.6 1922.9 388.8 1925.7 389.0 1928.5 389.3 1931.3 389.5 1934.1 389.7 1936.9 389.9 1939.7 390.1 1942.4 390.4 1945.2 390.6 1948.0 390.8 1950.8 391.0 1953.6 391.2 1956.4 391.4 1959.1 391.7 1961.9 391.9 1964.7 392.1 1967.5 392.3 1970.2 392.5 1973.0 392.7 1975.8 393.0 1978.5 393.2 1981.3 393.4 1984.1 393.6 1986.8 393.8 1989.6 394.0 1992.4 394.3 1995.1 394.5 1997.9 394.7 2000.7 394.9 2003.4 395.1 2006.2 395.4 2008.9 395.6 2011.7"/>
</g>
<g fill="none" stroke="#000">
<line x1="313.5" y1="31" x2="313.5" y2="1984" stroke-width="5.2"/>
<line x1="311" y1="1981" x2="2261" y2="1981" stroke-width="5.2"/>
<line x1="311" y1="34.8" x2="2261" y2="34.8" stroke-width="7.6"/>
<line x1="2257.6" y1="31" x2="2257.6" y2="2013.5" stroke-width="7"/>
<line x1="281" y1="108.7" x2="313" y2="108.7" stroke-width="7.6"/>
<line x1="281" y1="1044.3" x2="313" y2="1044.3" stroke-width="7.6"/>
<line x1="281" y1="1979.9" x2="313" y2="1979.9" stroke-width="7.6"/>
<line x1="294" y1="762.7" x2="313" y2="762.7" stroke-width="7.4"/>
<line x1="294" y1="597.9" x2="313" y2="597.9" stroke-width="7.4"/>
<line x1="294" y1="481.0" x2="313" y2="481.0" stroke-width="7.4"/>
<line x1="294" y1="390.3" x2="313" y2="390.3" stroke-width="7.4"/>
<line x1="294" y1="316.3" x2="313" y2="316.3" stroke-width="7.4"/>
<line x1="294" y1="253.6" x2="313" y2="253.6" stroke-width="7.4"/>
<line x1="294" y1="199.4" x2="313" y2="199.4" stroke-width="7.4"/>
<line x1="294" y1="151.5" x2="313" y2="151.5" stroke-width="7.4"/>
<line x1="294" y1="1698.3" x2="313" y2="1698.3" stroke-width="7.4"/>
<line x1="294" y1="1533.5" x2="313" y2="1533.5" stroke-width="7.4"/>
<line x1="294" y1="1416.6" x2="313" y2="1416.6" stroke-width="7.4"/>
<line x1="294" y1="1325.9" x2="313" y2="1325.9" stroke-width="7.4"/>
<line x1="294" y1="1251.9" x2="313" y2="1251.9" stroke-width="7.4"/>
<line x1="294" y1="1189.2" x2="313" y2="1189.2" stroke-width="7.4"/>
<line x1="294" y1="1135.0" x2="313" y2="1135.0" stroke-width="7.4"/>
<line x1="294" y1="1087.1" x2="313" y2="1087.1" stroke-width="7.4"/>
<line x1="313.8" y1="1981" x2="313.8" y2="2013.5" stroke-width="5"/>
<line x1="556.8" y1="1981" x2="556.8" y2="2013.5" stroke-width="5"/>
<line x1="799.8" y1="1981" x2="799.8" y2="2013.5" stroke-width="5"/>
<line x1="1042.8" y1="1981" x2="1042.8" y2="2013.5" stroke-width="5"/>
<line x1="1285.8" y1="1981" x2="1285.8" y2="2013.5" stroke-width="5"/>
<line x1="1528.8" y1="1981" x2="1528.8" y2="2013.5" stroke-width="5"/>
<line x1="1771.8" y1="1981" x2="1771.8" y2="2013.5" stroke-width="5"/>
<line x1="2014.8" y1="1981" x2="2014.8" y2="2013.5" stroke-width="5"/>
<line x1="435.3" y1="1981" x2="435.3" y2="2000.5" stroke-width="5"/>
<line x1="678.3" y1="1981" x2="678.3" y2="2000.5" stroke-width="5"/>
<line x1="921.3" y1="1981" x2="921.3" y2="2000.5" stroke-width="5"/>
<line x1="1164.3" y1="1981" x2="1164.3" y2="2000.5" stroke-width="5"/>
<line x1="1407.3" y1="1981" x2="1407.3" y2="2000.5" stroke-width="5"/>
<line x1="1650.3" y1="1981" x2="1650.3" y2="2000.5" stroke-width="5"/>
<line x1="1893.3" y1="1981" x2="1893.3" y2="2000.5" stroke-width="5"/>
<line x1="2136.3" y1="1981" x2="2136.3" y2="2000.5" stroke-width="5"/>
</g>
<text transform="translate(254.0 129.1) scale(0.850 1)" font-family="Liberation Sans, Arial, sans-serif" font-size="72" text-anchor="end">1</text>
<text transform="translate(254.0 1064.7) scale(0.850 1)" font-family="Liberation Sans, Arial, sans-serif" font-size="72" text-anchor="end">0.1</text>
<text transform="translate(254.0 2000.3) scale(0.850 1)" font-family="Liberation Sans, Arial, sans-serif" font-size="72" text-anchor="end">0.01</text>
<text x="313.8" y="2081.6" font-family="Liberation Sans, Arial, sans-serif" font-size="64" text-anchor="middle">0</text>
<text x="556.8" y="2081.6" font-family="Liberation Sans, Arial, sans-serif" font-size="64" text-anchor="middle">1000</text>
<text x="799.8" y="2081.6" font-family="Liberation Sans, Arial, sans-serif" font-size="64" text-anchor="middle">2000</text>
<text x="1042.8" y="2081.6" font-family="Liberation Sans, Arial, sans-serif" font-size="64" text-anchor="middle">3000</text>
<text x="1285.8" y="2081.6" font-family="Liberation Sans, Arial, sans-serif" font-size="64" text-anchor="middle">4000</text>
<text x="1528.8" y="2081.6" font-family="Liberation Sans, Arial, sans-serif" font-size="64" text-anchor="middle">5000</text>
<text x="1771.8" y="2081.6" font-family="Liberation Sans, Arial, sans-serif" font-size="64" text-anchor="middle">6000</text>
<text x="2014.8" y="2081.6" font-family="Liberation Sans, Arial, sans-serif" font-size="64" text-anchor="middle">7000</text>
<text x="2257.8" y="2081.6" font-family="Liberation Sans, Arial, sans-serif" font-size="64" text-anchor="middle">8000</text>
<text transform="translate(1115.7 2212.2) scale(1.036 1)" font-family="Liberation Sans, Arial, sans-serif" font-size="78">Time (&#181;s)</text>
<text transform="translate(81.4 1638.0) rotate(-90)" font-family="Liberation Sans, Arial, sans-serif" font-size="78" textLength="1330.8" lengthAdjust="spacingAndGlyphs">Log(luminescence intensity (arb.u.))</text>
<text transform="translate(511.8 185.6) scale(1.020 1)" font-family="Liberation Sans, Arial, sans-serif" font-size="78" font-weight="bold">glass-ceramics</text>
<text x="511.5" y="319.4" font-family="Liberation Sans, Arial, sans-serif" font-size="78" font-weight="bold">Dy</text>
<text x="613.5" y="280.5" font-family="Liberation Sans, Arial, sans-serif" font-size="47" font-weight="bold">3+</text>
<text x="666.8" y="319.4" font-family="Liberation Sans, Arial, sans-serif" font-size="78" font-weight="bold">:</text>
<text transform="translate(715.0 319.4) scale(1.100 1)" font-family="Liberation Serif, Times New Roman, serif" font-size="78">&#964;</text>
<text x="749.0" y="319.4" font-family="Liberation Sans, Arial, sans-serif" font-size="78" font-weight="bold">(</text>
<text x="776.5" y="282.0" font-family="Liberation Sans, Arial, sans-serif" font-size="50" font-weight="bold">4</text>
<text x="802.5" y="319.4" font-family="Liberation Sans, Arial, sans-serif" font-size="78" font-weight="bold">F</text>
<text x="850.7" y="347.4" font-family="Liberation Sans, Arial, sans-serif" font-size="44" font-weight="bold">9/2</text>
<text x="921.0" y="319.4" font-family="Liberation Sans, Arial, sans-serif" font-size="78" font-weight="bold">)</text>
<line x1="1853" y1="171.0" x2="1991" y2="171.0" stroke="#8000ff" stroke-width="7.4"/>
<text x="2011.0" y="188.9" font-family="Liberation Sans, Arial, sans-serif" font-size="64">GC1</text>
<line x1="1853" y1="274.7" x2="1991" y2="274.7" stroke="#0000ff" stroke-width="7.4"/>
<text x="2011.0" y="292.7" font-family="Liberation Sans, Arial, sans-serif" font-size="64">GC2</text>
<line x1="1853" y1="375.7" x2="1991" y2="375.7" stroke="#00ffff" stroke-width="7.4"/>
<text x="2011.0" y="393.7" font-family="Liberation Sans, Arial, sans-serif" font-size="64">GC3</text>
<line x1="1853" y1="476.7" x2="1991" y2="476.7" stroke="#00ff00" stroke-width="7.4"/>
<text x="2011.0" y="498.0" font-family="Liberation Sans, Arial, sans-serif" font-size="64">GC4</text>
<line x1="1853" y1="580.0" x2="1991" y2="580.0" stroke="#ff8000" stroke-width="7.4"/>
<text x="2011.0" y="599.1" font-family="Liberation Sans, Arial, sans-serif" font-size="64">GC5</text>
<line x1="1853" y1="678.5" x2="1991" y2="678.5" stroke="#ff0000" stroke-width="7.4"/>
<text x="2011.0" y="701.0" font-family="Liberation Sans, Arial, sans-serif" font-size="64">GC6</text>
<text transform="translate(1831.2 956.5) scale(1.110 1)" font-family="Liberation Serif, Times New Roman, serif" font-size="64">&#955;</text>
<text x="1866.6" y="982.1" font-family="Liberation Sans, Arial, sans-serif" font-size="40">ex</text>
<text x="1931.0" y="955.4" font-family="Liberation Sans, Arial, sans-serif" font-size="64">=</text>
<text x="1985.6" y="955.4" font-family="Liberation Sans, Arial, sans-serif" font-size="64">351</text>
<text x="2110.0" y="955.4" font-family="Liberation Sans, Arial, sans-serif" font-size="64">nm</text>
<text transform="translate(1818.4 1059.3) scale(1.110 1)" font-family="Liberation Serif, Times New Roman, serif" font-size="64">&#955;</text>
<text x="1852.6" y="1083.9" font-family="Liberation Sans, Arial, sans-serif" font-size="40">em</text>
<text x="1932.0" y="1058.2" font-family="Liberation Sans, Arial, sans-serif" font-size="64">=</text>
<text x="1986.6" y="1058.2" font-family="Liberation Sans, Arial, sans-serif" font-size="64">570</text>
<text x="2112.0" y="1058.2" font-family="Liberation Sans, Arial, sans-serif" font-size="64">nm</text>
</svg>
</body></html>
